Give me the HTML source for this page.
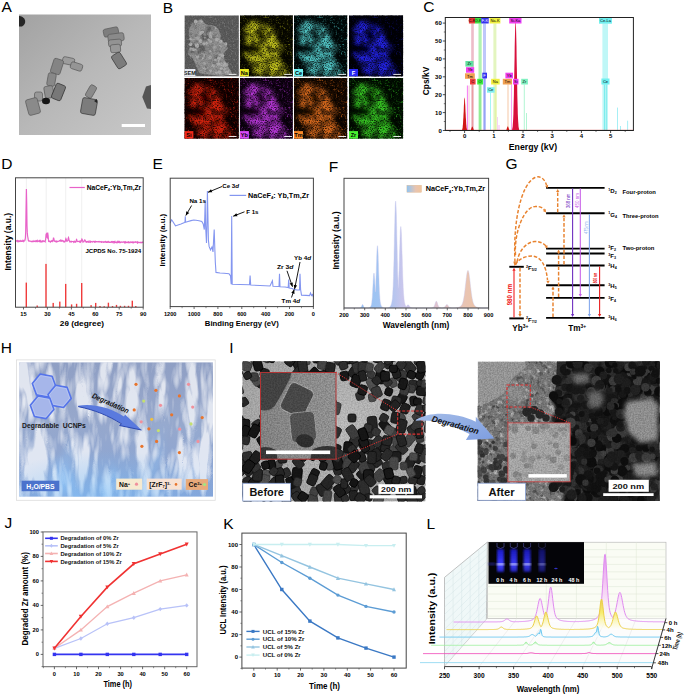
<!DOCTYPE html><html><head><meta charset="utf-8"><style>html,body{margin:0;padding:0;background:#fff;overflow:hidden}svg{display:block;font-family:"Liberation Sans",sans-serif}</style></head><body>
<svg width="685" height="695" viewBox="0 0 685 695">
<rect width="685" height="695" fill="#fff"/>
<text x="1.6" y="12.2" font-size="15.5" font-weight="normal" fill="#000" text-anchor="start" >A</text>
<text x="162.8" y="13.2" font-size="15.5" font-weight="normal" fill="#000" text-anchor="start" >B</text>
<text x="423.2" y="12.2" font-size="15.5" font-weight="normal" fill="#000" text-anchor="start" >C</text>
<text x="1.2" y="169.3" font-size="15.5" font-weight="normal" fill="#000" text-anchor="start" >D</text>
<text x="152.6" y="169.4" font-size="15.5" font-weight="normal" fill="#000" text-anchor="start" >E</text>
<text x="328.8" y="172.3" font-size="15.5" font-weight="normal" fill="#000" text-anchor="start" >F</text>
<text x="505.5" y="168.8" font-size="15.5" font-weight="normal" fill="#000" text-anchor="start" >G</text>
<text x="0.8" y="352.9" font-size="15.5" font-weight="normal" fill="#000" text-anchor="start" >H</text>
<text x="229.2" y="353.1" font-size="15.5" font-weight="normal" fill="#000" text-anchor="start" >I</text>
<text x="4.4" y="528.0" font-size="15.5" font-weight="normal" fill="#000" text-anchor="start" >J</text>
<text x="223.2" y="528.8" font-size="15.5" font-weight="normal" fill="#000" text-anchor="start" >K</text>
<text x="426.6" y="528.9" font-size="15.5" font-weight="normal" fill="#000" text-anchor="start" >L</text>
<defs><linearGradient id="gA" x1="0" y1="0" x2="1" y2="1"><stop offset="0" stop-color="#a2a2a2"/><stop offset="0.5" stop-color="#b8b8b8"/><stop offset="1" stop-color="#c8c8c8"/></linearGradient></defs>
<rect x="19.0" y="14.5" width="132.0" height="120.5" fill="url(#gA)" />
<defs><filter id="sA" x="-0.2" y="-0.2" width="1.4" height="1.4"><feGaussianBlur stdDeviation="0.55"/></filter></defs>
<g filter="url(#sA)">
<path d="M19,16 Q23,16 25,20 Q26,24 22,26.5 L19,26.5 Z" fill="#262626" stroke="none" stroke-width="1" />
<rect x="103.5" y="28.0" width="15" height="8" rx="2" fill="#7e7e7e" stroke="#5a5a5a" stroke-width="0.7" transform="rotate(-12 111 32)"/>
<rect x="108.0" y="33.5" width="16" height="8" rx="2" fill="#8a8a8a" stroke="#5a5a5a" stroke-width="0.7" transform="rotate(-8 116 37.5)"/>
<rect x="108.5" y="39.5" width="13" height="7" rx="2" fill="#939393" stroke="#5a5a5a" stroke-width="0.7" transform="rotate(-5 115 43)"/>
<rect x="110.5" y="44.5" width="10" height="8" rx="2" fill="#989898" stroke="#5a5a5a" stroke-width="0.7" transform="rotate(-5 115.5 48.5)"/>
<rect x="114.0" y="53.0" width="10" height="15" rx="2" fill="#7c7c7c" stroke="#3a3a3a" stroke-width="0.7" transform="rotate(-32 119 60.5)"/>
<rect x="62.5" y="57.5" width="12" height="7" rx="2" fill="#9c9c9c" stroke="#5a5a5a" stroke-width="0.7" transform="rotate(12 68.5 61)"/>
<rect x="70.5" y="63.0" width="12" height="7" rx="2" fill="#959595" stroke="#5a5a5a" stroke-width="0.7" transform="rotate(18 76.5 66.5)"/>
<rect x="52.0" y="59.0" width="10" height="15" rx="2" fill="#848484" stroke="#5a5a5a" stroke-width="0.7" transform="rotate(18 57 66.5)"/>
<rect x="47.5" y="73.0" width="8" height="13" rx="2" fill="#888888" stroke="#5a5a5a" stroke-width="0.7" transform="rotate(10 51.5 79.5)"/>
<rect x="44.5" y="86.0" width="9" height="12" rx="2" fill="#909090" stroke="#5a5a5a" stroke-width="0.7" transform="rotate(-10 49 92)"/>
<rect x="53.5" y="84.0" width="10" height="16" rx="2" fill="#787878" stroke="#303030" stroke-width="0.7" transform="rotate(22 58.5 92)"/>
<rect x="34.5" y="92.0" width="8" height="9" rx="2" fill="#989898" stroke="#5a5a5a" stroke-width="0.7" transform="rotate(0 38.5 96.5)"/>
<rect x="27.0" y="98.5" width="12" height="16" rx="2" fill="#8a8a8a" stroke="#5a5a5a" stroke-width="0.7" transform="rotate(-15 33 106.5)"/>
<ellipse cx="46" cy="101" rx="4" ry="3.2" fill="#161616"/>
<rect x="87.5" y="85.0" width="7" height="13" rx="2" fill="#8a8a8a" stroke="#5a5a5a" stroke-width="0.7" transform="rotate(30 91 91.5)"/>
<rect x="81.5" y="98.5" width="15" height="16" rx="2" fill="#7c7c7c" stroke="#3a3a3a" stroke-width="0.7" transform="rotate(10 89 106.5)"/>
<path d="M94,101 L97,99 L97,103 Z" fill="#222" stroke="none" stroke-width="1" />
<path d="M151,85 L146,86.5 L142.3,97 L147,108.5 L151,109 Z" fill="#555555" stroke="none" stroke-width="1" />
</g>
<rect x="121.7" y="124.0" width="23.3" height="3.0" fill="#fff" />
<defs><filter id="sH" x="-0.2" y="-0.2" width="1.4" height="1.4"><feGaussianBlur stdDeviation="1.3"/></filter><filter id="bsoft" x="-0.2" y="-0.2" width="1.4" height="1.4"><feGaussianBlur stdDeviation="2.2"/></filter><filter id="spkA" x="0" y="0" width="1" height="1"><feTurbulence type="fractalNoise" baseFrequency="0.85" numOctaves="1" seed="7"/><feColorMatrix values="0 0 0 0 0  0 0 0 0 0  0 0 0 0 0  -3.5 0 0 0 1.95"/></filter><filter id="spkL" x="0" y="0" width="1" height="1"><feTurbulence type="fractalNoise" baseFrequency="0.13" numOctaves="2" seed="4"/><feColorMatrix values="0 0 0 0 0  0 0 0 0 0  0 0 0 0 0  -4.0 0 0 0 2.3"/></filter><filter id="spkB" x="0" y="0" width="1" height="1"><feTurbulence type="fractalNoise" baseFrequency="0.55" numOctaves="2" seed="19"/><feColorMatrix values="0 0 0 0 1  0 0 0 0 1  0 0 0 0 1  4 0 0 0 -2.1"/></filter><mask id="mB" maskUnits="userSpaceOnUse" x="0" y="0" width="54.5" height="61.5"><rect x="0" y="0" width="54.5" height="61.5" fill="#fff" filter="url(#spkB)"/></mask><clipPath id="tileclip"><rect x="0" y="0" width="54.5" height="61.5"/></clipPath></defs>
<g transform="translate(184.4,15.3)" clip-path="url(#tc0)">
<clipPath id="tc0"><rect x="0" y="0" width="54.5" height="61.3"/></clipPath>
<rect x="0.0" y="0.0" width="54.5" height="61.3" fill="#5a5a5a" />
<g filter="url(#sA)"><path d="M10.7,6.2 L16.9,4.0 L22.3,9.8 L27.6,9.8 L33.9,13.4 L36.5,20.5 L35.7,25.0 L41.9,28.5 L42.8,33.9 L39.2,38.3 L40.1,44.6 L42.8,49.9 L46.3,55.3 L48.1,58.8 L37.4,60.6 L26.7,59.7 L15.2,57.9 L11.6,49.9 L8.0,42.8 L3.6,39.2 L2.7,30.3 L6.2,26.7 L4.5,19.6 L4.9,12.5 L8.0,8.9 Z" fill="#8e8e8e"/></g><g filter="url(#sH)"><path d="M16,16 L25,15.5 L25.5,25 L17,25.5 Z M2,28 L10,28.5 L19,29 L23,34 L19,38.5 L10,38 L2,37 Z M22.5,10.5 L28,11 L27.5,16 L22.5,15.5 Z M30,40 L36,41 L35,47 L30,46 Z" fill="#5a5a5a" opacity="0.9"/></g>
<circle cx="13.0" cy="50.2" r="1.4" fill="#7c7c7c"/>
<circle cx="12.8" cy="33.9" r="1.9" fill="#7c7c7c"/>
<circle cx="27.4" cy="51.0" r="1.5" fill="#848484"/>
<circle cx="6.3" cy="33.6" r="1.6" fill="#a2a2a2"/>
<circle cx="11.1" cy="11.7" r="1.9" fill="#7c7c7c"/>
<circle cx="37.7" cy="55.0" r="1.3" fill="#7c7c7c"/>
<circle cx="11.4" cy="20.1" r="1.3" fill="#7c7c7c"/>
<circle cx="42.2" cy="32.8" r="1.4" fill="#7c7c7c"/>
<circle cx="33.9" cy="56.1" r="1.5" fill="#7c7c7c"/>
<circle cx="28.6" cy="50.5" r="1.8" fill="#aaaaaa"/>
<circle cx="11.8" cy="28.8" r="1.8" fill="#848484"/>
<circle cx="20.8" cy="57.8" r="1.2" fill="#7c7c7c"/>
<circle cx="34.2" cy="45.5" r="1.3" fill="#aaaaaa"/>
<circle cx="25.5" cy="42.2" r="1.3" fill="#7c7c7c"/>
<circle cx="26.2" cy="21.5" r="1.7" fill="#aaaaaa"/>
<circle cx="6.1" cy="23.8" r="1.3" fill="#aaaaaa"/>
<circle cx="8.7" cy="9.1" r="2.0" fill="#7c7c7c"/>
<circle cx="12.6" cy="30.6" r="2.0" fill="#aaaaaa"/>
<circle cx="31.1" cy="44.7" r="1.6" fill="#aaaaaa"/>
<circle cx="14.5" cy="51.2" r="1.6" fill="#7c7c7c"/>
<circle cx="22.4" cy="33.0" r="1.6" fill="#a2a2a2"/>
<circle cx="10.2" cy="36.1" r="1.2" fill="#7c7c7c"/>
<circle cx="28.3" cy="19.2" r="1.8" fill="#848484"/>
<circle cx="40.5" cy="47.7" r="1.6" fill="#aaaaaa"/>
<circle cx="21.6" cy="53.0" r="2.0" fill="#aaaaaa"/>
<circle cx="35.6" cy="56.4" r="1.7" fill="#a2a2a2"/>
<circle cx="7.8" cy="21.9" r="1.4" fill="#7c7c7c"/>
<circle cx="32.7" cy="35.4" r="1.9" fill="#7c7c7c"/>
<circle cx="18.5" cy="41.4" r="1.3" fill="#aaaaaa"/>
<circle cx="24.5" cy="37.8" r="1.2" fill="#7c7c7c"/>
<circle cx="42.4" cy="49.3" r="1.7" fill="#a2a2a2"/>
<circle cx="21.0" cy="43.6" r="1.8" fill="#848484"/>
<circle cx="11.0" cy="34.6" r="1.5" fill="#a2a2a2"/>
<circle cx="12.4" cy="29.6" r="2.0" fill="#aaaaaa"/>
<circle cx="20.9" cy="40.2" r="1.5" fill="#848484"/>
<circle cx="35.4" cy="39.5" r="1.5" fill="#a2a2a2"/>
<circle cx="27.0" cy="47.9" r="1.4" fill="#848484"/>
<circle cx="43.0" cy="57.3" r="1.7" fill="#a2a2a2"/>
<circle cx="24.1" cy="18.4" r="1.8" fill="#848484"/>
<circle cx="5.1" cy="35.8" r="1.4" fill="#7c7c7c"/>
<circle cx="16.0" cy="25.6" r="1.8" fill="#aaaaaa"/>
<circle cx="37.1" cy="49.1" r="1.6" fill="#a2a2a2"/>
<circle cx="20.8" cy="52.9" r="1.7" fill="#aaaaaa"/>
<circle cx="16.5" cy="17.3" r="1.7" fill="#aaaaaa"/>
<circle cx="35.5" cy="36.5" r="1.5" fill="#7c7c7c"/>
<circle cx="7.9" cy="27.2" r="1.3" fill="#848484"/>
<circle cx="26.6" cy="17.9" r="2.0" fill="#a2a2a2"/>
<circle cx="17.8" cy="42.5" r="1.7" fill="#aaaaaa"/>
<circle cx="27.5" cy="26.3" r="1.8" fill="#848484"/>
<circle cx="31.7" cy="57.3" r="1.3" fill="#aaaaaa"/>
<circle cx="19.4" cy="28.5" r="1.6" fill="#aaaaaa"/>
<circle cx="28.0" cy="35.6" r="1.7" fill="#7c7c7c"/>
<circle cx="42.9" cy="58.1" r="1.3" fill="#848484"/>
<circle cx="30.2" cy="13.0" r="2.0" fill="#a2a2a2"/>
<circle cx="34.5" cy="43.0" r="2.0" fill="#aaaaaa"/>
<circle cx="6.2" cy="29.2" r="1.8" fill="#aaaaaa"/>
<circle cx="9.1" cy="39.0" r="1.4" fill="#848484"/>
<circle cx="42.8" cy="58.3" r="1.5" fill="#a2a2a2"/>
<circle cx="25.7" cy="45.1" r="1.9" fill="#848484"/>
<circle cx="36.5" cy="26.0" r="1.8" fill="#aaaaaa"/>
<circle cx="13.3" cy="20.2" r="1.7" fill="#7c7c7c"/>
<circle cx="26.4" cy="35.2" r="2.0" fill="#848484"/>
<circle cx="26.1" cy="25.0" r="1.2" fill="#848484"/>
<circle cx="26.5" cy="34.2" r="1.9" fill="#7c7c7c"/>
<circle cx="22.8" cy="55.0" r="1.7" fill="#7c7c7c"/>
<circle cx="8.8" cy="34.1" r="1.8" fill="#a2a2a2"/>
<circle cx="37.5" cy="58.7" r="1.2" fill="#a2a2a2"/>
<circle cx="15.7" cy="27.0" r="1.4" fill="#aaaaaa"/>
<circle cx="18.4" cy="39.6" r="1.9" fill="#aaaaaa"/>
<circle cx="16.7" cy="6.5" r="1.9" fill="#a2a2a2"/>
<circle cx="11.8" cy="36.2" r="1.6" fill="#848484"/>
<circle cx="16.6" cy="6.7" r="1.7" fill="#a2a2a2"/>
<circle cx="13.0" cy="50.5" r="1.8" fill="#848484"/>
<circle cx="32.6" cy="31.8" r="1.5" fill="#aaaaaa"/>
<circle cx="38.4" cy="59.8" r="1.4" fill="#848484"/>
<circle cx="33.6" cy="24.0" r="1.3" fill="#aaaaaa"/>
<circle cx="29.7" cy="32.0" r="1.7" fill="#a2a2a2"/>
<circle cx="27.2" cy="31.6" r="1.3" fill="#848484"/>
<circle cx="16.3" cy="42.6" r="1.6" fill="#7c7c7c"/>
<circle cx="43.3" cy="56.3" r="1.4" fill="#aaaaaa"/>
<circle cx="22.1" cy="27.9" r="1.4" fill="#aaaaaa"/>
<circle cx="16.2" cy="17.8" r="1.8" fill="#aaaaaa"/>
<circle cx="11.8" cy="26.3" r="1.9" fill="#7c7c7c"/>
<circle cx="15.3" cy="19.3" r="1.4" fill="#a2a2a2"/>
<circle cx="16.5" cy="39.9" r="1.3" fill="#a2a2a2"/>
<circle cx="25.7" cy="42.1" r="1.9" fill="#a2a2a2"/>
<circle cx="16.7" cy="40.9" r="1.7" fill="#848484"/>
<circle cx="26.2" cy="26.3" r="1.5" fill="#aaaaaa"/>
<circle cx="13.5" cy="22.6" r="2.0" fill="#a2a2a2"/>
<circle cx="21.6" cy="51.4" r="1.5" fill="#7c7c7c"/>
<circle cx="37.0" cy="52.9" r="1.5" fill="#aaaaaa"/>
<circle cx="18.3" cy="16.7" r="1.6" fill="#aaaaaa"/>
<circle cx="32.7" cy="54.8" r="1.5" fill="#848484"/>
<circle cx="22.8" cy="49.4" r="1.2" fill="#848484"/>
<circle cx="41.3" cy="56.5" r="1.3" fill="#aaaaaa"/>
<circle cx="35.4" cy="31.0" r="1.4" fill="#a2a2a2"/>
<circle cx="34.7" cy="56.9" r="1.9" fill="#aaaaaa"/>
<circle cx="27.9" cy="30.0" r="1.2" fill="#7c7c7c"/>
<circle cx="16.9" cy="29.1" r="1.2" fill="#7c7c7c"/>
<circle cx="39.9" cy="50.3" r="2.0" fill="#aaaaaa"/>
<circle cx="6.5" cy="18.7" r="1.8" fill="#7c7c7c"/>
<circle cx="25.9" cy="36.1" r="1.4" fill="#a2a2a2"/>
<circle cx="37.8" cy="40.1" r="2.0" fill="#aaaaaa"/>
<circle cx="22.2" cy="33.1" r="1.7" fill="#848484"/>
<circle cx="13.0" cy="41.2" r="1.5" fill="#aaaaaa"/>
<circle cx="28.5" cy="13.1" r="2.0" fill="#7c7c7c"/>
<circle cx="17.7" cy="36.8" r="1.5" fill="#7c7c7c"/>
<circle cx="20.7" cy="22.5" r="1.3" fill="#848484"/>
<circle cx="30.0" cy="47.4" r="1.9" fill="#7c7c7c"/>
<circle cx="20.2" cy="48.1" r="1.3" fill="#a2a2a2"/>
<circle cx="17.3" cy="40.3" r="1.7" fill="#7c7c7c"/>
<circle cx="29.6" cy="21.6" r="1.9" fill="#7c7c7c"/>
<circle cx="8.7" cy="23.3" r="2.0" fill="#a2a2a2"/>
<circle cx="25.2" cy="31.3" r="1.9" fill="#7c7c7c"/>
<circle cx="26.1" cy="55.5" r="1.3" fill="#aaaaaa"/>
<circle cx="25.5" cy="20.2" r="1.5" fill="#a2a2a2"/>
<circle cx="32.1" cy="24.3" r="1.7" fill="#aaaaaa"/>
<circle cx="20.3" cy="18.7" r="1.7" fill="#848484"/>
<circle cx="17.5" cy="17.0" r="1.3" fill="#aaaaaa"/>
<circle cx="31.0" cy="19.3" r="1.3" fill="#7c7c7c"/>
<circle cx="33.8" cy="31.9" r="1.7" fill="#848484"/>
<circle cx="8.9" cy="10.9" r="1.2" fill="#848484"/>
<circle cx="41.5" cy="28.5" r="1.5" fill="#aaaaaa"/>
<circle cx="8.9" cy="22.3" r="1.6" fill="#848484"/>
<circle cx="24.3" cy="24.4" r="1.2" fill="#a2a2a2"/>
<circle cx="33.9" cy="48.7" r="2.0" fill="#aaaaaa"/>
<circle cx="39.9" cy="54.4" r="1.6" fill="#a2a2a2"/>
<circle cx="12.7" cy="38.9" r="1.2" fill="#7c7c7c"/>
<circle cx="11.3" cy="6.1" r="1.9" fill="#aaaaaa"/>
<rect x="0" y="0" width="54.5" height="61.5" fill="#000" filter="url(#spkA)" opacity="0.12"/>
<rect x="0" y="0" width="54.5" height="61.5" fill="#fff" filter="url(#spkB)" opacity="0.15"/>
<rect x="0.0" y="53.7" width="11.0" height="7.6" fill="#e6e8f0" />
<text x="5.5" y="59.4" font-size="5.6" font-weight="bold" fill="#222" text-anchor="middle" >SEM</text>
<line x1="44.3" y1="59.1" x2="52.1" y2="59.1" stroke="#fff" stroke-width="0.9" />
</g>
<g transform="translate(239.9,15.3)" clip-path="url(#tc1)">
<clipPath id="tc1"><rect x="0" y="0" width="53.0" height="61.3"/></clipPath>
<rect x="0.0" y="0.0" width="53.0" height="61.3" fill="#0c0c00" />
<rect x="0" y="0" width="54.5" height="61.5" fill="#c0c020" mask="url(#mB)" opacity="0.45"/>
<g filter="url(#bsoft)"><path d="M10.7,6.2 L16.9,4.0 L22.3,9.8 L27.6,9.8 L33.9,13.4 L36.5,20.5 L35.7,25.0 L41.9,28.5 L42.8,33.9 L39.2,38.3 L40.1,44.6 L42.8,49.9 L46.3,55.3 L48.1,58.8 L37.4,60.6 L26.7,59.7 L15.2,57.9 L11.6,49.9 L8.0,42.8 L3.6,39.2 L2.7,30.3 L6.2,26.7 L4.5,19.6 L4.9,12.5 L8.0,8.9 Z" fill="#bcbc1c"/><path d="M16,16 L25,15.5 L25.5,25 L17,25.5 Z M2,28 L10,28.5 L19,29 L23,34 L19,38.5 L10,38 L2,37 Z M22.5,10.5 L28,11 L27.5,16 L22.5,15.5 Z M30,40 L36,41 L35,47 L30,46 Z" fill="#0c0c00"/></g>
<rect x="0" y="0" width="54.5" height="61.5" fill="#000" filter="url(#spkL)" opacity="0.5"/>
<rect x="0" y="0" width="54.5" height="61.5" fill="#000" filter="url(#spkA)" opacity="0.75"/>
<rect x="0.0" y="53.7" width="9.0" height="7.6" fill="#e8e820" />
<text x="4.5" y="59.4" font-size="5.6" font-weight="bold" fill="#000" text-anchor="middle" >Na</text>
<line x1="44.3" y1="59.1" x2="52.1" y2="59.1" stroke="#fff" stroke-width="0.9" />
</g>
<g transform="translate(294.0,15.3)" clip-path="url(#tc2)">
<clipPath id="tc2"><rect x="0" y="0" width="53.4" height="61.3"/></clipPath>
<rect x="0.0" y="0.0" width="53.4" height="61.3" fill="#000c0c" />
<rect x="0" y="0" width="54.5" height="61.5" fill="#50c0c0" mask="url(#mB)" opacity="0.6"/>
<g filter="url(#bsoft)"><path d="M10.7,6.2 L16.9,4.0 L22.3,9.8 L27.6,9.8 L33.9,13.4 L36.5,20.5 L35.7,25.0 L41.9,28.5 L42.8,33.9 L39.2,38.3 L40.1,44.6 L42.8,49.9 L46.3,55.3 L48.1,58.8 L37.4,60.6 L26.7,59.7 L15.2,57.9 L11.6,49.9 L8.0,42.8 L3.6,39.2 L2.7,30.3 L6.2,26.7 L4.5,19.6 L4.9,12.5 L8.0,8.9 Z" fill="#50c0c0"/><path d="M16,16 L25,15.5 L25.5,25 L17,25.5 Z M2,28 L10,28.5 L19,29 L23,34 L19,38.5 L10,38 L2,37 Z M22.5,10.5 L28,11 L27.5,16 L22.5,15.5 Z M30,40 L36,41 L35,47 L30,46 Z" fill="#000c0c"/></g>
<rect x="0" y="0" width="54.5" height="61.5" fill="#000" filter="url(#spkL)" opacity="0.5"/>
<rect x="0" y="0" width="54.5" height="61.5" fill="#000" filter="url(#spkA)" opacity="0.75"/>
<rect x="0.0" y="53.7" width="9.0" height="7.6" fill="#6ef0f0" />
<text x="4.5" y="59.4" font-size="5.6" font-weight="bold" fill="#000" text-anchor="middle" >Ce</text>
<line x1="44.3" y1="59.1" x2="52.1" y2="59.1" stroke="#fff" stroke-width="0.9" />
</g>
<g transform="translate(349.0,15.3)" clip-path="url(#tc3)">
<clipPath id="tc3"><rect x="0" y="0" width="54.2" height="61.3"/></clipPath>
<rect x="0.0" y="0.0" width="54.2" height="61.3" fill="#000008" />
<rect x="0" y="0" width="54.5" height="61.5" fill="#2020d0" mask="url(#mB)" opacity="0.35"/>
<g filter="url(#bsoft)"><path d="M10.7,6.2 L16.9,4.0 L22.3,9.8 L27.6,9.8 L33.9,13.4 L36.5,20.5 L35.7,25.0 L41.9,28.5 L42.8,33.9 L39.2,38.3 L40.1,44.6 L42.8,49.9 L46.3,55.3 L48.1,58.8 L37.4,60.6 L26.7,59.7 L15.2,57.9 L11.6,49.9 L8.0,42.8 L3.6,39.2 L2.7,30.3 L6.2,26.7 L4.5,19.6 L4.9,12.5 L8.0,8.9 Z" fill="#2222e0"/><path d="M16,16 L25,15.5 L25.5,25 L17,25.5 Z M2,28 L10,28.5 L19,29 L23,34 L19,38.5 L10,38 L2,37 Z M22.5,10.5 L28,11 L27.5,16 L22.5,15.5 Z M30,40 L36,41 L35,47 L30,46 Z" fill="#000008"/></g>
<rect x="0" y="0" width="54.5" height="61.5" fill="#000" filter="url(#spkL)" opacity="0.5"/>
<rect x="0" y="0" width="54.5" height="61.5" fill="#000" filter="url(#spkA)" opacity="0.75"/>
<rect x="0.0" y="53.7" width="9.0" height="7.6" fill="#2828f0" />
<text x="4.5" y="59.4" font-size="5.6" font-weight="bold" fill="#fff" text-anchor="middle" >F</text>
<line x1="44.3" y1="59.1" x2="52.1" y2="59.1" stroke="#fff" stroke-width="0.9" />
</g>
<g transform="translate(184.4,78.0)" clip-path="url(#tc4)">
<clipPath id="tc4"><rect x="0" y="0" width="54.5" height="60.7"/></clipPath>
<rect x="0.0" y="0.0" width="54.5" height="60.7" fill="#1c0200" />
<rect x="0" y="0" width="54.5" height="61.5" fill="#c02010" mask="url(#mB)" opacity="0.75"/>
<g filter="url(#bsoft)"><path d="M10.7,6.2 L16.9,4.0 L22.3,9.8 L27.6,9.8 L33.9,13.4 L36.5,20.5 L35.7,25.0 L41.9,28.5 L42.8,33.9 L39.2,38.3 L40.1,44.6 L42.8,49.9 L46.3,55.3 L48.1,58.8 L37.4,60.6 L26.7,59.7 L15.2,57.9 L11.6,49.9 L8.0,42.8 L3.6,39.2 L2.7,30.3 L6.2,26.7 L4.5,19.6 L4.9,12.5 L8.0,8.9 Z" fill="#d02410"/><path d="M16,16 L25,15.5 L25.5,25 L17,25.5 Z M2,28 L10,28.5 L19,29 L23,34 L19,38.5 L10,38 L2,37 Z M22.5,10.5 L28,11 L27.5,16 L22.5,15.5 Z M30,40 L36,41 L35,47 L30,46 Z" fill="#1c0200"/></g>
<rect x="0" y="0" width="54.5" height="61.5" fill="#000" filter="url(#spkL)" opacity="0.5"/>
<rect x="0" y="0" width="54.5" height="61.5" fill="#000" filter="url(#spkA)" opacity="0.75"/>
<rect x="0.0" y="53.1" width="9.0" height="7.6" fill="#f02818" />
<text x="4.5" y="58.8" font-size="5.6" font-weight="bold" fill="#000" text-anchor="middle" >Si</text>
<line x1="44.3" y1="58.5" x2="52.1" y2="58.5" stroke="#fff" stroke-width="0.9" />
</g>
<g transform="translate(239.9,78.0)" clip-path="url(#tc5)">
<clipPath id="tc5"><rect x="0" y="0" width="53.0" height="60.7"/></clipPath>
<rect x="0.0" y="0.0" width="53.0" height="60.7" fill="#140218" />
<rect x="0" y="0" width="54.5" height="61.5" fill="#a030c0" mask="url(#mB)" opacity="0.7"/>
<g filter="url(#bsoft)"><path d="M10.7,6.2 L16.9,4.0 L22.3,9.8 L27.6,9.8 L33.9,13.4 L36.5,20.5 L35.7,25.0 L41.9,28.5 L42.8,33.9 L39.2,38.3 L40.1,44.6 L42.8,49.9 L46.3,55.3 L48.1,58.8 L37.4,60.6 L26.7,59.7 L15.2,57.9 L11.6,49.9 L8.0,42.8 L3.6,39.2 L2.7,30.3 L6.2,26.7 L4.5,19.6 L4.9,12.5 L8.0,8.9 Z" fill="#b034d0"/><path d="M16,16 L25,15.5 L25.5,25 L17,25.5 Z M2,28 L10,28.5 L19,29 L23,34 L19,38.5 L10,38 L2,37 Z M22.5,10.5 L28,11 L27.5,16 L22.5,15.5 Z M30,40 L36,41 L35,47 L30,46 Z" fill="#140218"/></g>
<rect x="0" y="0" width="54.5" height="61.5" fill="#000" filter="url(#spkL)" opacity="0.5"/>
<rect x="0" y="0" width="54.5" height="61.5" fill="#000" filter="url(#spkA)" opacity="0.75"/>
<rect x="0.0" y="53.1" width="9.0" height="7.6" fill="#d848f8" />
<text x="4.5" y="58.8" font-size="5.6" font-weight="bold" fill="#000" text-anchor="middle" >Yb</text>
<line x1="44.3" y1="58.5" x2="52.1" y2="58.5" stroke="#fff" stroke-width="0.9" />
</g>
<g transform="translate(294.0,78.0)" clip-path="url(#tc6)">
<clipPath id="tc6"><rect x="0" y="0" width="53.4" height="60.7"/></clipPath>
<rect x="0.0" y="0.0" width="53.4" height="60.7" fill="#1c0c02" />
<rect x="0" y="0" width="54.5" height="61.5" fill="#c06018" mask="url(#mB)" opacity="0.75"/>
<g filter="url(#bsoft)"><path d="M10.7,6.2 L16.9,4.0 L22.3,9.8 L27.6,9.8 L33.9,13.4 L36.5,20.5 L35.7,25.0 L41.9,28.5 L42.8,33.9 L39.2,38.3 L40.1,44.6 L42.8,49.9 L46.3,55.3 L48.1,58.8 L37.4,60.6 L26.7,59.7 L15.2,57.9 L11.6,49.9 L8.0,42.8 L3.6,39.2 L2.7,30.3 L6.2,26.7 L4.5,19.6 L4.9,12.5 L8.0,8.9 Z" fill="#d0661c"/><path d="M16,16 L25,15.5 L25.5,25 L17,25.5 Z M2,28 L10,28.5 L19,29 L23,34 L19,38.5 L10,38 L2,37 Z M22.5,10.5 L28,11 L27.5,16 L22.5,15.5 Z M30,40 L36,41 L35,47 L30,46 Z" fill="#1c0c02"/></g>
<rect x="0" y="0" width="54.5" height="61.5" fill="#000" filter="url(#spkL)" opacity="0.5"/>
<rect x="0" y="0" width="54.5" height="61.5" fill="#000" filter="url(#spkA)" opacity="0.75"/>
<rect x="0.0" y="53.1" width="9.0" height="7.6" fill="#f88828" />
<text x="4.5" y="58.8" font-size="5.6" font-weight="bold" fill="#000" text-anchor="middle" >Tm</text>
<line x1="44.3" y1="58.5" x2="52.1" y2="58.5" stroke="#fff" stroke-width="0.9" />
</g>
<g transform="translate(349.0,78.0)" clip-path="url(#tc7)">
<clipPath id="tc7"><rect x="0" y="0" width="54.2" height="60.7"/></clipPath>
<rect x="0.0" y="0.0" width="54.2" height="60.7" fill="#021202" />
<rect x="0" y="0" width="54.5" height="61.5" fill="#30b020" mask="url(#mB)" opacity="0.7"/>
<g filter="url(#bsoft)"><path d="M10.7,6.2 L16.9,4.0 L22.3,9.8 L27.6,9.8 L33.9,13.4 L36.5,20.5 L35.7,25.0 L41.9,28.5 L42.8,33.9 L39.2,38.3 L40.1,44.6 L42.8,49.9 L46.3,55.3 L48.1,58.8 L37.4,60.6 L26.7,59.7 L15.2,57.9 L11.6,49.9 L8.0,42.8 L3.6,39.2 L2.7,30.3 L6.2,26.7 L4.5,19.6 L4.9,12.5 L8.0,8.9 Z" fill="#36c024"/><path d="M16,16 L25,15.5 L25.5,25 L17,25.5 Z M2,28 L10,28.5 L19,29 L23,34 L19,38.5 L10,38 L2,37 Z M22.5,10.5 L28,11 L27.5,16 L22.5,15.5 Z M30,40 L36,41 L35,47 L30,46 Z" fill="#021202"/></g>
<rect x="0" y="0" width="54.5" height="61.5" fill="#000" filter="url(#spkL)" opacity="0.5"/>
<rect x="0" y="0" width="54.5" height="61.5" fill="#000" filter="url(#spkA)" opacity="0.75"/>
<rect x="0.0" y="53.1" width="9.0" height="7.6" fill="#48f030" />
<text x="4.5" y="58.8" font-size="5.6" font-weight="bold" fill="#000" text-anchor="middle" >Zr</text>
<line x1="44.3" y1="58.5" x2="52.1" y2="58.5" stroke="#fff" stroke-width="0.9" />
</g>
<rect x="471.2" y="23.5" width="2.6" height="107.0" fill="#e6a0b0" opacity="0.7"/>
<rect x="478.5" y="23.5" width="3.2" height="107.0" fill="#90ee90" opacity="0.7"/>
<rect x="483.0" y="23.5" width="3.0" height="107.0" fill="#a8b4f8" opacity="0.75"/>
<rect x="493.4" y="23.5" width="3.0" height="107.0" fill="#e0f4b8" opacity="0.9"/>
<rect x="602.4" y="23.5" width="5.6" height="107.0" fill="#b8f6f6" opacity="0.9"/>
<line x1="467.4" y1="130.5" x2="467.4" y2="85.5" stroke="#f040f0" stroke-width="0.7" />
<line x1="469.0" y1="130.5" x2="469.0" y2="85.5" stroke="#f4b0c0" stroke-width="0.7" />
<line x1="472.5" y1="130.5" x2="472.5" y2="84.5" stroke="#e89090" stroke-width="0.7" />
<line x1="480.0" y1="130.5" x2="480.0" y2="84.5" stroke="#60e060" stroke-width="0.7" />
<line x1="484.6" y1="130.5" x2="484.6" y2="78.4" stroke="#8090f0" stroke-width="0.7" />
<line x1="490.5" y1="130.5" x2="490.5" y2="92.7" stroke="#80f0f0" stroke-width="0.7" />
<line x1="496.0" y1="130.5" x2="496.0" y2="84.5" stroke="#e0f080" stroke-width="0.7" />
<line x1="508.0" y1="130.5" x2="508.0" y2="84.5" stroke="#f0b080" stroke-width="0.7" />
<line x1="511.5" y1="130.5" x2="511.5" y2="84.5" stroke="#f080f0" stroke-width="0.7" />
<line x1="524.3" y1="130.5" x2="524.3" y2="84.5" stroke="#90f0c0" stroke-width="0.7" />
<line x1="526.5" y1="130.5" x2="526.5" y2="113.0" stroke="#90f0c0" stroke-width="0.7" />
<line x1="604.5" y1="130.5" x2="604.5" y2="84.5" stroke="#60e8e8" stroke-width="0.7" />
<line x1="606.3" y1="130.5" x2="606.3" y2="84.5" stroke="#60e8e8" stroke-width="0.7" />
<line x1="617.5" y1="130.5" x2="617.5" y2="107.6" stroke="#80e8f0" stroke-width="0.7" />
<line x1="620.5" y1="130.5" x2="620.5" y2="126.0" stroke="#80e8f0" stroke-width="0.7" />
<line x1="627.6" y1="130.5" x2="627.6" y2="120.7" stroke="#80e8f0" stroke-width="0.7" />
<line x1="497.5" y1="130.5" x2="497.5" y2="117.0" stroke="#f0c0f0" stroke-width="0.7" />
<line x1="499.0" y1="130.5" x2="499.0" y2="125.0" stroke="#f0a0f0" stroke-width="0.7" />
<polygon points="461.9,130.1 462.0,129.9 462.2,129.6 462.3,129.2 462.4,128.6 462.6,127.9 462.7,126.9 462.8,125.6 463.0,123.9 463.1,122.0 463.2,119.8 463.4,117.2 463.5,114.4 463.7,111.4 463.8,108.4 463.9,105.5 464.1,102.9 464.2,100.6 464.3,98.9 464.5,97.8 464.6,97.4 464.7,97.8 464.9,98.9 465.0,100.6 465.1,102.9 465.3,105.5 465.4,108.4 465.5,111.4 465.7,114.4 465.8,117.2 466.0,119.8 466.1,122.0 466.2,123.9 466.4,125.6 466.5,126.9 466.6,127.9 466.8,128.6 466.9,129.2 467.0,129.6 467.2,129.9 467.3,130.1 467.3,130.5 461.9,130.5" fill="#d01414" stroke="none" stroke-width="1" />
<polygon points="469.9,130.5 470.0,130.4 470.1,130.4 470.3,130.3 470.4,130.3 470.5,130.2 470.6,130.1 470.7,129.9 470.9,129.7 471.0,129.5 471.1,129.2 471.2,128.9 471.3,128.6 471.5,128.2 471.6,127.8 471.7,127.5 471.8,127.2 471.9,126.9 472.1,126.7 472.2,126.5 472.3,126.5 472.4,126.5 472.5,126.7 472.7,126.9 472.8,127.2 472.9,127.5 473.0,127.8 473.1,128.2 473.3,128.6 473.4,128.9 473.5,129.2 473.6,129.5 473.7,129.7 473.9,129.9 474.0,130.1 474.1,130.2 474.2,130.3 474.3,130.3 474.5,130.4 474.6,130.4 474.7,130.5 474.7,130.5 469.9,130.5" fill="#d01414" stroke="none" stroke-width="1" />
<polygon points="505.4,130.5 505.5,130.4 505.6,130.4 505.8,130.3 505.9,130.3 506.0,130.2 506.1,130.0 506.2,129.9 506.4,129.7 506.5,129.4 506.6,129.2 506.7,128.9 506.8,128.5 507.0,128.1 507.1,127.8 507.2,127.4 507.3,127.1 507.4,126.8 507.6,126.6 507.7,126.4 507.8,126.4 507.9,126.4 508.0,126.6 508.2,126.8 508.3,127.1 508.4,127.4 508.5,127.8 508.6,128.1 508.8,128.5 508.9,128.9 509.0,129.2 509.1,129.4 509.2,129.7 509.4,129.9 509.5,130.0 509.6,130.2 509.7,130.3 509.8,130.3 510.0,130.4 510.1,130.4 510.2,130.5 510.2,130.5 505.4,130.5" fill="#d01414" stroke="none" stroke-width="1" />
<polygon points="512.1,129.3 512.3,128.6 512.5,127.6 512.7,126.2 512.8,124.3 513.0,121.7 513.2,118.3 513.4,113.9 513.5,108.5 513.7,102.0 513.9,94.5 514.0,85.9 514.2,76.5 514.4,66.5 514.6,56.5 514.7,46.7 514.9,37.8 515.1,30.2 515.3,24.4 515.4,20.7 515.6,19.5 515.8,20.7 515.9,24.4 516.1,30.2 516.3,37.8 516.5,46.7 516.6,56.5 516.8,66.5 517.0,76.5 517.2,85.9 517.3,94.5 517.5,102.0 517.7,108.5 517.8,113.9 518.0,118.3 518.2,121.7 518.4,124.3 518.5,126.2 518.7,127.6 518.9,128.6 519.1,129.3 519.1,130.5 512.1,130.5" fill="#d8103c" stroke="none" stroke-width="1" />
<line x1="445.3" y1="130.3" x2="633.4" y2="130.3" stroke="#c83030" stroke-width="0.8" />
<rect x="468.9" y="17.9" width="6.1" height="5.6" fill="#e83838" />
<text x="471.9" y="22.2" font-size="4.0" font-weight="normal" fill="#000" text-anchor="middle" >C-K</text>
<rect x="475.0" y="17.9" width="6.2" height="5.6" fill="#40e040" />
<text x="478.1" y="22.2" font-size="4.0" font-weight="normal" fill="#000" text-anchor="middle" >O-K</text>
<rect x="481.2" y="17.9" width="7.5" height="5.6" fill="#3434f0" />
<text x="484.9" y="22.2" font-size="4.0" font-weight="normal" fill="#fff" text-anchor="middle" >F-K</text>
<rect x="489.6" y="17.9" width="10.8" height="5.6" fill="#f0f040" />
<text x="495.0" y="22.2" font-size="4.0" font-weight="normal" fill="#000" text-anchor="middle" >Na-K</text>
<rect x="509.2" y="17.9" width="12.3" height="5.6" fill="#f040f0" />
<text x="515.4" y="22.2" font-size="4.0" font-weight="normal" fill="#000" text-anchor="middle" >Si-Ka</text>
<rect x="599.0" y="18.0" width="12.9" height="5.7" fill="#70f0f0" />
<text x="605.5" y="22.4" font-size="4.0" font-weight="normal" fill="#000" text-anchor="middle" >Ce-La</text>
<rect x="465.4" y="61.0" width="8.1" height="5.6" fill="#60e0a0" />
<text x="469.4" y="65.3" font-size="4.0" font-weight="normal" fill="#000" text-anchor="middle" >Zr</text>
<rect x="466.0" y="67.2" width="8.2" height="5.5" fill="#f040f0" />
<text x="470.1" y="71.4" font-size="4.0" font-weight="normal" fill="#000" text-anchor="middle" >Yb</text>
<rect x="465.0" y="73.3" width="9.8" height="5.5" fill="#f0a050" />
<text x="469.9" y="77.5" font-size="4.0" font-weight="normal" fill="#000" text-anchor="middle" >Tm</text>
<rect x="470.0" y="78.8" width="5.6" height="5.7" fill="#f04040" />
<text x="472.8" y="83.2" font-size="4.0" font-weight="normal" fill="#000" text-anchor="middle" >C</text>
<rect x="477.2" y="78.8" width="5.8" height="5.7" fill="#40f040" />
<text x="480.1" y="83.2" font-size="4.0" font-weight="normal" fill="#000" text-anchor="middle" >O</text>
<rect x="482.3" y="72.7" width="4.7" height="5.7" fill="#3434f0" />
<text x="484.6" y="77.1" font-size="4.0" font-weight="normal" fill="#fff" text-anchor="middle" >F</text>
<rect x="491.1" y="78.8" width="8.6" height="5.7" fill="#f0f040" />
<text x="495.4" y="83.2" font-size="4.0" font-weight="normal" fill="#000" text-anchor="middle" >Na</text>
<rect x="487.0" y="87.2" width="7.6" height="5.5" fill="#80f0f0" />
<text x="490.8" y="91.4" font-size="4.0" font-weight="normal" fill="#000" text-anchor="middle" >Ce</text>
<rect x="502.8" y="78.8" width="9.2" height="5.7" fill="#f0a050" />
<text x="507.4" y="83.2" font-size="4.0" font-weight="normal" fill="#000" text-anchor="middle" >Tm</text>
<rect x="505.4" y="72.7" width="7.6" height="5.7" fill="#f040f0" />
<text x="509.2" y="77.1" font-size="4.0" font-weight="normal" fill="#000" text-anchor="middle" >Yb</text>
<rect x="513.0" y="78.8" width="5.5" height="5.7" fill="#f040f0" />
<text x="515.8" y="83.2" font-size="4.0" font-weight="normal" fill="#000" text-anchor="middle" >Si</text>
<rect x="521.2" y="78.8" width="6.7" height="5.7" fill="#80f0c0" />
<text x="524.5" y="83.2" font-size="4.0" font-weight="normal" fill="#000" text-anchor="middle" >Zr</text>
<rect x="601.4" y="78.5" width="8.1" height="6.0" fill="#70f0f0" />
<text x="605.5" y="83.2" font-size="4.0" font-weight="normal" fill="#000" text-anchor="middle" >Ce</text>
<rect x="445.3" y="17.5" width="188.1" height="113" fill="none" stroke="#222" stroke-width="1"/>
<line x1="442.8" y1="130.5" x2="445.3" y2="130.5" stroke="#222" stroke-width="0.8" />
<text x="441.8" y="132.6" font-size="6.0" font-weight="bold" fill="#000" text-anchor="end" >0</text>
<line x1="442.8" y1="112.6" x2="445.3" y2="112.6" stroke="#222" stroke-width="0.8" />
<text x="441.8" y="114.7" font-size="6.0" font-weight="bold" fill="#000" text-anchor="end" >10</text>
<line x1="442.8" y1="94.7" x2="445.3" y2="94.7" stroke="#222" stroke-width="0.8" />
<text x="441.8" y="96.8" font-size="6.0" font-weight="bold" fill="#000" text-anchor="end" >20</text>
<line x1="442.8" y1="76.8" x2="445.3" y2="76.8" stroke="#222" stroke-width="0.8" />
<text x="441.8" y="78.9" font-size="6.0" font-weight="bold" fill="#000" text-anchor="end" >30</text>
<line x1="442.8" y1="58.9" x2="445.3" y2="58.9" stroke="#222" stroke-width="0.8" />
<text x="441.8" y="61.0" font-size="6.0" font-weight="bold" fill="#000" text-anchor="end" >40</text>
<line x1="442.8" y1="41.0" x2="445.3" y2="41.0" stroke="#222" stroke-width="0.8" />
<text x="441.8" y="43.1" font-size="6.0" font-weight="bold" fill="#000" text-anchor="end" >50</text>
<line x1="442.8" y1="23.1" x2="445.3" y2="23.1" stroke="#222" stroke-width="0.8" />
<text x="441.8" y="25.2" font-size="6.0" font-weight="bold" fill="#000" text-anchor="end" >60</text>
<line x1="443.8" y1="121.5" x2="445.3" y2="121.5" stroke="#222" stroke-width="0.6" />
<line x1="443.8" y1="103.7" x2="445.3" y2="103.7" stroke="#222" stroke-width="0.6" />
<line x1="443.8" y1="85.8" x2="445.3" y2="85.8" stroke="#222" stroke-width="0.6" />
<line x1="443.8" y1="67.8" x2="445.3" y2="67.8" stroke="#222" stroke-width="0.6" />
<line x1="443.8" y1="50.0" x2="445.3" y2="50.0" stroke="#222" stroke-width="0.6" />
<line x1="443.8" y1="32.0" x2="445.3" y2="32.0" stroke="#222" stroke-width="0.6" />
<line x1="464.6" y1="130.5" x2="464.6" y2="133.0" stroke="#222" stroke-width="0.8" />
<text x="464.6" y="138.4" font-size="6.0" font-weight="bold" fill="#000" text-anchor="middle" >0</text>
<line x1="493.8" y1="130.5" x2="493.8" y2="133.0" stroke="#222" stroke-width="0.8" />
<text x="493.8" y="138.4" font-size="6.0" font-weight="bold" fill="#000" text-anchor="middle" >1</text>
<line x1="523.0" y1="130.5" x2="523.0" y2="133.0" stroke="#222" stroke-width="0.8" />
<text x="523.0" y="138.4" font-size="6.0" font-weight="bold" fill="#000" text-anchor="middle" >2</text>
<line x1="552.2" y1="130.5" x2="552.2" y2="133.0" stroke="#222" stroke-width="0.8" />
<text x="552.2" y="138.4" font-size="6.0" font-weight="bold" fill="#000" text-anchor="middle" >3</text>
<line x1="581.4" y1="130.5" x2="581.4" y2="133.0" stroke="#222" stroke-width="0.8" />
<text x="581.4" y="138.4" font-size="6.0" font-weight="bold" fill="#000" text-anchor="middle" >4</text>
<line x1="610.6" y1="130.5" x2="610.6" y2="133.0" stroke="#222" stroke-width="0.8" />
<text x="610.6" y="138.4" font-size="6.0" font-weight="bold" fill="#000" text-anchor="middle" >5</text>
<line x1="450.0" y1="130.5" x2="450.0" y2="132.0" stroke="#222" stroke-width="0.6" />
<line x1="479.2" y1="130.5" x2="479.2" y2="132.0" stroke="#222" stroke-width="0.6" />
<line x1="508.4" y1="130.5" x2="508.4" y2="132.0" stroke="#222" stroke-width="0.6" />
<line x1="537.6" y1="130.5" x2="537.6" y2="132.0" stroke="#222" stroke-width="0.6" />
<line x1="566.8" y1="130.5" x2="566.8" y2="132.0" stroke="#222" stroke-width="0.6" />
<line x1="596.0" y1="130.5" x2="596.0" y2="132.0" stroke="#222" stroke-width="0.6" />
<line x1="625.2" y1="130.5" x2="625.2" y2="132.0" stroke="#222" stroke-width="0.6" />
<text x="533.0" y="149.8" font-size="8.7" font-weight="bold" fill="#000" text-anchor="middle" textLength="48.4" lengthAdjust="spacingAndGlyphs" >Energy (kV)</text>
<text x="429.2" y="81.0" font-size="8.6" font-weight="bold" fill="#000" text-anchor="middle" textLength="28.5" lengthAdjust="spacingAndGlyphs" transform="rotate(-90 429.2 81.0)" >Cps/kV</text>
<line x1="26.4" y1="178.0" x2="26.4" y2="307.0" stroke="#e6e6e6" stroke-width="0.6" />
<line x1="46.2" y1="178.0" x2="46.2" y2="307.0" stroke="#e6e6e6" stroke-width="0.6" />
<line x1="65.7" y1="178.0" x2="65.7" y2="307.0" stroke="#e6e6e6" stroke-width="0.6" />
<line x1="81.7" y1="178.0" x2="81.7" y2="307.0" stroke="#e6e6e6" stroke-width="0.6" />
<polyline points="15.5,240.7 15.8,241.0 16.1,240.9 16.5,241.1 16.8,241.1 17.1,240.6 17.4,240.5 17.7,241.4 18.1,240.8 18.4,240.8 18.7,241.5 19.0,241.0 19.3,241.4 19.7,241.0 20.0,241.2 20.3,240.7 20.6,241.2 20.9,241.4 21.2,241.1 21.6,241.3 21.9,241.2 22.2,240.6 22.5,241.3 22.8,241.2 23.2,240.9 23.5,240.6 23.8,241.4 24.1,241.0 24.4,241.0 24.8,240.7 25.1,239.5 25.4,237.8 25.7,231.9 26.0,212.8 26.4,189.0 26.7,202.9 27.0,225.8 27.3,232.9 27.6,236.0 28.0,238.2 28.3,240.4 28.6,240.6 28.9,241.1 29.2,240.9 29.5,241.1 29.9,241.0 30.2,241.0 30.5,241.2 30.8,241.3 31.1,241.6 31.5,241.4 31.8,241.6 32.1,241.5 32.4,241.7 32.7,241.4 33.1,240.9 33.4,241.6 33.7,241.7 34.0,241.6 34.3,241.3 34.7,241.4 35.0,240.9 35.3,241.5 35.6,241.3 35.9,241.0 36.3,240.8 36.6,241.6 36.9,241.7 37.2,240.8 37.5,241.5 37.8,241.2 38.2,240.9 38.5,241.0 38.8,241.5 39.1,241.6 39.4,240.8 39.8,241.4 40.1,240.8 40.4,241.5 40.7,241.1 41.0,241.7 41.4,241.8 41.7,241.3 42.0,241.8 42.3,241.1 42.6,240.9 43.0,241.4 43.3,240.8 43.6,241.0 43.9,241.2 44.2,241.4 44.6,241.0 44.9,240.9 45.2,241.5 45.5,240.0 45.8,237.8 46.1,234.3 46.5,233.8 46.8,236.8 47.1,237.3 47.4,234.2 47.7,232.5 48.1,235.5 48.4,239.4 48.7,241.4 49.0,241.3 49.3,241.3 49.7,241.6 50.0,241.1 50.3,241.2 50.6,241.9 50.9,241.4 51.3,241.4 51.6,240.9 51.9,241.3 52.2,241.5 52.5,240.8 52.9,240.9 53.2,239.6 53.5,237.6 53.8,238.5 54.1,239.9 54.4,241.2 54.8,241.2 55.1,241.6 55.4,241.7 55.7,241.0 56.0,241.0 56.4,241.6 56.7,241.9 57.0,241.2 57.3,241.4 57.6,241.6 58.0,241.3 58.3,241.3 58.6,241.2 58.9,241.1 59.2,241.1 59.6,240.5 59.9,240.4 60.2,240.8 60.5,240.3 60.8,241.1 61.2,241.3 61.5,240.7 61.8,240.3 62.1,240.8 62.4,240.6 62.7,240.9 63.1,241.4 63.4,241.7 63.7,241.1 64.0,241.4 64.3,241.4 64.7,241.9 65.0,241.4 65.3,241.3 65.6,239.4 65.9,238.6 66.3,239.4 66.6,241.0 66.9,241.3 67.2,241.2 67.5,240.9 67.9,240.4 68.2,238.1 68.5,237.5 68.8,238.7 69.1,240.0 69.5,241.1 69.8,241.9 70.1,241.7 70.4,241.9 70.7,241.5 71.0,241.2 71.4,241.4 71.7,241.9 72.0,241.4 72.3,241.5 72.6,241.5 73.0,241.5 73.3,241.5 73.6,242.1 73.9,241.3 74.2,241.1 74.6,242.1 74.9,242.0 75.2,242.1 75.5,241.6 75.8,241.9 76.2,241.2 76.5,239.5 76.8,239.8 77.1,240.7 77.4,241.4 77.8,241.6 78.1,241.5 78.4,241.5 78.7,241.4 79.0,241.3 79.3,241.8 79.7,241.5 80.0,242.0 80.3,241.3 80.6,242.1 80.9,241.7 81.3,241.3 81.6,239.9 81.9,239.1 82.2,239.6 82.5,240.4 82.9,241.8 83.2,241.4 83.5,241.5 83.8,241.8 84.1,241.2 84.5,240.1 84.8,240.0 85.1,240.2 85.4,240.9 85.7,241.4 86.1,242.1 86.4,241.8 86.7,242.1 87.0,241.6 87.3,241.5 87.7,241.8 88.0,242.1 88.3,241.5 88.6,242.1 88.9,242.2 89.2,242.1 89.6,242.1 89.9,241.3 90.2,241.9 90.5,242.2 90.8,241.4 91.2,241.6 91.5,241.6 91.8,241.9 92.1,241.8 92.4,241.8 92.8,242.1 93.1,241.4 93.4,241.4 93.7,241.5 94.0,241.5 94.4,241.4 94.7,242.3 95.0,242.2 95.3,241.5 95.6,241.9 96.0,241.7 96.3,241.7 96.6,241.7 96.9,242.0 97.2,242.0 97.5,241.8 97.9,241.6 98.2,241.7 98.5,241.5 98.8,242.0 99.1,242.1 99.5,241.8 99.8,241.5 100.1,241.6 100.4,241.8 100.7,242.0 101.1,242.2 101.4,241.8 101.7,242.2 102.0,242.1 102.3,241.9 102.7,241.8 103.0,242.0 103.3,242.2 103.6,241.9 103.9,242.2 104.3,241.9 104.6,241.7 104.9,242.0 105.2,242.2 105.5,241.6 105.8,241.9 106.2,241.9 106.5,242.4 106.8,242.4 107.1,241.9 107.4,242.4 107.8,242.3 108.1,241.8 108.4,242.0 108.7,241.6 109.0,242.3 109.4,242.2 109.7,242.4 110.0,242.3 110.3,242.2 110.6,242.3 111.0,242.1 111.3,241.7 111.6,242.1 111.9,241.6 112.2,241.7 112.6,242.3 112.9,241.6 113.2,241.7 113.5,241.7 113.8,242.5 114.1,241.8 114.5,241.6 114.8,242.4 115.1,241.7 115.4,242.4 115.7,242.3 116.1,242.4 116.4,242.6 116.7,242.2 117.0,242.4 117.3,241.7 117.7,242.4 118.0,242.1 118.3,242.3 118.6,241.7 118.9,242.4 119.3,242.6 119.6,241.7 119.9,242.0 120.2,242.2 120.5,242.5 120.9,241.9 121.2,241.8 121.5,241.9 121.8,242.3 122.1,242.4 122.4,242.1 122.8,242.0 123.1,242.1 123.4,242.0 123.7,242.1 124.0,241.8 124.4,242.2 124.7,242.7 125.0,242.1 125.3,242.5 125.6,241.9 126.0,242.4 126.3,242.5 126.6,242.4 126.9,242.2 127.2,242.2 127.6,242.4 127.9,242.6 128.2,241.9 128.5,241.8 128.8,242.5 129.2,242.7 129.5,242.3 129.8,242.2 130.1,242.5 130.4,241.9 130.7,242.0 131.1,242.0 131.4,242.4 131.7,242.1 132.0,242.0 132.3,242.5 132.7,242.7 133.0,242.1 133.3,242.5 133.6,242.2 133.9,242.7 134.3,242.4 134.6,242.1 134.9,242.0 135.2,241.8 135.5,242.3 135.9,242.2 136.2,242.0 136.5,242.2 136.8,242.2 137.1,242.6 137.5,242.0 137.8,242.8 138.1,242.3 138.4,242.4 138.7,242.3 139.0,242.7 139.4,242.7 139.7,242.4 140.0,242.3 140.3,242.6 140.6,242.7 141.0,242.3 141.3,242.6 141.6,242.8 141.9,242.4 142.2,242.1 142.6,242.1 142.9,242.6 143.2,242.6" fill="none" stroke="#e862c8" stroke-width="1.2" />
<rect x="25.6" y="282.6" width="1.4" height="24.6" fill="#f03c3c" />
<rect x="36.5" y="305.5" width="1.4" height="1.7" fill="#f03c3c" />
<rect x="45.3" y="263.9" width="1.4" height="43.3" fill="#f03c3c" />
<rect x="52.5" y="302.9" width="1.4" height="4.3" fill="#f03c3c" />
<rect x="59.1" y="301.6" width="1.4" height="5.6" fill="#f03c3c" />
<rect x="65.0" y="283.9" width="1.4" height="23.3" fill="#f03c3c" />
<rect x="70.9" y="304.4" width="1.4" height="2.8" fill="#f03c3c" />
<rect x="75.9" y="303.8" width="1.4" height="3.4" fill="#f03c3c" />
<rect x="81.0" y="283.0" width="1.4" height="24.2" fill="#f03c3c" />
<rect x="90.4" y="305.1" width="1.4" height="2.1" fill="#f03c3c" />
<rect x="95.0" y="302.9" width="1.4" height="4.3" fill="#f03c3c" />
<rect x="99.3" y="306.0" width="1.4" height="1.2" fill="#f03c3c" />
<rect x="103.5" y="306.2" width="1.4" height="1.0" fill="#f03c3c" />
<rect x="107.7" y="302.7" width="1.4" height="4.5" fill="#f03c3c" />
<rect x="111.8" y="306.0" width="1.4" height="1.2" fill="#f03c3c" />
<rect x="115.8" y="304.9" width="1.4" height="2.3" fill="#f03c3c" />
<rect x="119.7" y="305.8" width="1.4" height="1.4" fill="#f03c3c" />
<rect x="123.9" y="305.8" width="1.4" height="1.4" fill="#f03c3c" />
<rect x="127.8" y="305.8" width="1.4" height="1.4" fill="#f03c3c" />
<rect x="131.6" y="300.7" width="1.4" height="6.5" fill="#f03c3c" />
<rect x="135.1" y="306.0" width="1.4" height="1.2" fill="#f03c3c" />
<text x="113.3" y="253.3" font-size="5.6" font-weight="bold" fill="#000" text-anchor="middle" textLength="55.8" lengthAdjust="spacingAndGlyphs" >JCPDS No. 75-1924</text>
<line x1="69.5" y1="187.5" x2="84.8" y2="187.5" stroke="#e862c8" stroke-width="1.2" />
<text x="86.7" y="190.0" font-size="6.8" font-weight="bold" fill="#000" text-anchor="start" textLength="54.5" lengthAdjust="spacingAndGlyphs" >NaCeF<tspan font-size="4" dy="1.3">4</tspan><tspan dy="-1.3">:Yb,Tm,Zr</tspan></text>
<rect x="15.5" y="177.8" width="127.7" height="129.4" fill="none" stroke="#444" stroke-width="1"/>
<line x1="23.5" y1="307.2" x2="23.5" y2="309.5" stroke="#444" stroke-width="0.8" />
<text x="23.5" y="316.3" font-size="5.7" font-weight="bold" fill="#000" text-anchor="middle" >15</text>
<line x1="47.4" y1="307.2" x2="47.4" y2="309.5" stroke="#444" stroke-width="0.8" />
<text x="47.4" y="316.3" font-size="5.7" font-weight="bold" fill="#000" text-anchor="middle" >30</text>
<line x1="71.4" y1="307.2" x2="71.4" y2="309.5" stroke="#444" stroke-width="0.8" />
<text x="71.4" y="316.3" font-size="5.7" font-weight="bold" fill="#000" text-anchor="middle" >45</text>
<line x1="95.3" y1="307.2" x2="95.3" y2="309.5" stroke="#444" stroke-width="0.8" />
<text x="95.3" y="316.3" font-size="5.7" font-weight="bold" fill="#000" text-anchor="middle" >60</text>
<line x1="119.2" y1="307.2" x2="119.2" y2="309.5" stroke="#444" stroke-width="0.8" />
<text x="119.2" y="316.3" font-size="5.7" font-weight="bold" fill="#000" text-anchor="middle" >75</text>
<line x1="143.2" y1="307.2" x2="143.2" y2="309.5" stroke="#444" stroke-width="0.8" />
<text x="143.2" y="316.3" font-size="5.7" font-weight="bold" fill="#000" text-anchor="middle" >90</text>
<line x1="35.5" y1="307.2" x2="35.5" y2="308.7" stroke="#444" stroke-width="0.6" />
<line x1="59.4" y1="307.2" x2="59.4" y2="308.7" stroke="#444" stroke-width="0.6" />
<line x1="83.3" y1="307.2" x2="83.3" y2="308.7" stroke="#444" stroke-width="0.6" />
<line x1="107.3" y1="307.2" x2="107.3" y2="308.7" stroke="#444" stroke-width="0.6" />
<line x1="131.2" y1="307.2" x2="131.2" y2="308.7" stroke="#444" stroke-width="0.6" />
<text x="81.9" y="325.5" font-size="7.8" font-weight="bold" fill="#000" text-anchor="middle" textLength="44.3" lengthAdjust="spacingAndGlyphs" >2θ (degree)</text>
<text x="10.6" y="241.7" font-size="8.5" font-weight="bold" fill="#000" text-anchor="middle" textLength="57.6" lengthAdjust="spacingAndGlyphs" transform="rotate(-90 10.6 241.7)" >Intensity (a.u.)</text>
<polyline points="170.2,223.0 171.6,219.8 172.5,221.0 175.5,225.9 178.0,225.0 181.0,224.0 184.5,222.5 185.0,222.0 185.3,216.4 185.6,222.2 188.0,221.5 191.0,220.6 193.8,220.0 196.0,220.3 199.0,220.8 201.8,221.5 203.2,224.0 204.3,229.6 204.8,216.0 205.2,200.4 205.6,226.0 206.5,243.0 207.0,220.0 207.4,190.9 207.9,215.0 208.4,240.0 209.1,246.4 210.5,250.0 212.0,247.0 213.0,252.0 213.6,240.0 214.2,229.6 214.7,245.0 215.3,262.0 216.0,272.4 220.0,273.0 224.0,273.3 229.0,273.7 230.5,276.0 231.2,284.3 231.7,215.9 232.2,284.3 240.0,284.5 249.5,284.8 250.1,275.6 250.7,285.0 260.0,285.5 270.0,286.0 272.4,280.8 273.0,286.3 279.0,286.5 279.5,273.7 280.0,286.7 285.0,287.0 288.2,287.5 288.7,279.5 289.2,288.0 292.1,288.5 294.0,289.4 297.0,290.0 299.5,290.0 300.0,273.7 300.6,289.5 301.5,295.2 306.0,295.4 309.5,295.6 310.5,293.0 311.5,295.5 312.5,294.5 313.4,297.0" fill="none" stroke="#8496f0" stroke-width="1.1" />
<rect x="170.2" y="178.2" width="143.2" height="128.4" fill="none" stroke="#444" stroke-width="1"/>
<line x1="313.4" y1="306.6" x2="313.4" y2="309.0" stroke="#444" stroke-width="0.8" />
<text x="313.4" y="316.3" font-size="5.6" font-weight="bold" fill="#000" text-anchor="middle" >0</text>
<line x1="289.5" y1="306.6" x2="289.5" y2="309.0" stroke="#444" stroke-width="0.8" />
<text x="289.5" y="316.3" font-size="5.6" font-weight="bold" fill="#000" text-anchor="middle" >200</text>
<line x1="265.7" y1="306.6" x2="265.7" y2="309.0" stroke="#444" stroke-width="0.8" />
<text x="265.7" y="316.3" font-size="5.6" font-weight="bold" fill="#000" text-anchor="middle" >400</text>
<line x1="241.8" y1="306.6" x2="241.8" y2="309.0" stroke="#444" stroke-width="0.8" />
<text x="241.8" y="316.3" font-size="5.6" font-weight="bold" fill="#000" text-anchor="middle" >600</text>
<line x1="217.9" y1="306.6" x2="217.9" y2="309.0" stroke="#444" stroke-width="0.8" />
<text x="217.9" y="316.3" font-size="5.6" font-weight="bold" fill="#000" text-anchor="middle" >800</text>
<line x1="194.1" y1="306.6" x2="194.1" y2="309.0" stroke="#444" stroke-width="0.8" />
<text x="194.1" y="316.3" font-size="5.6" font-weight="bold" fill="#000" text-anchor="middle" >1000</text>
<line x1="170.2" y1="306.6" x2="170.2" y2="309.0" stroke="#444" stroke-width="0.8" />
<text x="170.2" y="316.3" font-size="5.6" font-weight="bold" fill="#000" text-anchor="middle" >1200</text>
<line x1="301.5" y1="306.6" x2="301.5" y2="308.2" stroke="#444" stroke-width="0.6" />
<line x1="277.6" y1="306.6" x2="277.6" y2="308.2" stroke="#444" stroke-width="0.6" />
<line x1="253.7" y1="306.6" x2="253.7" y2="308.2" stroke="#444" stroke-width="0.6" />
<line x1="229.9" y1="306.6" x2="229.9" y2="308.2" stroke="#444" stroke-width="0.6" />
<line x1="206.0" y1="306.6" x2="206.0" y2="308.2" stroke="#444" stroke-width="0.6" />
<line x1="182.1" y1="306.6" x2="182.1" y2="308.2" stroke="#444" stroke-width="0.6" />
<text x="241.8" y="325.5" font-size="7.7" font-weight="bold" fill="#000" text-anchor="middle" textLength="73.9" lengthAdjust="spacingAndGlyphs" >Binding Energy (eV)</text>
<text x="165.0" y="240.1" font-size="7.8" font-weight="bold" fill="#000" text-anchor="middle" textLength="52.6" lengthAdjust="spacingAndGlyphs" transform="rotate(-90 165.0 240.1)" >Intensity (a.u.)</text>
<line x1="229.6" y1="195.4" x2="246.2" y2="195.4" stroke="#8496f0" stroke-width="1.2" />
<text x="248.0" y="198.0" font-size="6.9" font-weight="bold" fill="#000" text-anchor="start" textLength="61.0" lengthAdjust="spacingAndGlyphs" >NaCeF<tspan font-size="4" dy="1.3">4</tspan><tspan dy="-1.3">: Yb,Tm,Zr</tspan></text>
<text x="189.4" y="203.0" font-size="6.2" font-weight="bold" fill="#000" text-anchor="start" textLength="16.5" lengthAdjust="spacingAndGlyphs" >Na 1s</text>
<line x1="191.6" y1="205.5" x2="185.8" y2="215.5" stroke="#000" stroke-width="0.9" />
<polygon points="185.8,215.5 186.3,211.2 189.3,212.9" fill="#000" stroke="none" stroke-width="1" />
<text x="222.3" y="188.0" font-size="6.2" font-weight="bold" fill="#000" text-anchor="start" textLength="16.7" lengthAdjust="spacingAndGlyphs" >Ce 3<tspan font-style="italic">d</tspan></text>
<line x1="222.0" y1="186.5" x2="208.0" y2="192.3" stroke="#000" stroke-width="0.9" />
<polygon points="208.0,192.3 211.0,189.2 212.3,192.3" fill="#000" stroke="none" stroke-width="1" />
<text x="246.2" y="214.2" font-size="6.2" font-weight="bold" fill="#000" text-anchor="start" textLength="12.3" lengthAdjust="spacingAndGlyphs" >F 1s</text>
<line x1="244.5" y1="211.8" x2="233.2" y2="216.2" stroke="#000" stroke-width="0.9" />
<polygon points="233.2,216.2 236.3,213.2 237.5,216.3" fill="#000" stroke="none" stroke-width="1" />
<text x="276.9" y="268.8" font-size="6.2" font-weight="bold" fill="#000" text-anchor="start" textLength="16.5" lengthAdjust="spacingAndGlyphs" >Zr 3<tspan font-style="italic">d</tspan></text>
<line x1="287.0" y1="270.8" x2="292.5" y2="286.8" stroke="#000" stroke-width="0.9" />
<polygon points="292.5,286.8 289.6,283.6 292.8,282.5" fill="#000" stroke="none" stroke-width="1" />
<text x="294.0" y="259.8" font-size="6.2" font-weight="bold" fill="#000" text-anchor="start" textLength="17.0" lengthAdjust="spacingAndGlyphs" >Yb 4<tspan font-style="italic">d</tspan></text>
<line x1="300.0" y1="262.0" x2="294.6" y2="289.0" stroke="#000" stroke-width="0.9" />
<polygon points="294.6,289.0 293.7,284.7 297.1,285.4" fill="#000" stroke="none" stroke-width="1" />
<text x="281.6" y="303.3" font-size="6.2" font-weight="bold" fill="#000" text-anchor="start" textLength="18.4" lengthAdjust="spacingAndGlyphs" >Tm 4<tspan font-style="italic">d</tspan></text>
<line x1="291.5" y1="297.5" x2="294.2" y2="289.6" stroke="#000" stroke-width="0.9" />
<polygon points="294.2,289.6 294.5,293.9 291.3,292.8" fill="#000" stroke="none" stroke-width="1" />
<defs><linearGradient id="gF" x1="0" y1="0" x2="1" y2="0"><stop offset="0" stop-color="#86c2f8"/><stop offset="0.3" stop-color="#a8c4f0"/><stop offset="0.4" stop-color="#c8c6ec"/><stop offset="0.55" stop-color="#dcc4dc"/><stop offset="1" stop-color="#f0c49c"/></linearGradient><linearGradient id="gFl" x1="0" y1="0" x2="1" y2="0"><stop offset="0" stop-color="#8ec4f4"/><stop offset="0.6" stop-color="#e8c4b0"/><stop offset="1" stop-color="#f0c49c"/></linearGradient></defs>
<polygon points="344.5,308.0 344.7,308.0 344.8,308.0 345.0,308.0 345.1,308.0 345.3,308.0 345.5,308.0 345.6,308.0 345.8,308.0 345.9,308.0 346.1,308.0 346.3,308.0 346.4,308.0 346.6,308.0 346.7,308.0 346.9,308.0 347.1,308.0 347.2,308.0 347.4,308.0 347.5,308.0 347.7,308.0 347.9,308.0 348.0,308.0 348.2,308.0 348.3,308.0 348.5,308.0 348.6,308.0 348.8,308.0 349.0,308.0 349.1,308.0 349.3,308.0 349.4,308.0 349.6,308.0 349.8,308.0 349.9,308.0 350.1,308.0 350.2,308.0 350.4,308.0 350.6,308.0 350.7,308.0 350.9,308.0 351.0,308.0 351.2,308.0 351.4,308.0 351.5,308.0 351.7,308.0 351.8,308.0 352.0,308.0 352.2,308.0 352.3,308.0 352.5,308.0 352.6,308.0 352.8,308.0 353.0,308.0 353.1,308.0 353.3,308.0 353.4,308.0 353.6,308.0 353.8,308.0 353.9,308.0 354.1,308.0 354.2,308.0 354.4,308.0 354.6,308.0 354.7,308.0 354.9,308.0 355.0,308.0 355.2,308.0 355.3,308.0 355.5,308.0 355.7,308.0 355.8,308.0 356.0,308.0 356.1,308.0 356.3,308.0 356.5,308.0 356.6,308.0 356.8,308.0 356.9,308.0 357.1,308.0 357.3,308.0 357.4,308.0 357.6,308.0 357.7,308.0 357.9,308.0 358.1,308.0 358.2,308.0 358.4,308.0 358.5,308.0 358.7,308.0 358.9,308.0 359.0,308.0 359.2,307.9 359.3,307.9 359.5,307.9 359.7,307.9 359.8,307.9 360.0,307.8 360.1,307.8 360.3,307.8 360.5,307.7 360.6,307.6 360.8,307.5 360.9,307.3 361.1,307.1 361.3,306.9 361.4,306.6 361.6,306.3 361.7,305.9 361.9,305.5 362.1,305.1 362.2,304.8 362.4,304.6 362.5,304.5 362.7,304.5 362.8,304.7 363.0,304.9 363.2,305.2 363.3,305.6 363.5,306.0 363.6,306.3 363.8,306.7 364.0,307.0 364.1,307.2 364.3,307.4 364.4,307.5 364.6,307.6 364.8,307.7 364.9,307.8 365.1,307.8 365.2,307.9 365.4,307.9 365.6,307.9 365.7,307.9 365.9,307.9 366.0,307.9 366.2,308.0 366.4,308.0 366.5,308.0 366.7,308.0 366.8,308.0 367.0,308.0 367.2,308.0 367.3,308.0 367.5,308.0 367.6,308.0 367.8,308.0 368.0,307.9 368.1,307.9 368.3,307.9 368.4,307.9 368.6,307.9 368.8,307.8 368.9,307.8 369.1,307.7 369.2,307.7 369.4,307.6 369.6,307.5 369.7,307.4 369.9,307.3 370.0,307.2 370.2,307.1 370.3,306.9 370.5,306.7 370.7,306.5 370.8,306.2 371.0,305.9 371.1,305.5 371.3,304.9 371.5,304.3 371.6,303.4 371.8,302.3 371.9,300.9 372.1,299.2 372.3,297.3 372.4,294.9 372.6,292.3 372.7,289.4 372.9,286.4 373.1,283.3 373.2,280.4 373.4,277.8 373.5,275.6 373.7,274.0 373.9,273.2 374.0,273.1 374.2,273.7 374.3,275.2 374.5,277.2 374.7,279.8 374.8,282.6 375.0,285.7 375.1,288.7 375.3,291.6 375.5,291.9 375.6,288.7 375.8,284.9 375.9,280.7 376.1,276.1 376.3,271.2 376.4,266.3 376.6,261.4 376.7,256.8 376.9,252.8 377.0,249.5 377.2,247.1 377.4,245.8 377.5,245.7 377.7,246.7 377.8,248.8 378.0,251.8 378.2,255.7 378.3,260.2 378.5,265.0 378.6,269.9 378.8,274.8 379.0,279.5 379.1,283.8 379.3,287.7 379.4,291.1 379.6,294.1 379.8,296.5 379.9,298.5 380.1,300.2 380.2,301.5 380.4,302.6 380.6,303.5 380.7,304.2 380.9,304.7 381.0,305.2 381.2,305.6 381.4,305.9 381.5,306.2 381.7,306.5 381.8,306.7 382.0,306.9 382.2,307.0 382.3,307.2 382.5,307.3 382.6,307.4 382.8,307.5 383.0,307.6 383.1,307.7 383.3,307.7 383.4,307.8 383.6,307.8 383.8,307.8 383.9,307.9 384.1,307.9 384.2,307.9 384.4,307.9 384.5,307.9 384.7,308.0 384.9,308.0 385.0,308.0 385.2,308.0 385.3,308.0 385.5,308.0 385.7,308.0 385.8,308.0 386.0,308.0 386.1,308.0 386.3,308.0 386.5,308.0 386.6,308.0 386.8,308.0 386.9,308.0 387.1,308.0 387.3,307.9 387.4,307.9 387.6,307.9 387.7,307.9 387.9,307.9 388.1,307.8 388.2,307.8 388.4,307.8 388.5,307.7 388.7,307.7 388.9,307.6 389.0,307.5 389.2,307.4 389.3,307.3 389.5,307.2 389.7,307.1 389.8,306.9 390.0,306.8 390.1,306.6 390.3,306.4 390.5,306.1 390.6,305.9 390.8,305.6 390.9,305.2 391.1,304.8 391.2,304.4 391.4,303.9 391.6,303.3 391.7,302.6 391.9,301.8 392.0,300.9 392.2,299.7 392.4,298.3 392.5,296.6 392.7,294.6 392.8,292.1 393.0,289.1 393.2,285.6 393.3,281.5 393.5,276.7 393.6,271.3 393.8,265.3 394.0,258.7 394.1,251.6 394.3,244.2 394.4,236.8 394.6,229.4 394.8,222.3 394.9,215.9 395.1,210.4 395.2,206.0 395.4,202.9 395.6,201.3 395.7,201.1 395.9,202.6 396.0,205.4 396.2,209.7 396.4,215.0 396.5,221.3 396.7,228.2 396.8,235.6 397.0,243.1 397.2,250.5 397.3,257.6 397.5,264.3 397.6,270.4 397.8,275.9 398.0,280.8 398.1,285.0 398.3,288.6 398.4,287.1 398.6,283.5 398.7,279.5 398.9,275.0 399.1,270.2 399.2,265.0 399.4,259.6 399.5,254.1 399.7,248.7 399.9,243.5 400.0,238.7 400.2,234.5 400.3,231.1 400.5,228.5 400.7,227.0 400.8,226.5 401.0,227.1 401.1,228.8 401.3,231.4 401.5,234.9 401.6,239.2 401.8,244.0 401.9,249.2 402.1,254.7 402.3,260.1 402.4,265.5 402.6,270.7 402.7,275.5 402.9,279.9 403.1,283.9 403.2,287.4 403.4,290.5 403.5,293.2 403.7,295.4 403.9,297.3 404.0,298.9 404.2,300.2 404.3,301.3 404.5,302.2 404.7,303.0 404.8,303.6 405.0,304.2 405.1,304.6 405.3,305.0 405.5,305.4 405.6,305.7 405.8,306.0 405.9,306.2 406.1,306.4 406.2,306.6 406.4,306.5 406.6,306.3 406.7,306.1 406.9,305.9 407.0,305.6 407.2,305.4 407.4,305.2 407.5,305.1 407.7,304.9 407.8,304.8 408.0,304.8 408.2,304.8 408.3,304.9 408.5,305.0 408.6,305.1 408.8,305.3 409.0,305.5 409.1,305.7 409.3,306.0 409.4,306.2 409.6,306.4 409.8,306.6 409.9,306.8 410.1,307.0 410.2,307.2 410.4,307.3 410.6,307.4 410.7,307.5 410.9,307.6 411.0,307.7 411.2,307.7 411.4,307.8 411.5,307.8 411.7,307.8 411.8,307.8 412.0,307.9 412.2,307.9 412.3,307.9 412.5,307.9 412.6,307.9 412.8,307.9 412.9,307.9 413.1,307.9 413.3,308.0 413.4,308.0 413.6,308.0 413.7,308.0 413.9,308.0 414.1,308.0 414.2,308.0 414.4,308.0 414.5,308.0 414.7,308.0 414.9,308.0 415.0,308.0 415.2,308.0 415.3,308.0 415.5,308.0 415.7,308.0 415.8,308.0 416.0,308.0 416.1,308.0 416.3,308.0 416.5,308.0 416.6,308.0 416.8,308.0 416.9,308.0 417.1,308.0 417.3,308.0 417.4,308.0 417.6,308.0 417.7,308.0 417.9,308.0 418.1,308.0 418.2,308.0 418.4,308.0 418.5,308.0 418.7,308.0 418.9,308.0 419.0,308.0 419.2,308.0 419.3,308.0 419.5,308.0 419.7,308.0 419.8,308.0 420.0,308.0 420.1,308.0 420.3,308.0 420.4,308.0 420.6,308.0 420.8,308.0 420.9,308.0 421.1,308.0 421.2,308.0 421.4,308.0 421.6,308.0 421.7,308.0 421.9,308.0 422.0,308.0 422.2,308.0 422.4,308.0 422.5,308.0 422.7,308.0 422.8,308.0 423.0,308.0 423.2,308.0 423.3,308.0 423.5,308.0 423.6,308.0 423.8,308.0 424.0,308.0 424.1,308.0 424.3,308.0 424.4,308.0 424.6,308.0 424.8,308.0 424.9,308.0 425.1,308.0 425.2,308.0 425.4,308.0 425.6,308.0 425.7,308.0 425.9,308.0 426.0,308.0 426.2,308.0 426.4,308.0 426.5,308.0 426.7,308.0 426.8,308.0 427.0,308.0 427.1,308.0 427.3,308.0 427.5,308.0 427.6,308.0 427.8,308.0 427.9,308.0 428.1,308.0 428.3,308.0 428.4,308.0 428.6,308.0 428.7,308.0 428.9,308.0 429.1,308.0 429.2,308.0 429.4,308.0 429.5,308.0 429.7,308.0 429.9,308.0 430.0,308.0 430.2,308.0 430.3,308.0 430.5,307.9 430.7,307.9 430.8,307.9 431.0,307.9 431.1,307.9 431.3,307.9 431.5,307.9 431.6,307.9 431.8,307.8 431.9,307.8 432.1,307.8 432.3,307.7 432.4,307.7 432.6,307.7 432.7,307.6 432.9,307.5 433.1,307.5 433.2,307.4 433.4,307.3 433.5,307.1 433.7,307.0 433.9,306.7 434.0,306.5 434.2,306.2 434.3,305.9 434.5,305.5 434.6,305.1 434.8,304.6 435.0,304.2 435.1,303.7 435.3,303.2 435.4,302.7 435.6,302.3 435.8,301.9 435.9,301.6 436.1,301.3 436.2,301.2 436.4,301.2 436.6,301.3 436.7,301.5 436.9,301.8 437.0,302.1 437.2,302.5 437.4,303.0 437.5,303.5 437.7,304.0 437.8,304.5 438.0,304.9 438.2,305.4 438.3,305.8 438.5,306.1 438.6,306.4 438.8,306.7 439.0,306.9 439.1,307.1 439.3,307.2 439.4,307.3 439.6,307.4 439.8,307.5 439.9,307.6 440.1,307.6 440.2,307.7 440.4,307.7 440.6,307.8 440.7,307.8 440.9,307.8 441.0,307.8 441.2,307.9 441.4,307.9 441.5,307.9 441.7,307.9 441.8,307.9 442.0,307.9 442.1,307.9 442.3,307.9 442.5,307.9 442.6,307.9 442.8,307.8 442.9,307.8 443.1,307.8 443.3,307.7 443.4,307.7 443.6,307.7 443.7,307.6 443.9,307.5 444.1,307.4 444.2,307.3 444.4,307.2 444.5,307.1 444.7,306.9 444.9,306.8 445.0,306.6 445.2,306.4 445.3,306.2 445.5,305.9 445.7,305.7 445.8,305.5 446.0,305.3 446.1,305.1 446.3,304.9 446.5,304.8 446.6,304.7 446.8,304.6 446.9,304.6 447.1,304.6 447.3,304.7 447.4,304.8 447.6,305.0 447.7,305.2 447.9,305.4 448.1,305.6 448.2,305.8 448.4,306.1 448.5,306.3 448.7,306.5 448.8,306.7 449.0,306.9 449.2,307.0 449.3,307.2 449.5,307.3 449.6,307.4 449.8,307.5 450.0,307.6 450.1,307.6 450.3,307.7 450.4,307.7 450.6,307.8 450.8,307.8 450.9,307.8 451.1,307.8 451.2,307.9 451.4,307.9 451.6,307.9 451.7,307.9 451.9,307.9 452.0,307.9 452.2,307.9 452.4,307.9 452.5,308.0 452.7,308.0 452.8,308.0 453.0,308.0 453.2,308.0 453.3,308.0 453.5,308.0 453.6,308.0 453.8,308.0 454.0,307.9 454.1,307.9 454.3,307.9 454.4,307.9 454.6,307.9 454.8,307.9 454.9,307.9 455.1,307.9 455.2,307.9 455.4,307.9 455.6,307.9 455.7,307.8 455.9,307.8 456.0,307.8 456.2,307.8 456.3,307.8 456.5,307.7 456.7,307.7 456.8,307.7 457.0,307.7 457.1,307.6 457.3,307.6 457.5,307.6 457.6,307.5 457.8,307.5 457.9,307.5 458.1,307.4 458.3,307.4 458.4,307.3 458.6,307.3 458.7,307.2 458.9,307.2 459.1,307.1 459.2,307.1 459.4,307.0 459.5,306.9 459.7,306.8 459.9,306.7 460.0,306.7 460.2,306.6 460.3,306.4 460.5,306.3 460.7,306.2 460.8,306.1 461.0,305.9 461.1,305.7 461.3,305.6 461.5,305.3 461.6,305.1 461.8,304.9 461.9,304.6 462.1,304.3 462.3,303.9 462.4,303.5 462.6,303.1 462.7,302.6 462.9,302.1 463.0,301.6 463.2,300.9 463.4,300.2 463.5,299.5 463.7,298.7 463.8,297.8 464.0,296.8 464.2,295.8 464.3,294.7 464.5,293.6 464.6,292.4 464.8,291.1 465.0,289.8 465.1,288.4 465.3,287.1 465.4,285.6 465.6,284.2 465.8,282.8 465.9,281.4 466.1,280.0 466.2,278.6 466.4,277.4 466.6,276.1 466.7,275.0 466.9,274.0 467.0,273.1 467.2,272.3 467.4,271.6 467.5,271.1 467.7,270.8 467.8,270.5 468.0,270.5 468.2,270.6 468.3,270.9 468.5,271.3 468.6,271.9 468.8,272.6 469.0,273.5 469.1,274.4 469.3,275.5 469.4,276.7 469.6,277.9 469.8,279.2 469.9,280.6 470.1,282.0 470.2,283.4 470.4,284.9 470.5,286.3 470.7,287.7 470.9,289.1 471.0,290.4 471.2,291.7 471.3,292.9 471.5,294.1 471.7,295.2 471.8,296.3 472.0,297.3 472.1,298.2 472.3,299.0 472.5,299.8 472.6,300.6 472.8,301.2 472.9,301.8 473.1,302.4 473.3,302.9 473.4,303.3 473.6,303.7 473.7,304.1 473.9,304.4 474.1,304.7 474.2,305.0 474.4,305.2 474.5,305.4 474.7,305.6 474.9,305.8 475.0,306.0 475.2,306.1 475.3,306.3 475.5,306.4 475.7,306.5 475.8,306.6 476.0,306.7 476.1,306.8 476.3,306.9 476.5,306.9 476.6,307.0 476.8,307.1 476.9,307.1 477.1,307.2 477.3,307.3 477.4,307.3 477.6,307.4 477.7,307.4 477.9,307.4 478.0,307.5 478.2,307.5 478.4,307.6 478.5,307.6 478.7,307.6 478.8,307.7 479.0,307.7 479.2,307.7 479.3,307.7 479.5,307.8 479.6,307.8 479.8,307.8 480.0,307.8 480.1,307.8 480.3,307.8 480.4,307.9 480.6,307.9 480.8,307.9 480.9,307.9 481.1,307.9 481.2,307.9 481.4,307.9 481.6,307.9 481.7,307.9 481.9,307.9 482.0,307.9 482.2,308.0 482.4,308.0 482.5,308.0 482.7,308.0 482.8,308.0 483.0,308.0 483.2,308.0 483.3,308.0 483.5,308.0 483.6,308.0 483.8,308.0 484.0,308.0 484.1,308.0 484.3,308.0 484.4,308.0 484.6,308.0 484.7,308.0 484.9,308.0 485.1,308.0 485.2,308.0 485.4,308.0 485.5,308.0 485.7,308.0 485.9,308.0 486.0,308.0 486.2,308.0 486.3,308.0 486.5,308.0 486.7,308.0 486.8,308.0 487.0,308.0 487.1,308.0 487.3,308.0 487.5,308.0 487.6,308.0 487.8,308.0 487.9,308.0 488.1,308.0 488.1,308.0 344.5,308.0" fill="url(#gF)" stroke="#c8c8ee" stroke-width="0.4" />
<rect x="406.9" y="185.2" width="14.6" height="7.1" fill="url(#gFl)" stroke="#e0b890" stroke-width="0.4"/>
<text x="425.7" y="191.3" font-size="6.9" font-weight="bold" fill="#000" text-anchor="start" textLength="59.5" lengthAdjust="spacingAndGlyphs" >NaCeF<tspan font-size="4" dy="1.3">4</tspan><tspan dy="-1.3">:Yb,Tm,Zr</tspan></text>
<rect x="344" y="178.3" width="144.6" height="129.7" fill="none" stroke="#444" stroke-width="1"/>
<line x1="344.0" y1="308.0" x2="344.0" y2="310.3" stroke="#444" stroke-width="0.8" />
<text x="344.0" y="317.0" font-size="5.7" font-weight="bold" fill="#000" text-anchor="middle" >200</text>
<line x1="364.7" y1="308.0" x2="364.7" y2="310.3" stroke="#444" stroke-width="0.8" />
<text x="364.7" y="317.0" font-size="5.7" font-weight="bold" fill="#000" text-anchor="middle" >300</text>
<line x1="385.3" y1="308.0" x2="385.3" y2="310.3" stroke="#444" stroke-width="0.8" />
<text x="385.3" y="317.0" font-size="5.7" font-weight="bold" fill="#000" text-anchor="middle" >400</text>
<line x1="406.0" y1="308.0" x2="406.0" y2="310.3" stroke="#444" stroke-width="0.8" />
<text x="406.0" y="317.0" font-size="5.7" font-weight="bold" fill="#000" text-anchor="middle" >500</text>
<line x1="426.6" y1="308.0" x2="426.6" y2="310.3" stroke="#444" stroke-width="0.8" />
<text x="426.6" y="317.0" font-size="5.7" font-weight="bold" fill="#000" text-anchor="middle" >600</text>
<line x1="447.3" y1="308.0" x2="447.3" y2="310.3" stroke="#444" stroke-width="0.8" />
<text x="447.3" y="317.0" font-size="5.7" font-weight="bold" fill="#000" text-anchor="middle" >700</text>
<line x1="468.0" y1="308.0" x2="468.0" y2="310.3" stroke="#444" stroke-width="0.8" />
<text x="468.0" y="317.0" font-size="5.7" font-weight="bold" fill="#000" text-anchor="middle" >800</text>
<line x1="488.6" y1="308.0" x2="488.6" y2="310.3" stroke="#444" stroke-width="0.8" />
<text x="488.6" y="317.0" font-size="5.7" font-weight="bold" fill="#000" text-anchor="middle" >900</text>
<line x1="354.3" y1="308.0" x2="354.3" y2="309.5" stroke="#444" stroke-width="0.6" />
<line x1="375.0" y1="308.0" x2="375.0" y2="309.5" stroke="#444" stroke-width="0.6" />
<line x1="395.6" y1="308.0" x2="395.6" y2="309.5" stroke="#444" stroke-width="0.6" />
<line x1="416.3" y1="308.0" x2="416.3" y2="309.5" stroke="#444" stroke-width="0.6" />
<line x1="437.0" y1="308.0" x2="437.0" y2="309.5" stroke="#444" stroke-width="0.6" />
<line x1="457.6" y1="308.0" x2="457.6" y2="309.5" stroke="#444" stroke-width="0.6" />
<line x1="478.3" y1="308.0" x2="478.3" y2="309.5" stroke="#444" stroke-width="0.6" />
<text x="416.0" y="328.2" font-size="8.3" font-weight="bold" fill="#000" text-anchor="middle" textLength="66.6" lengthAdjust="spacingAndGlyphs" >Wavelength (nm)</text>
<text x="338.6" y="240.5" font-size="8.6" font-weight="bold" fill="#000" text-anchor="middle" textLength="58.2" lengthAdjust="spacingAndGlyphs" transform="rotate(-90 338.6 240.5)" >Intensity (a.u.)</text>
<line x1="546.1" y1="187.9" x2="604.6" y2="187.9" stroke="#000" stroke-width="1.9" />
<line x1="546.1" y1="213.3" x2="604.6" y2="213.3" stroke="#000" stroke-width="1.9" />
<line x1="546.1" y1="248.6" x2="604.6" y2="248.6" stroke="#000" stroke-width="1.9" />
<line x1="546.1" y1="253.5" x2="604.6" y2="253.5" stroke="#000" stroke-width="1.9" />
<line x1="546.1" y1="265.5" x2="604.6" y2="265.5" stroke="#000" stroke-width="1.9" />
<line x1="546.1" y1="285.2" x2="604.6" y2="285.2" stroke="#000" stroke-width="1.9" />
<line x1="546.1" y1="297.9" x2="604.6" y2="297.9" stroke="#000" stroke-width="1.9" />
<line x1="546.1" y1="317.9" x2="604.6" y2="317.9" stroke="#000" stroke-width="1.9" />
<line x1="509.3" y1="266.8" x2="523.8" y2="266.8" stroke="#000" stroke-width="1.9" />
<line x1="509.3" y1="318.4" x2="523.8" y2="318.4" stroke="#000" stroke-width="1.9" />
<text x="608.3" y="192.9" font-size="6.0" font-weight="bold" fill="#000" text-anchor="start" ><tspan font-size="3.6" dy="-2.2">1</tspan><tspan dy="2.2">D</tspan><tspan font-size="3.6" dy="1">2</tspan></text>
<text x="608.3" y="216.5" font-size="6.0" font-weight="bold" fill="#000" text-anchor="start" ><tspan font-size="3.6" dy="-2.2">1</tspan><tspan dy="2.2">G</tspan><tspan font-size="3.6" dy="1">4</tspan></text>
<text x="608.3" y="249.8" font-size="6.0" font-weight="bold" fill="#000" text-anchor="start" ><tspan font-size="3.6" dy="-2.2">3</tspan><tspan dy="2.2">F</tspan><tspan font-size="3.6" dy="1">2</tspan></text>
<text x="608.3" y="258.1" font-size="6.0" font-weight="bold" fill="#000" text-anchor="start" ><tspan font-size="3.6" dy="-2.2">3</tspan><tspan dy="2.2">F</tspan><tspan font-size="3.6" dy="1">3</tspan></text>
<text x="608.3" y="267.9" font-size="6.0" font-weight="bold" fill="#000" text-anchor="start" ><tspan font-size="3.6" dy="-2.2">3</tspan><tspan dy="2.2">H</tspan><tspan font-size="3.6" dy="1">4</tspan></text>
<text x="608.3" y="287.9" font-size="6.0" font-weight="bold" fill="#000" text-anchor="start" ><tspan font-size="3.6" dy="-2.2">3</tspan><tspan dy="2.2">H</tspan><tspan font-size="3.6" dy="1">5</tspan></text>
<text x="608.3" y="300.9" font-size="6.0" font-weight="bold" fill="#000" text-anchor="start" ><tspan font-size="3.6" dy="-2.2">3</tspan><tspan dy="2.2">F</tspan><tspan font-size="3.6" dy="1">4</tspan></text>
<text x="608.3" y="320.0" font-size="6.0" font-weight="bold" fill="#000" text-anchor="start" ><tspan font-size="3.6" dy="-2.2">3</tspan><tspan dy="2.2">H</tspan><tspan font-size="3.6" dy="1">6</tspan></text>
<text x="622.5" y="194.0" font-size="6.0" font-weight="bold" fill="#000" text-anchor="start" textLength="33.3" lengthAdjust="spacingAndGlyphs" >Four-proton</text>
<text x="622.5" y="217.5" font-size="6.0" font-weight="bold" fill="#000" text-anchor="start" textLength="36.0" lengthAdjust="spacingAndGlyphs" >Three-proton</text>
<text x="622.5" y="249.8" font-size="6.0" font-weight="bold" fill="#000" text-anchor="start" textLength="31.9" lengthAdjust="spacingAndGlyphs" >Two-proton</text>
<text x="526.0" y="270.3" font-size="6.0" font-weight="bold" fill="#000" text-anchor="start" ><tspan font-size="3.6" dy="-2.2">2</tspan><tspan dy="2.2">F</tspan><tspan font-size="3.6" dy="1">5/2</tspan></text>
<text x="526.0" y="321.5" font-size="6.0" font-weight="bold" fill="#000" text-anchor="start" ><tspan font-size="3.6" dy="-2.2">2</tspan><tspan dy="2.2">F</tspan><tspan font-size="3.6" dy="1">7/2</tspan></text>
<text x="512.2" y="331.0" font-size="8.2" font-weight="bold" fill="#000" text-anchor="start" >Yb<tspan font-size="5" dy="-3">3+</tspan></text>
<text x="568.3" y="331.0" font-size="8.2" font-weight="bold" fill="#000" text-anchor="start" >Tm<tspan font-size="5" dy="-3">3+</tspan></text>
<line x1="572.6" y1="188.5" x2="572.6" y2="314.6" stroke="#7030c0" stroke-width="1.1" />
<polygon points="572.6,317.0 571.0,314.0 574.2,314.0" fill="#7030c0" stroke="none" stroke-width="1" />
<line x1="580.3" y1="188.5" x2="580.3" y2="294.6" stroke="#c860e8" stroke-width="1.1" />
<polygon points="580.3,297.0 578.7,294.0 581.9,294.0" fill="#c860e8" stroke="none" stroke-width="1" />
<line x1="589.4" y1="214.3" x2="589.4" y2="314.6" stroke="#84a8ec" stroke-width="1.1" />
<polygon points="589.4,317.0 587.8,314.0 591.0,314.0" fill="#84a8ec" stroke="none" stroke-width="1" />
<line x1="599.6" y1="266.5" x2="599.6" y2="314.6" stroke="#e82020" stroke-width="1.1" />
<polygon points="599.6,317.0 598.0,314.0 601.2,314.0" fill="#e82020" stroke="none" stroke-width="1" />
<line x1="514.0" y1="317.4" x2="514.0" y2="270.2" stroke="#f02020" stroke-width="1.1" />
<polygon points="514.0,267.8 512.4,270.8 515.6,270.8" fill="#f02020" stroke="none" stroke-width="1" />
<line x1="520.0" y1="267.8" x2="520.0" y2="314.6" stroke="#e8822e" stroke-width="1.45" stroke-dasharray="3.6,1.8"/>
<polygon points="520.0,317.0 518.4,314.0 521.6,314.0" fill="#e8822e" stroke="none" stroke-width="1" />
<line x1="553.0" y1="317.0" x2="553.0" y2="288.7" stroke="#e8822e" stroke-width="1.45" stroke-dasharray="3.6,1.8"/>
<polygon points="553.0,286.3 551.4,289.3 554.6,289.3" fill="#e8822e" stroke="none" stroke-width="1" />
<line x1="558.6" y1="297.0" x2="558.6" y2="251.9" stroke="#e8822e" stroke-width="1.45" stroke-dasharray="3.6,1.8"/>
<polygon points="558.6,249.5 557.0,252.5 560.2,252.5" fill="#e8822e" stroke="none" stroke-width="1" />
<line x1="564.0" y1="264.5" x2="564.0" y2="216.7" stroke="#e8822e" stroke-width="1.45" stroke-dasharray="3.6,1.8"/>
<polygon points="564.0,214.3 562.4,217.3 565.6,217.3" fill="#e8822e" stroke="none" stroke-width="1" />
<line x1="557.7" y1="212.3" x2="557.7" y2="191.3" stroke="#e8822e" stroke-width="1.45" stroke-dasharray="3.6,1.8"/>
<polygon points="557.7,188.9 556.1,191.9 559.3,191.9" fill="#e8822e" stroke="none" stroke-width="1" />
<text x="511.6" y="294.6" font-size="6.4" font-weight="bold" fill="#f02020" text-anchor="middle" textLength="21.5" lengthAdjust="spacingAndGlyphs" transform="rotate(-90 511.6 294.6)" >980 nm</text>
<text x="570.2" y="200.9" font-size="4.8" font-weight="normal" fill="#7030c0" text-anchor="middle" textLength="14.6" lengthAdjust="spacingAndGlyphs" transform="rotate(-90 570.2 200.9)" >368 nm</text>
<text x="578.8" y="200.5" font-size="4.8" font-weight="normal" fill="#c860e8" text-anchor="middle" textLength="15.0" lengthAdjust="spacingAndGlyphs" transform="rotate(-90 578.8 200.5)" >450 nm</text>
<text x="587.6" y="227.5" font-size="4.8" font-weight="normal" fill="#84a8ec" text-anchor="middle" textLength="12.4" lengthAdjust="spacingAndGlyphs" transform="rotate(-90 587.6 227.5)" >475 nm</text>
<text x="596.6" y="278.0" font-size="5.0" font-weight="bold" fill="#e82020" text-anchor="middle" textLength="10.5" lengthAdjust="spacingAndGlyphs" transform="rotate(-90 596.6 278.0)" >800 nm</text>
<path d="M515,262 C513,225 520,185 535,177.5 C541,175 545,180 546.5,185" fill="none" stroke="#e8822e" stroke-width="1.45" stroke-dasharray="3.6,1.8"/>
<polygon points="547.6,188.2 545.0,186.0 548.2,184.8" fill="#e8822e" stroke="none" stroke-width="1" />
<path d="M515.5,255 C514,232 524,207 535,206.5 C540,206 543,208 544.5,210" fill="none" stroke="#e8822e" stroke-width="1.45" stroke-dasharray="3.6,1.8"/>
<polygon points="546.0,212.5 542.9,211.0 545.7,209.1" fill="#e8822e" stroke="none" stroke-width="1" />
<path d="M517,262 C519,250 527,241.5 535,241.5 C541,241.5 544.5,244 546,246" fill="none" stroke="#e8822e" stroke-width="1.45" stroke-dasharray="3.6,1.8"/>
<polygon points="547.6,248.5 544.5,247.0 547.3,245.1" fill="#e8822e" stroke="none" stroke-width="1" />
<path d="M515.5,265 C518,259 525,256 532,256 C540,256.5 546,264 547.5,280" fill="none" stroke="#e8822e" stroke-width="1.45" stroke-dasharray="3.6,1.8"/>
<polygon points="548.0,283.8 546.3,280.8 549.7,280.8" fill="#e8822e" stroke="none" stroke-width="1" />
<polygon points="514.5,266.0 513.3,261.5 517.3,262.8" fill="#e8822e" stroke="none" stroke-width="1" />
<defs><linearGradient id="gH" x1="0" y1="0" x2="0" y2="1"><stop offset="0" stop-color="#8f9fc4"/><stop offset="0.45" stop-color="#97a8cc"/><stop offset="0.75" stop-color="#8ea6d2"/><stop offset="1" stop-color="#84a4d8"/></linearGradient><filter id="streak" x="0" y="0" width="1" height="1"><feTurbulence type="turbulence" baseFrequency="0.06 0.014" numOctaves="3" seed="11"/><feColorMatrix values="0 0 0 0 1  0 0 0 0 1  0 0 0 0 1  3.2 0 0 0 -0.55"/></filter><filter id="streak2" x="0" y="0" width="1" height="1"><feTurbulence type="fractalNoise" baseFrequency="0.035 0.02" numOctaves="2" seed="5"/><feColorMatrix values="0 0 0 0 0.3  0 0 0 0 0.6  0 0 0 0 1  0 0 3.2 0 -1.75"/></filter><linearGradient id="gHb" x1="0" y1="0" x2="0" y2="1"><stop offset="0" stop-color="#fff" stop-opacity="0"/><stop offset="0.55" stop-color="#fff" stop-opacity="0.1"/><stop offset="1" stop-color="#fff" stop-opacity="1"/></linearGradient><mask id="mHb" maskUnits="userSpaceOnUse" x="19" y="362" width="195" height="135"><rect x="19.1" y="362.2" width="194" height="134.6" fill="url(#gHb)"/></mask><clipPath id="hclip"><rect x="19.1" y="362.2" width="194" height="134.6"/></clipPath></defs>
<rect x="16.4" y="359.9" width="198.8" height="140.4" fill="#fff" stroke="#dcdcdc" stroke-width="0.8"/>
<g clip-path="url(#hclip)">
<rect x="19.1" y="362.2" width="194.0" height="134.6" fill="url(#gH)" />
<rect x="19.1" y="362.2" width="194.0" height="134.6" fill="#000" filter="url(#streak2)" mask="url(#mHb)"/>
<rect x="19.1" y="362.2" width="194.0" height="134.6" fill="#fff" filter="url(#streak)" opacity="0.72"/>
<defs><radialGradient id="gHc" cx="0.45" cy="1" r="0.6"><stop offset="0" stop-color="#7ec0f8" stop-opacity="0.55"/><stop offset="1" stop-color="#7ec0f8" stop-opacity="0"/></radialGradient></defs>
<rect x="19.1" y="420.0" width="194.0" height="76.8" fill="url(#gHc)" />
</g>
<polygon points="56.3,387.7 48.5,397.1 36.5,394.9 32.3,383.5 40.1,374.1 52.1,376.3" fill="#a6b6ea" stroke="#5574ea" stroke-width="1.6" stroke-linejoin="round"/>
<polygon points="54.7,387.4 47.9,395.6 37.5,393.7 33.9,383.8 40.7,375.6 51.1,377.5" fill="none" stroke="#c4d0f6" stroke-width="0.5" />
<polygon points="71.2,398.4 63.6,407.5 52.0,405.4 48.0,394.4 55.6,385.3 67.2,387.4" fill="#a6b6ea" stroke="#5574ea" stroke-width="1.6" stroke-linejoin="round"/>
<polygon points="69.6,398.2 63.1,406.0 53.0,404.2 49.6,394.6 56.1,386.8 66.2,388.6" fill="none" stroke="#c4d0f6" stroke-width="0.5" />
<polygon points="53.9,409.4 46.2,418.6 34.4,416.5 30.3,405.2 38.0,396.0 49.8,398.1" fill="#a6b6ea" stroke="#5574ea" stroke-width="1.6" stroke-linejoin="round"/>
<polygon points="52.3,409.1 45.7,417.1 35.4,415.3 31.9,405.5 38.5,397.5 48.8,399.3" fill="none" stroke="#c4d0f6" stroke-width="0.5" />
<text x="22.1" y="428.4" font-size="7.2" font-weight="bold" fill="#1a1a1a" text-anchor="start" textLength="63.8" lengthAdjust="spacingAndGlyphs" >Degradable&#160; UCNPs</text>
<path d="M78.2,405.8 C95,403 112,409 124,416.5 L125,414.5 L141.5,430 L119.6,425.5 L121.5,423.5 C108,415.5 95,410 78.2,406.8 Z" fill="#5a7ade" stroke="none" stroke-width="1" />
<path d="M78.2,406.6 C95,410 108,415.5 121.5,423.8 L119.6,425.5 L141.5,430" fill="none" stroke="#2c48b0" stroke-width="1.0" />
<text x="91.4" y="397.6" font-size="7.6" font-weight="bold" fill="#111" text-anchor="start" textLength="39.5" lengthAdjust="spacingAndGlyphs" transform="rotate(24 91.4 397.6)" style="font-style:italic" >Degradation</text>
<circle cx="136" cy="384.3" r="1.6" fill="#e8742c"/>
<circle cx="155.9" cy="390.3" r="1.6" fill="#e8742c"/>
<circle cx="179.4" cy="395.9" r="1.6" fill="#e8742c"/>
<circle cx="143.7" cy="401.1" r="1.6" fill="#c4e070"/>
<circle cx="160.5" cy="405.3" r="1.6" fill="#f0909c"/>
<circle cx="134.2" cy="409.9" r="1.6" fill="#e8742c"/>
<circle cx="171.7" cy="414.8" r="1.6" fill="#e8742c"/>
<circle cx="192.7" cy="407.1" r="1.6" fill="#f0909c"/>
<circle cx="188.5" cy="384.3" r="1.6" fill="#f0909c"/>
<circle cx="202.2" cy="417.6" r="1.6" fill="#e8742c"/>
<circle cx="151.7" cy="419.3" r="1.6" fill="#f0c040"/>
<circle cx="141.2" cy="421.8" r="1.6" fill="#f0909c"/>
<circle cx="148.9" cy="428.8" r="1.6" fill="#e8742c"/>
<circle cx="158.4" cy="430.6" r="1.6" fill="#c4e070"/>
<circle cx="179.7" cy="429.2" r="1.6" fill="#f0909c"/>
<circle cx="191" cy="423.9" r="1.6" fill="#c4e070"/>
<circle cx="198" cy="441.4" r="1.6" fill="#f0909c"/>
<circle cx="141.9" cy="446.3" r="1.6" fill="#e8742c"/>
<circle cx="156.6" cy="441.4" r="1.6" fill="#e8742c"/>
<circle cx="179.4" cy="452.6" r="1.6" fill="#e8742c"/>
<rect x="21.6" y="480.7" width="37.7" height="10.5" fill="#4a72cc" />
<text x="40.4" y="488.6" font-size="6.8" font-weight="bold" fill="#fff" text-anchor="middle" >H<tspan font-size="4" dy="1.3">2</tspan><tspan dy="-1.3">O/PBS</tspan></text>
<rect x="116.2" y="478.6" width="26.0" height="11.1" fill="#f6ead0" />
<text x="119.0" y="486.6" font-size="6.8" font-weight="bold" fill="#111" text-anchor="start" >Na<tspan font-size="4" dy="-2">+</tspan></text>
<circle cx="136.5" cy="484.2" r="1.6" fill="#f0909c"/>
<rect x="146.7" y="478.6" width="35.0" height="11.1" fill="#f7e2d4" />
<text x="149.3" y="486.6" font-size="6.8" font-weight="bold" fill="#111" text-anchor="start" >[ZrF<tspan font-size="4" dy="1.3">7</tspan><tspan dy="-1.3">]</tspan><tspan font-size="4" dy="-2">3-</tspan></text>
<circle cx="176" cy="484.4" r="1.3" fill="#e8742c"/>
<rect x="185.8" y="479.1" width="22.2" height="10.8" fill="#e8aa7a" />
<text x="188.5" y="486.9" font-size="6.8" font-weight="bold" fill="#111" text-anchor="start" >Ce<tspan font-size="4" dy="-2">3+</tspan></text>
<circle cx="204.5" cy="484.5" r="1.6" fill="#a0e880"/>
<defs><filter id="grain" x="0" y="0" width="1" height="1"><feTurbulence type="fractalNoise" baseFrequency="0.7" numOctaves="2" seed="2"/><feColorMatrix values="0 0 0 0 0  0 0 0 0 0  0 0 0 0 0  0 0 0 -1.5 1.05"/></filter><filter id="blur1"><feGaussianBlur stdDeviation="0.5"/></filter><clipPath id="ibclip"><rect x="242.3" y="361.2" width="183.2" height="140.4"/></clipPath><clipPath id="iaclip"><rect x="477.7" y="361.4" width="181.8" height="139.5"/></clipPath><radialGradient id="gIb" cx="0.55" cy="0.45" r="0.7"><stop offset="0" stop-color="#c4c4c4"/><stop offset="1" stop-color="#a8a8a8"/></radialGradient></defs>
<g clip-path="url(#ibclip)">
<rect x="242.3" y="361.2" width="183.2" height="140.4" fill="url(#gIb)" />
<rect x="349.2" y="366.7" width="8.7" height="10.9" rx="2.2" fill="#242424" stroke="#0b0b0b" stroke-width="0.8" transform="rotate(33 353.6 372.1)"/>
<rect x="233.2" y="395.4" width="9.0" height="8.6" rx="2.2" fill="#4b4b4b" stroke="#323232" stroke-width="0.8" transform="rotate(9 237.7 399.7)"/>
<rect x="358.3" y="470.1" width="7.5" height="10.7" rx="2.2" fill="#1f1f1f" stroke="#060606" stroke-width="0.8" transform="rotate(-42 362.1 475.5)"/>
<rect x="318.3" y="415.8" width="9.1" height="11.8" rx="2.2" fill="#222222" stroke="#090909" stroke-width="0.8" transform="rotate(29 322.9 421.7)"/>
<rect x="252.9" y="420.3" width="9.4" height="10.0" rx="2.2" fill="#323232" stroke="#191919" stroke-width="0.8" transform="rotate(-32 257.6 425.3)"/>
<rect x="307.8" y="493.9" width="9.7" height="10.5" rx="2.2" fill="#434343" stroke="#2a2a2a" stroke-width="0.8" transform="rotate(-8 312.6 499.1)"/>
<rect x="393.9" y="482.7" width="7.1" height="10.2" rx="2.2" fill="#545454" stroke="#3b3b3b" stroke-width="0.8" transform="rotate(-2 397.5 487.8)"/>
<rect x="290.6" y="402.5" width="7.7" height="11.1" rx="2.2" fill="#2a2a2a" stroke="#111111" stroke-width="0.8" transform="rotate(40 294.4 408.1)"/>
<rect x="235.3" y="416.6" width="8.5" height="12.8" rx="2.2" fill="#404040" stroke="#272727" stroke-width="0.8" transform="rotate(27 239.6 423.0)"/>
<rect x="310.3" y="487.4" width="8.1" height="8.1" rx="2.2" fill="#454545" stroke="#2c2c2c" stroke-width="0.8" transform="rotate(23 314.4 491.5)"/>
<rect x="258.4" y="484.2" width="8.7" height="12.5" rx="2.2" fill="#343434" stroke="#1b1b1b" stroke-width="0.8" transform="rotate(-17 262.8 490.4)"/>
<rect x="380.9" y="419.7" width="8.5" height="12.4" rx="2.2" fill="#181818" stroke="#000000" stroke-width="0.8" transform="rotate(-41 385.2 425.9)"/>
<rect x="408.4" y="424.9" width="8.7" height="11.7" rx="2.2" fill="#2e2e2e" stroke="#151515" stroke-width="0.8" transform="rotate(-29 412.7 430.8)"/>
<rect x="267.4" y="350.6" width="8.4" height="11.7" rx="2.2" fill="#181818" stroke="#000000" stroke-width="0.8" transform="rotate(16 271.6 356.5)"/>
<rect x="327.3" y="436.6" width="7.5" height="7.0" rx="2.2" fill="#4a4a4a" stroke="#313131" stroke-width="0.8" transform="rotate(4 331.0 440.1)"/>
<rect x="274.4" y="461.2" width="7.3" height="7.2" rx="2.2" fill="#4b4b4b" stroke="#323232" stroke-width="0.8" transform="rotate(42 278.1 464.8)"/>
<rect x="368.6" y="393.5" width="7.2" height="8.1" rx="2.2" fill="#505050" stroke="#373737" stroke-width="0.8" transform="rotate(-9 372.2 397.6)"/>
<rect x="315.5" y="356.2" width="8.3" height="8.3" rx="2.2" fill="#4e4e4e" stroke="#353535" stroke-width="0.8" transform="rotate(41 319.6 360.3)"/>
<rect x="326.9" y="452.3" width="8.3" height="12.1" rx="2.2" fill="#505050" stroke="#373737" stroke-width="0.8" transform="rotate(-43 331.1 458.3)"/>
<rect x="325.7" y="458.1" width="8.0" height="11.8" rx="2.2" fill="#4f4f4f" stroke="#363636" stroke-width="0.8" transform="rotate(-13 329.7 464.0)"/>
<rect x="424.8" y="419.1" width="9.8" height="14.0" rx="2.2" fill="#303030" stroke="#171717" stroke-width="0.8" transform="rotate(9 429.7 426.1)"/>
<rect x="351.2" y="374.9" width="9.3" height="12.2" rx="2.2" fill="#181818" stroke="#000000" stroke-width="0.8" transform="rotate(20 355.8 381.0)"/>
<rect x="276.0" y="485.3" width="8.4" height="11.6" rx="2.2" fill="#363636" stroke="#1d1d1d" stroke-width="0.8" transform="rotate(-20 280.2 491.1)"/>
<rect x="290.4" y="426.5" width="8.1" height="7.8" rx="2.2" fill="#323232" stroke="#191919" stroke-width="0.8" transform="rotate(-29 294.5 430.5)"/>
<rect x="417.1" y="475.5" width="8.0" height="9.0" rx="2.2" fill="#252525" stroke="#0c0c0c" stroke-width="0.8" transform="rotate(12 421.1 480.0)"/>
<rect x="234.1" y="443.2" width="7.3" height="9.0" rx="2.2" fill="#1b1b1b" stroke="#020202" stroke-width="0.8" transform="rotate(-43 237.7 447.7)"/>
<rect x="397.0" y="413.0" width="7.8" height="8.9" rx="2.2" fill="#494949" stroke="#303030" stroke-width="0.8" transform="rotate(-31 400.9 417.4)"/>
<rect x="318.6" y="396.8" width="8.1" height="9.0" rx="2.2" fill="#323232" stroke="#191919" stroke-width="0.8" transform="rotate(-12 322.7 401.3)"/>
<rect x="416.0" y="435.2" width="7.7" height="7.2" rx="2.2" fill="#404040" stroke="#272727" stroke-width="0.8" transform="rotate(-9 419.8 438.8)"/>
<rect x="267.6" y="420.9" width="8.1" height="9.0" rx="2.2" fill="#525252" stroke="#393939" stroke-width="0.8" transform="rotate(15 271.7 425.4)"/>
<rect x="426.4" y="479.3" width="7.1" height="8.0" rx="2.2" fill="#2e2e2e" stroke="#151515" stroke-width="0.8" transform="rotate(15 429.9 483.3)"/>
<rect x="286.1" y="379.8" width="7.5" height="8.3" rx="2.2" fill="#252525" stroke="#0c0c0c" stroke-width="0.8" transform="rotate(37 289.9 383.9)"/>
<rect x="389.5" y="445.7" width="7.8" height="8.9" rx="2.2" fill="#494949" stroke="#303030" stroke-width="0.8" transform="rotate(-34 393.4 450.1)"/>
<rect x="234.1" y="453.0" width="9.7" height="12.0" rx="2.2" fill="#1e1e1e" stroke="#050505" stroke-width="0.8" transform="rotate(-28 239.0 459.0)"/>
<rect x="366.5" y="461.0" width="8.8" height="10.9" rx="2.2" fill="#2c2c2c" stroke="#131313" stroke-width="0.8" transform="rotate(16 371.0 466.4)"/>
<rect x="300.5" y="394.2" width="8.4" height="9.0" rx="2.2" fill="#2f2f2f" stroke="#161616" stroke-width="0.8" transform="rotate(-23 304.7 398.8)"/>
<rect x="261.8" y="470.1" width="8.4" height="8.4" rx="2.2" fill="#555555" stroke="#3c3c3c" stroke-width="0.8" transform="rotate(16 266.0 474.3)"/>
<rect x="251.3" y="355.9" width="8.2" height="9.6" rx="2.2" fill="#4c4c4c" stroke="#333333" stroke-width="0.8" transform="rotate(-35 255.4 360.7)"/>
<rect x="408.8" y="474.7" width="8.4" height="9.6" rx="2.2" fill="#2e2e2e" stroke="#151515" stroke-width="0.8" transform="rotate(16 413.0 479.5)"/>
<rect x="306.9" y="443.0" width="8.4" height="8.6" rx="2.2" fill="#303030" stroke="#171717" stroke-width="0.8" transform="rotate(44 311.1 447.3)"/>
<rect x="258.1" y="377.6" width="8.6" height="11.1" rx="2.2" fill="#222222" stroke="#090909" stroke-width="0.8" transform="rotate(28 262.4 383.2)"/>
<rect x="310.1" y="469.0" width="8.1" height="11.2" rx="2.2" fill="#1b1b1b" stroke="#020202" stroke-width="0.8" transform="rotate(26 314.1 474.6)"/>
<rect x="392.2" y="433.1" width="9.1" height="13.7" rx="2.2" fill="#4c4c4c" stroke="#333333" stroke-width="0.8" transform="rotate(-11 396.7 439.9)"/>
<rect x="232.6" y="367.9" width="9.0" height="9.2" rx="2.2" fill="#1e1e1e" stroke="#050505" stroke-width="0.8" transform="rotate(-42 237.2 372.4)"/>
<rect x="232.6" y="375.0" width="8.9" height="12.5" rx="2.2" fill="#1d1d1d" stroke="#040404" stroke-width="0.8" transform="rotate(3 237.0 381.2)"/>
<rect x="323.5" y="377.9" width="9.2" height="11.2" rx="2.2" fill="#3e3e3e" stroke="#252525" stroke-width="0.8" transform="rotate(8 328.2 383.6)"/>
<rect x="397.5" y="370.4" width="9.3" height="11.7" rx="2.2" fill="#3b3b3b" stroke="#222222" stroke-width="0.8" transform="rotate(18 402.1 376.2)"/>
<rect x="408.7" y="380.4" width="8.9" height="9.7" rx="2.2" fill="#2c2c2c" stroke="#131313" stroke-width="0.8" transform="rotate(3 413.2 385.2)"/>
<rect x="423.1" y="382.9" width="9.7" height="13.7" rx="2.2" fill="#191919" stroke="#000000" stroke-width="0.8" transform="rotate(24 428.0 389.8)"/>
<rect x="281.9" y="468.4" width="8.4" height="8.6" rx="2.2" fill="#2f2f2f" stroke="#161616" stroke-width="0.8" transform="rotate(-27 286.1 472.8)"/>
<rect x="300.1" y="370.3" width="10.0" height="12.3" rx="2.2" fill="#2e2e2e" stroke="#151515" stroke-width="0.8" transform="rotate(-23 305.1 376.5)"/>
<rect x="317.8" y="451.6" width="9.8" height="9.8" rx="2.2" fill="#222222" stroke="#090909" stroke-width="0.8" transform="rotate(-37 322.7 456.6)"/>
<rect x="286.5" y="486.6" width="7.4" height="9.9" rx="2.2" fill="#2b2b2b" stroke="#121212" stroke-width="0.8" transform="rotate(43 290.2 491.5)"/>
<rect x="315.2" y="444.6" width="7.7" height="10.8" rx="2.2" fill="#2f2f2f" stroke="#161616" stroke-width="0.8" transform="rotate(-28 319.0 450.0)"/>
<rect x="407.1" y="384.4" width="8.1" height="8.3" rx="2.2" fill="#3d3d3d" stroke="#242424" stroke-width="0.8" transform="rotate(12 411.2 388.6)"/>
<rect x="372.8" y="458.4" width="8.9" height="8.1" rx="2.2" fill="#292929" stroke="#101010" stroke-width="0.8" transform="rotate(-38 377.3 462.4)"/>
<rect x="319.8" y="461.9" width="7.1" height="8.2" rx="2.2" fill="#1b1b1b" stroke="#020202" stroke-width="0.8" transform="rotate(14 323.4 466.0)"/>
<rect x="323.1" y="483.2" width="7.8" height="9.5" rx="2.2" fill="#323232" stroke="#191919" stroke-width="0.8" transform="rotate(38 327.1 488.0)"/>
<rect x="233.4" y="354.8" width="8.4" height="8.7" rx="2.2" fill="#2f2f2f" stroke="#161616" stroke-width="0.8" transform="rotate(0 237.6 359.1)"/>
<rect x="388.3" y="428.1" width="9.1" height="8.8" rx="2.2" fill="#424242" stroke="#292929" stroke-width="0.8" transform="rotate(12 392.9 432.5)"/>
<rect x="234.6" y="459.2" width="9.7" height="12.8" rx="2.2" fill="#393939" stroke="#202020" stroke-width="0.8" transform="rotate(-12 239.4 465.6)"/>
<rect x="310.1" y="427.6" width="8.7" height="8.3" rx="2.2" fill="#2d2d2d" stroke="#141414" stroke-width="0.8" transform="rotate(39 314.4 431.8)"/>
<rect x="352.7" y="362.2" width="7.3" height="10.8" rx="2.2" fill="#3a3a3a" stroke="#212121" stroke-width="0.8" transform="rotate(-15 356.3 367.6)"/>
<rect x="358.4" y="460.4" width="9.9" height="12.4" rx="2.2" fill="#444444" stroke="#2b2b2b" stroke-width="0.8" transform="rotate(-26 363.4 466.6)"/>
<rect x="350.0" y="433.8" width="10.0" height="13.3" rx="2.2" fill="#303030" stroke="#171717" stroke-width="0.8" transform="rotate(23 355.0 440.4)"/>
<rect x="286.8" y="477.0" width="8.0" height="11.9" rx="2.2" fill="#161616" stroke="#000000" stroke-width="0.8" transform="rotate(-19 290.8 483.0)"/>
<rect x="423.8" y="391.7" width="9.1" height="13.2" rx="2.2" fill="#3e3e3e" stroke="#252525" stroke-width="0.8" transform="rotate(17 428.3 398.3)"/>
<rect x="385.1" y="387.8" width="7.3" height="7.9" rx="2.2" fill="#181818" stroke="#000000" stroke-width="0.8" transform="rotate(18 388.7 391.7)"/>
<rect x="343.7" y="441.8" width="8.4" height="11.5" rx="2.2" fill="#181818" stroke="#000000" stroke-width="0.8" transform="rotate(6 347.9 447.6)"/>
<rect x="291.9" y="487.3" width="9.2" height="9.0" rx="2.2" fill="#2f2f2f" stroke="#161616" stroke-width="0.8" transform="rotate(-25 296.5 491.8)"/>
<rect x="406.9" y="486.3" width="9.7" height="9.8" rx="2.2" fill="#212121" stroke="#080808" stroke-width="0.8" transform="rotate(-18 411.8 491.2)"/>
<rect x="367.2" y="424.9" width="8.9" height="12.6" rx="2.2" fill="#2c2c2c" stroke="#131313" stroke-width="0.8" transform="rotate(40 371.6 431.2)"/>
<rect x="290.3" y="385.0" width="9.4" height="12.6" rx="2.2" fill="#161616" stroke="#000000" stroke-width="0.8" transform="rotate(20 295.0 391.2)"/>
<rect x="404.7" y="433.7" width="8.9" height="12.6" rx="2.2" fill="#4a4a4a" stroke="#313131" stroke-width="0.8" transform="rotate(39 409.1 440.0)"/>
<rect x="242.0" y="432.0" width="8.0" height="8.0" rx="2.2" fill="#3e3e3e" stroke="#252525" stroke-width="0.8" transform="rotate(11 246.0 436.0)"/>
<rect x="274.9" y="491.7" width="7.9" height="7.7" rx="2.2" fill="#505050" stroke="#373737" stroke-width="0.8" transform="rotate(9 278.9 495.5)"/>
<rect x="325.5" y="446.0" width="7.8" height="8.8" rx="2.2" fill="#191919" stroke="#000000" stroke-width="0.8" transform="rotate(-12 329.4 450.4)"/>
<rect x="235.6" y="486.1" width="7.8" height="8.8" rx="2.2" fill="#1a1a1a" stroke="#010101" stroke-width="0.8" transform="rotate(1 239.6 490.5)"/>
<rect x="364.9" y="439.9" width="9.7" height="14.5" rx="2.2" fill="#2d2d2d" stroke="#141414" stroke-width="0.8" transform="rotate(10 369.7 447.1)"/>
<rect x="307.9" y="474.3" width="8.8" height="11.0" rx="2.2" fill="#242424" stroke="#0b0b0b" stroke-width="0.8" transform="rotate(24 312.3 479.8)"/>
<rect x="334.5" y="492.5" width="8.7" height="11.2" rx="2.2" fill="#323232" stroke="#191919" stroke-width="0.8" transform="rotate(-5 338.8 498.1)"/>
<rect x="381.6" y="399.5" width="8.4" height="11.0" rx="2.2" fill="#202020" stroke="#070707" stroke-width="0.8" transform="rotate(20 385.8 405.0)"/>
<rect x="252.7" y="377.2" width="8.6" height="8.2" rx="2.2" fill="#535353" stroke="#3a3a3a" stroke-width="0.8" transform="rotate(-36 257.0 381.3)"/>
<rect x="396.9" y="490.5" width="8.1" height="11.5" rx="2.2" fill="#2a2a2a" stroke="#111111" stroke-width="0.8" transform="rotate(-17 401.0 496.3)"/>
<rect x="384.0" y="474.1" width="10.0" height="10.4" rx="2.2" fill="#1f1f1f" stroke="#060606" stroke-width="0.8" transform="rotate(-31 389.0 479.3)"/>
<rect x="410.0" y="396.3" width="7.1" height="9.6" rx="2.2" fill="#1d1d1d" stroke="#040404" stroke-width="0.8" transform="rotate(-7 413.6 401.1)"/>
<rect x="426.1" y="435.1" width="7.4" height="7.6" rx="2.2" fill="#484848" stroke="#2f2f2f" stroke-width="0.8" transform="rotate(-7 429.8 438.9)"/>
<rect x="269.4" y="477.3" width="8.4" height="11.7" rx="2.2" fill="#282828" stroke="#0f0f0f" stroke-width="0.8" transform="rotate(42 273.6 483.1)"/>
<rect x="364.5" y="493.3" width="8.1" height="7.5" rx="2.2" fill="#242424" stroke="#0b0b0b" stroke-width="0.8" transform="rotate(24 368.5 497.0)"/>
<rect x="348.7" y="445.0" width="8.3" height="10.3" rx="2.2" fill="#2f2f2f" stroke="#161616" stroke-width="0.8" transform="rotate(-35 352.9 450.2)"/>
<rect x="367.6" y="416.5" width="9.4" height="12.9" rx="2.2" fill="#272727" stroke="#0e0e0e" stroke-width="0.8" transform="rotate(-6 372.3 422.9)"/>
<rect x="233.4" y="383.4" width="9.2" height="11.6" rx="2.2" fill="#383838" stroke="#1f1f1f" stroke-width="0.8" transform="rotate(-17 238.0 389.1)"/>
<rect x="375.4" y="369.9" width="9.5" height="13.7" rx="2.2" fill="#181818" stroke="#000000" stroke-width="0.8" transform="rotate(12 380.2 376.7)"/>
<rect x="250.0" y="485.4" width="9.4" height="12.1" rx="2.2" fill="#1f1f1f" stroke="#060606" stroke-width="0.8" transform="rotate(-39 254.7 491.4)"/>
<rect x="276.0" y="411.3" width="9.3" height="10.1" rx="2.2" fill="#292929" stroke="#101010" stroke-width="0.8" transform="rotate(-18 280.6 416.3)"/>
<rect x="397.0" y="419.4" width="9.2" height="13.4" rx="2.2" fill="#262626" stroke="#0d0d0d" stroke-width="0.8" transform="rotate(14 401.7 426.1)"/>
<rect x="356.0" y="392.0" width="8.0" height="8.0" rx="2.2" fill="#333333" stroke="#1a1a1a" stroke-width="0.8" transform="rotate(-16 360.0 396.0)"/>
<rect x="400.0" y="476.5" width="7.2" height="6.9" rx="2.2" fill="#2c2c2c" stroke="#131313" stroke-width="0.8" transform="rotate(-8 403.6 479.9)"/>
<rect x="323.7" y="427.0" width="8.7" height="8.8" rx="2.2" fill="#2f2f2f" stroke="#161616" stroke-width="0.8" transform="rotate(-43 328.0 431.4)"/>
<rect x="243.0" y="492.6" width="8.0" height="10.3" rx="2.2" fill="#393939" stroke="#202020" stroke-width="0.8" transform="rotate(-15 247.0 497.7)"/>
<rect x="317.5" y="483.6" width="9.1" height="12.1" rx="2.2" fill="#282828" stroke="#0f0f0f" stroke-width="0.8" transform="rotate(-26 322.1 489.7)"/>
<rect x="413.1" y="465.9" width="8.5" height="12.1" rx="2.2" fill="#1c1c1c" stroke="#030303" stroke-width="0.8" transform="rotate(16 417.4 472.0)"/>
<rect x="261.4" y="352.9" width="9.5" height="9.2" rx="2.2" fill="#373737" stroke="#1e1e1e" stroke-width="0.8" transform="rotate(21 266.2 357.5)"/>
<rect x="267.6" y="459.8" width="7.8" height="9.3" rx="2.2" fill="#171717" stroke="#000000" stroke-width="0.8" transform="rotate(-10 271.5 464.5)"/>
<rect x="267.8" y="484.8" width="7.3" height="6.8" rx="2.2" fill="#424242" stroke="#292929" stroke-width="0.8" transform="rotate(-11 271.4 488.2)"/>
<rect x="341.3" y="494.7" width="7.1" height="7.1" rx="2.2" fill="#303030" stroke="#171717" stroke-width="0.8" transform="rotate(-14 344.9 498.2)"/>
<rect x="340.5" y="482.3" width="9.0" height="11.6" rx="2.2" fill="#282828" stroke="#0f0f0f" stroke-width="0.8" transform="rotate(-30 345.0 488.1)"/>
<rect x="413.8" y="354.1" width="8.8" height="10.6" rx="2.2" fill="#2d2d2d" stroke="#141414" stroke-width="0.8" transform="rotate(-10 418.2 359.4)"/>
<rect x="384.4" y="359.5" width="7.1" height="9.0" rx="2.2" fill="#2c2c2c" stroke="#131313" stroke-width="0.8" transform="rotate(40 387.9 364.0)"/>
<rect x="342.7" y="355.1" width="9.5" height="8.9" rx="2.2" fill="#1e1e1e" stroke="#050505" stroke-width="0.8" transform="rotate(-7 347.4 359.6)"/>
<rect x="405.3" y="457.0" width="9.1" height="11.2" rx="2.2" fill="#242424" stroke="#0b0b0b" stroke-width="0.8" transform="rotate(25 409.8 462.6)"/>
<rect x="326.8" y="394.3" width="8.3" height="12.3" rx="2.2" fill="#313131" stroke="#181818" stroke-width="0.8" transform="rotate(-34 330.9 400.5)"/>
<rect x="268.7" y="443.0" width="7.8" height="8.1" rx="2.2" fill="#1a1a1a" stroke="#010101" stroke-width="0.8" transform="rotate(-35 272.6 447.0)"/>
<rect x="241.8" y="351.6" width="8.8" height="8.2" rx="2.2" fill="#2f2f2f" stroke="#161616" stroke-width="0.8" transform="rotate(17 246.2 355.7)"/>
<rect x="415.2" y="443.9" width="8.9" height="9.5" rx="2.2" fill="#222222" stroke="#090909" stroke-width="0.8" transform="rotate(23 419.6 448.6)"/>
<rect x="292.2" y="351.4" width="8.2" height="12.2" rx="2.2" fill="#222222" stroke="#090909" stroke-width="0.8" transform="rotate(-31 296.2 357.5)"/>
<rect x="330.5" y="426.7" width="9.9" height="10.6" rx="2.2" fill="#323232" stroke="#191919" stroke-width="0.8" transform="rotate(24 335.5 432.0)"/>
<rect x="351.3" y="483.7" width="7.1" height="8.2" rx="2.2" fill="#333333" stroke="#1a1a1a" stroke-width="0.8" transform="rotate(33 354.8 487.8)"/>
<rect x="278.2" y="452.7" width="8.5" height="10.4" rx="2.2" fill="#272727" stroke="#0e0e0e" stroke-width="0.8" transform="rotate(-3 282.5 457.9)"/>
<rect x="324.5" y="369.3" width="9.3" height="11.9" rx="2.2" fill="#1b1b1b" stroke="#020202" stroke-width="0.8" transform="rotate(-25 329.1 375.3)"/>
<rect x="364.0" y="424.0" width="8.0" height="8.0" rx="2.2" fill="#333333" stroke="#1a1a1a" stroke-width="0.8" transform="rotate(14 368.0 428.0)"/>
<rect x="374.6" y="469.7" width="9.8" height="11.2" rx="2.2" fill="#474747" stroke="#2e2e2e" stroke-width="0.8" transform="rotate(43 379.5 475.3)"/>
<rect x="311.1" y="350.0" width="8.9" height="12.4" rx="2.2" fill="#212121" stroke="#080808" stroke-width="0.8" transform="rotate(-23 315.5 356.3)"/>
<rect x="384.7" y="426.0" width="9.1" height="8.8" rx="2.2" fill="#555555" stroke="#3c3c3c" stroke-width="0.8" transform="rotate(28 389.2 430.4)"/>
<rect x="276.3" y="387.2" width="7.6" height="9.6" rx="2.2" fill="#323232" stroke="#191919" stroke-width="0.8" transform="rotate(-37 280.1 392.0)"/>
<rect x="293.1" y="359.0" width="8.3" height="10.1" rx="2.2" fill="#222222" stroke="#090909" stroke-width="0.8" transform="rotate(-25 297.3 364.0)"/>
<rect x="274.3" y="468.3" width="9.7" height="9.0" rx="2.2" fill="#282828" stroke="#0f0f0f" stroke-width="0.8" transform="rotate(-21 279.1 472.8)"/>
<rect x="268.7" y="380.7" width="8.7" height="8.1" rx="2.2" fill="#2e2e2e" stroke="#151515" stroke-width="0.8" transform="rotate(-29 273.0 384.7)"/>
<rect x="338.6" y="453.0" width="10.0" height="11.8" rx="2.2" fill="#464646" stroke="#2d2d2d" stroke-width="0.8" transform="rotate(23 343.6 458.9)"/>
<rect x="373.9" y="491.9" width="9.7" height="13.9" rx="2.2" fill="#535353" stroke="#3a3a3a" stroke-width="0.8" transform="rotate(12 378.8 498.9)"/>
<rect x="413.6" y="398.0" width="7.8" height="7.1" rx="2.2" fill="#1a1a1a" stroke="#010101" stroke-width="0.8" transform="rotate(5 417.5 401.6)"/>
<rect x="243.5" y="476.8" width="8.4" height="8.8" rx="2.2" fill="#2c2c2c" stroke="#131313" stroke-width="0.8" transform="rotate(-31 247.7 481.2)"/>
<rect x="325.4" y="362.6" width="9.5" height="10.0" rx="2.2" fill="#252525" stroke="#0c0c0c" stroke-width="0.8" transform="rotate(10 330.1 367.6)"/>
<rect x="333.7" y="466.3" width="8.5" height="8.7" rx="2.2" fill="#2a2a2a" stroke="#111111" stroke-width="0.8" transform="rotate(-22 338.0 470.7)"/>
<rect x="373.1" y="354.2" width="9.3" height="8.4" rx="2.2" fill="#1a1a1a" stroke="#010101" stroke-width="0.8" transform="rotate(8 377.7 358.4)"/>
<rect x="404.2" y="360.3" width="9.7" height="13.1" rx="2.2" fill="#2e2e2e" stroke="#151515" stroke-width="0.8" transform="rotate(-40 409.1 366.8)"/>
<rect x="241.2" y="481.1" width="8.9" height="12.2" rx="2.2" fill="#323232" stroke="#191919" stroke-width="0.8" transform="rotate(2 245.7 487.2)"/>
<rect x="249.5" y="477.3" width="9.8" height="10.0" rx="2.2" fill="#1c1c1c" stroke="#030303" stroke-width="0.8" transform="rotate(40 254.4 482.3)"/>
<rect x="259.9" y="492.2" width="8.6" height="8.5" rx="2.2" fill="#2d2d2d" stroke="#141414" stroke-width="0.8" transform="rotate(-35 264.2 496.4)"/>
<rect x="299.1" y="379.3" width="7.7" height="8.7" rx="2.2" fill="#484848" stroke="#2f2f2f" stroke-width="0.8" transform="rotate(17 303.0 383.6)"/>
<rect x="260.1" y="413.2" width="8.2" height="7.6" rx="2.2" fill="#484848" stroke="#2f2f2f" stroke-width="0.8" transform="rotate(-27 264.2 417.0)"/>
<rect x="377.4" y="444.5" width="7.3" height="7.2" rx="2.2" fill="#252525" stroke="#0c0c0c" stroke-width="0.8" transform="rotate(17 381.1 448.1)"/>
<rect x="250.2" y="372.8" width="8.0" height="8.2" rx="2.2" fill="#434343" stroke="#2a2a2a" stroke-width="0.8" transform="rotate(3 254.2 376.9)"/>
<rect x="260.3" y="368.7" width="8.5" height="8.5" rx="2.2" fill="#242424" stroke="#0b0b0b" stroke-width="0.8" transform="rotate(16 264.5 373.0)"/>
<rect x="360.2" y="441.7" width="8.2" height="10.6" rx="2.2" fill="#1d1d1d" stroke="#040404" stroke-width="0.8" transform="rotate(-31 364.3 447.0)"/>
<rect x="318.2" y="401.5" width="9.6" height="10.2" rx="2.2" fill="#555555" stroke="#3c3c3c" stroke-width="0.8" transform="rotate(7 323.0 406.6)"/>
<rect x="302.4" y="356.1" width="7.2" height="9.1" rx="2.2" fill="#515151" stroke="#383838" stroke-width="0.8" transform="rotate(-16 306.0 360.6)"/>
<rect x="373.4" y="436.0" width="9.1" height="11.4" rx="2.2" fill="#323232" stroke="#191919" stroke-width="0.8" transform="rotate(42 377.9 441.6)"/>
<rect x="276.7" y="417.3" width="7.1" height="9.1" rx="2.2" fill="#262626" stroke="#0d0d0d" stroke-width="0.8" transform="rotate(14 280.3 421.9)"/>
<rect x="400.3" y="462.1" width="7.1" height="7.7" rx="2.2" fill="#454545" stroke="#2c2c2c" stroke-width="0.8" transform="rotate(-3 403.8 465.9)"/>
<rect x="389.5" y="378.0" width="7.1" height="9.2" rx="2.2" fill="#4d4d4d" stroke="#343434" stroke-width="0.8" transform="rotate(-18 393.1 382.6)"/>
<rect x="396.7" y="360.4" width="8.7" height="9.0" rx="2.2" fill="#303030" stroke="#171717" stroke-width="0.8" transform="rotate(35 401.0 364.8)"/>
<rect x="359.0" y="480.0" width="9.7" height="14.5" rx="2.2" fill="#303030" stroke="#171717" stroke-width="0.8" transform="rotate(-13 363.8 487.2)"/>
<rect x="243.6" y="465.1" width="7.6" height="11.0" rx="2.2" fill="#2a2a2a" stroke="#111111" stroke-width="0.8" transform="rotate(-39 247.4 470.6)"/>
<rect x="375.9" y="361.8" width="7.3" height="10.8" rx="2.2" fill="#434343" stroke="#2a2a2a" stroke-width="0.8" transform="rotate(39 379.5 367.2)"/>
<rect x="397.3" y="393.7" width="9.1" height="9.3" rx="2.2" fill="#191919" stroke="#000000" stroke-width="0.8" transform="rotate(29 401.8 398.4)"/>
<rect x="232.8" y="412.6" width="9.2" height="8.6" rx="2.2" fill="#1c1c1c" stroke="#030303" stroke-width="0.8" transform="rotate(43 237.4 416.9)"/>
<rect x="367.5" y="377.6" width="8.7" height="12.7" rx="2.2" fill="#545454" stroke="#3b3b3b" stroke-width="0.8" transform="rotate(-24 371.9 383.9)"/>
<rect x="293.1" y="491.9" width="8.5" height="11.5" rx="2.2" fill="#2d2d2d" stroke="#141414" stroke-width="0.8" transform="rotate(-36 297.4 497.6)"/>
<rect x="382.4" y="462.1" width="9.6" height="8.8" rx="2.2" fill="#323232" stroke="#191919" stroke-width="0.8" transform="rotate(-16 387.1 466.5)"/>
<rect x="348.0" y="414.0" width="8.0" height="8.0" rx="2.2" fill="#292929" stroke="#101010" stroke-width="0.8" transform="rotate(0 352.0 418.0)"/>
<rect x="358.4" y="385.2" width="8.5" height="9.7" rx="2.2" fill="#1d1d1d" stroke="#040404" stroke-width="0.8" transform="rotate(15 362.7 390.1)"/>
<rect x="240.0" y="398.0" width="8.0" height="8.0" rx="2.2" fill="#2b2b2b" stroke="#121212" stroke-width="0.8" transform="rotate(-33 244.0 402.0)"/>
<rect x="422.8" y="413.2" width="7.2" height="6.5" rx="2.2" fill="#202020" stroke="#070707" stroke-width="0.8" transform="rotate(23 426.4 416.5)"/>
<rect x="358.3" y="451.7" width="7.1" height="10.2" rx="2.2" fill="#212121" stroke="#080808" stroke-width="0.8" transform="rotate(-21 361.8 456.8)"/>
<rect x="422.7" y="465.4" width="7.8" height="10.4" rx="2.2" fill="#363636" stroke="#1d1d1d" stroke-width="0.8" transform="rotate(-13 426.6 470.6)"/>
<rect x="417.0" y="491.0" width="8.3" height="10.5" rx="2.2" fill="#2b2b2b" stroke="#121212" stroke-width="0.8" transform="rotate(43 421.2 496.2)"/>
<rect x="260.6" y="474.7" width="8.5" height="10.0" rx="2.2" fill="#535353" stroke="#3a3a3a" stroke-width="0.8" transform="rotate(19 264.9 479.7)"/>
<rect x="235.6" y="465.2" width="9.0" height="12.6" rx="2.2" fill="#242424" stroke="#0b0b0b" stroke-width="0.8" transform="rotate(41 240.1 471.5)"/>
<rect x="416.7" y="379.9" width="7.5" height="7.1" rx="2.2" fill="#2f2f2f" stroke="#161616" stroke-width="0.8" transform="rotate(42 420.5 383.5)"/>
<rect x="333.1" y="456.3" width="9.6" height="13.4" rx="2.2" fill="#181818" stroke="#000000" stroke-width="0.8" transform="rotate(-15 337.8 463.0)"/>
<rect x="380.0" y="414.0" width="8.0" height="8.0" rx="2.2" fill="#2e2e2e" stroke="#151515" stroke-width="0.8" transform="rotate(28 384.0 418.0)"/>
<rect x="372.0" y="386.8" width="9.3" height="10.7" rx="2.2" fill="#3c3c3c" stroke="#232323" stroke-width="0.8" transform="rotate(-22 376.7 392.1)"/>
<rect x="275.6" y="475.1" width="8.4" height="11.5" rx="2.2" fill="#1d1d1d" stroke="#040404" stroke-width="0.8" transform="rotate(-7 279.8 480.9)"/>
<rect x="276.1" y="396.3" width="9.9" height="9.2" rx="2.2" fill="#424242" stroke="#292929" stroke-width="0.8" transform="rotate(-9 281.0 400.8)"/>
<rect x="292.2" y="467.7" width="9.9" height="12.3" rx="2.2" fill="#161616" stroke="#000000" stroke-width="0.8" transform="rotate(5 297.2 473.8)"/>
<rect x="267.5" y="403.3" width="8.6" height="9.7" rx="2.2" fill="#252525" stroke="#0c0c0c" stroke-width="0.8" transform="rotate(-1 271.8 408.1)"/>
<rect x="309.7" y="378.5" width="8.1" height="8.2" rx="2.2" fill="#404040" stroke="#272727" stroke-width="0.8" transform="rotate(-15 313.7 382.7)"/>
<rect x="294.2" y="457.2" width="8.3" height="11.4" rx="2.2" fill="#2d2d2d" stroke="#141414" stroke-width="0.8" transform="rotate(-39 298.3 462.9)"/>
<rect x="324.6" y="385.8" width="7.3" height="9.0" rx="2.2" fill="#171717" stroke="#000000" stroke-width="0.8" transform="rotate(-4 328.3 390.3)"/>
<rect x="290.4" y="409.5" width="7.9" height="9.4" rx="2.2" fill="#242424" stroke="#0b0b0b" stroke-width="0.8" transform="rotate(13 294.4 414.2)"/>
<rect x="266.4" y="394.9" width="8.3" height="9.5" rx="2.2" fill="#343434" stroke="#1b1b1b" stroke-width="0.8" transform="rotate(15 270.5 399.6)"/>
<rect x="318.0" y="359.0" width="8.1" height="10.3" rx="2.2" fill="#494949" stroke="#303030" stroke-width="0.8" transform="rotate(12 322.1 364.1)"/>
<rect x="383.7" y="355.5" width="7.8" height="8.9" rx="2.2" fill="#2f2f2f" stroke="#161616" stroke-width="0.8" transform="rotate(-32 387.6 360.0)"/>
<rect x="284.8" y="393.5" width="9.7" height="9.1" rx="2.2" fill="#262626" stroke="#0d0d0d" stroke-width="0.8" transform="rotate(-32 289.7 398.1)"/>
<rect x="318.2" y="371.0" width="8.6" height="9.6" rx="2.2" fill="#262626" stroke="#0d0d0d" stroke-width="0.8" transform="rotate(-23 322.5 375.8)"/>
<rect x="413.0" y="412.6" width="9.2" height="8.9" rx="2.2" fill="#404040" stroke="#272727" stroke-width="0.8" transform="rotate(-34 417.6 417.1)"/>
<rect x="416.6" y="386.4" width="9.7" height="9.1" rx="2.2" fill="#1e1e1e" stroke="#050505" stroke-width="0.8" transform="rotate(3 421.5 391.0)"/>
<rect x="363.5" y="469.7" width="9.9" height="10.4" rx="2.2" fill="#1b1b1b" stroke="#020202" stroke-width="0.8" transform="rotate(1 368.4 474.8)"/>
<rect x="311.4" y="387.2" width="8.2" height="12.3" rx="2.2" fill="#222222" stroke="#090909" stroke-width="0.8" transform="rotate(22 315.5 393.3)"/>
<rect x="359.4" y="437.4" width="8.8" height="9.6" rx="2.2" fill="#1b1b1b" stroke="#020202" stroke-width="0.8" transform="rotate(-23 363.8 442.2)"/>
<rect x="349.2" y="490.8" width="8.6" height="9.6" rx="2.2" fill="#252525" stroke="#0c0c0c" stroke-width="0.8" transform="rotate(-8 353.5 495.6)"/>
<rect x="372.7" y="376.3" width="8.1" height="8.2" rx="2.2" fill="#2a2a2a" stroke="#111111" stroke-width="0.8" transform="rotate(42 376.8 380.4)"/>
<rect x="286.1" y="355.3" width="8.7" height="10.7" rx="2.2" fill="#222222" stroke="#090909" stroke-width="0.8" transform="rotate(35 290.5 360.6)"/>
<rect x="381.2" y="440.4" width="8.4" height="11.4" rx="2.2" fill="#282828" stroke="#0f0f0f" stroke-width="0.8" transform="rotate(13 385.4 446.1)"/>
<rect x="397.5" y="442.4" width="8.5" height="11.7" rx="2.2" fill="#323232" stroke="#191919" stroke-width="0.8" transform="rotate(-42 401.7 448.2)"/>
<rect x="298.5" y="492.5" width="9.1" height="8.7" rx="2.2" fill="#1a1a1a" stroke="#010101" stroke-width="0.8" transform="rotate(34 303.1 496.9)"/>
<rect x="323.4" y="475.1" width="10.0" height="13.5" rx="2.2" fill="#272727" stroke="#0e0e0e" stroke-width="0.8" transform="rotate(42 328.3 481.9)"/>
<rect x="240.2" y="419.3" width="9.6" height="11.2" rx="2.2" fill="#1a1a1a" stroke="#010101" stroke-width="0.8" transform="rotate(1 245.0 424.9)"/>
<rect x="258.2" y="435.8" width="8.8" height="11.2" rx="2.2" fill="#161616" stroke="#000000" stroke-width="0.8" transform="rotate(-30 262.6 441.4)"/>
<rect x="252.8" y="469.1" width="9.5" height="12.0" rx="2.2" fill="#292929" stroke="#101010" stroke-width="0.8" transform="rotate(4 257.6 475.2)"/>
<rect x="267.2" y="492.6" width="7.1" height="8.5" rx="2.2" fill="#282828" stroke="#0f0f0f" stroke-width="0.8" transform="rotate(-37 270.7 496.8)"/>
<rect x="258.8" y="420.4" width="8.2" height="9.8" rx="2.2" fill="#161616" stroke="#000000" stroke-width="0.8" transform="rotate(32 262.9 425.3)"/>
<rect x="249.2" y="459.0" width="9.4" height="12.9" rx="2.2" fill="#353535" stroke="#1c1c1c" stroke-width="0.8" transform="rotate(-38 253.9 465.4)"/>
<rect x="234.5" y="401.2" width="7.1" height="10.5" rx="2.2" fill="#323232" stroke="#191919" stroke-width="0.8" transform="rotate(30 238.1 406.5)"/>
<rect x="232.8" y="489.7" width="8.6" height="12.3" rx="2.2" fill="#262626" stroke="#0d0d0d" stroke-width="0.8" transform="rotate(27 237.1 495.9)"/>
<rect x="331.7" y="402.3" width="8.6" height="12.0" rx="2.2" fill="#484848" stroke="#2f2f2f" stroke-width="0.8" transform="rotate(13 336.0 408.3)"/>
<rect x="391.5" y="396.5" width="9.4" height="9.7" rx="2.2" fill="#303030" stroke="#171717" stroke-width="0.8" transform="rotate(13 396.2 401.4)"/>
<rect x="335.0" y="484.7" width="8.7" height="12.0" rx="2.2" fill="#1c1c1c" stroke="#030303" stroke-width="0.8" transform="rotate(-35 339.4 490.7)"/>
<rect x="241.6" y="361.7" width="9.8" height="9.4" rx="2.2" fill="#4d4d4d" stroke="#343434" stroke-width="0.8" transform="rotate(21 246.5 366.4)"/>
<rect x="307.9" y="449.1" width="9.1" height="10.8" rx="2.2" fill="#1c1c1c" stroke="#030303" stroke-width="0.8" transform="rotate(29 312.4 454.5)"/>
<rect x="325.3" y="404.8" width="7.5" height="6.8" rx="2.2" fill="#292929" stroke="#101010" stroke-width="0.8" transform="rotate(27 329.0 408.1)"/>
<rect x="242.6" y="451.9" width="9.7" height="9.2" rx="2.2" fill="#323232" stroke="#191919" stroke-width="0.8" transform="rotate(-10 247.5 456.5)"/>
<rect x="293.7" y="366.6" width="8.8" height="11.2" rx="2.2" fill="#2e2e2e" stroke="#151515" stroke-width="0.8" transform="rotate(39 298.2 372.2)"/>
<rect x="390.2" y="400.3" width="8.3" height="10.9" rx="2.2" fill="#252525" stroke="#0c0c0c" stroke-width="0.8" transform="rotate(43 394.3 405.8)"/>
<rect x="334.1" y="355.9" width="8.1" height="8.5" rx="2.2" fill="#373737" stroke="#1e1e1e" stroke-width="0.8" transform="rotate(-39 338.2 360.1)"/>
<rect x="413.2" y="454.4" width="8.5" height="8.5" rx="2.2" fill="#202020" stroke="#070707" stroke-width="0.8" transform="rotate(27 417.5 458.7)"/>
<rect x="298.1" y="359.7" width="9.1" height="12.7" rx="2.2" fill="#2d2d2d" stroke="#141414" stroke-width="0.8" transform="rotate(-9 302.6 366.1)"/>
<rect x="233.7" y="426.7" width="9.6" height="13.8" rx="2.2" fill="#393939" stroke="#202020" stroke-width="0.8" transform="rotate(-15 238.5 433.6)"/>
<rect x="281.7" y="495.1" width="8.8" height="9.1" rx="2.2" fill="#343434" stroke="#1b1b1b" stroke-width="0.8" transform="rotate(-12 286.2 499.7)"/>
<rect x="261.7" y="461.3" width="7.4" height="7.8" rx="2.2" fill="#1a1a1a" stroke="#010101" stroke-width="0.8" transform="rotate(-18 265.4 465.1)"/>
<rect x="372.0" y="428.0" width="8.0" height="8.0" rx="2.2" fill="#383838" stroke="#1f1f1f" stroke-width="0.8" transform="rotate(29 376.0 432.0)"/>
<rect x="315.9" y="386.4" width="7.7" height="7.2" rx="2.2" fill="#474747" stroke="#2e2e2e" stroke-width="0.8" transform="rotate(-17 319.7 390.0)"/>
<rect x="358.1" y="361.9" width="9.9" height="10.8" rx="2.2" fill="#363636" stroke="#1d1d1d" stroke-width="0.8" transform="rotate(1 363.0 367.3)"/>
<rect x="293.7" y="437.0" width="9.3" height="10.6" rx="2.2" fill="#2e2e2e" stroke="#151515" stroke-width="0.8" transform="rotate(6 298.3 442.3)"/>
<rect x="241.5" y="425.7" width="7.9" height="10.9" rx="2.2" fill="#181818" stroke="#000000" stroke-width="0.8" transform="rotate(24 245.4 431.2)"/>
<rect x="365.9" y="475.4" width="8.6" height="11.0" rx="2.2" fill="#2a2a2a" stroke="#111111" stroke-width="0.8" transform="rotate(-42 370.1 480.9)"/>
<rect x="407.0" y="493.3" width="9.4" height="13.1" rx="2.2" fill="#2c2c2c" stroke="#131313" stroke-width="0.8" transform="rotate(-32 411.7 499.9)"/>
<rect x="407.3" y="371.0" width="8.3" height="7.6" rx="2.2" fill="#1a1a1a" stroke="#010101" stroke-width="0.8" transform="rotate(23 411.4 374.8)"/>
<rect x="347.6" y="348.8" width="9.7" height="14.4" rx="2.2" fill="#2d2d2d" stroke="#141414" stroke-width="0.8" transform="rotate(-22 352.5 356.0)"/>
<rect x="350.2" y="478.8" width="7.4" height="8.0" rx="2.2" fill="#161616" stroke="#000000" stroke-width="0.8" transform="rotate(27 353.9 482.7)"/>
<rect x="325.4" y="408.5" width="7.6" height="10.2" rx="2.2" fill="#555555" stroke="#3c3c3c" stroke-width="0.8" transform="rotate(27 329.2 413.6)"/>
<rect x="332.9" y="444.4" width="7.3" height="10.4" rx="2.2" fill="#232323" stroke="#0a0a0a" stroke-width="0.8" transform="rotate(21 336.6 449.6)"/>
<rect x="251.2" y="451.6" width="9.4" height="11.6" rx="2.2" fill="#1f1f1f" stroke="#060606" stroke-width="0.8" transform="rotate(36 255.9 457.4)"/>
<rect x="284.9" y="445.0" width="9.0" height="9.2" rx="2.2" fill="#4a4a4a" stroke="#313131" stroke-width="0.8" transform="rotate(36 289.5 449.6)"/>
<rect x="416.5" y="369.1" width="7.7" height="10.5" rx="2.2" fill="#161616" stroke="#000000" stroke-width="0.8" transform="rotate(25 420.4 374.4)"/>
<rect x="407.3" y="467.7" width="7.1" height="9.3" rx="2.2" fill="#525252" stroke="#393939" stroke-width="0.8" transform="rotate(-25 410.9 472.3)"/>
<rect x="392.2" y="368.0" width="8.0" height="10.3" rx="2.2" fill="#212121" stroke="#080808" stroke-width="0.8" transform="rotate(-19 396.2 373.2)"/>
<rect x="340.3" y="371.5" width="8.3" height="9.0" rx="2.2" fill="#1a1a1a" stroke="#010101" stroke-width="0.8" transform="rotate(-11 344.4 376.0)"/>
<rect x="417.1" y="361.1" width="8.4" height="11.6" rx="2.2" fill="#202020" stroke="#070707" stroke-width="0.8" transform="rotate(-13 421.3 366.9)"/>
<rect x="371.8" y="448.8" width="9.8" height="12.0" rx="2.2" fill="#252525" stroke="#0c0c0c" stroke-width="0.8" transform="rotate(-32 376.7 454.8)"/>
<rect x="383.7" y="378.6" width="7.9" height="7.7" rx="2.2" fill="#353535" stroke="#1c1c1c" stroke-width="0.8" transform="rotate(-45 387.7 382.5)"/>
<rect x="250.0" y="424.5" width="8.9" height="12.9" rx="2.2" fill="#161616" stroke="#000000" stroke-width="0.8" transform="rotate(29 254.4 431.0)"/>
<rect x="392.1" y="476.3" width="7.8" height="8.1" rx="2.2" fill="#252525" stroke="#0c0c0c" stroke-width="0.8" transform="rotate(15 396.0 480.3)"/>
<rect x="266.1" y="428.2" width="8.8" height="12.3" rx="2.2" fill="#303030" stroke="#171717" stroke-width="0.8" transform="rotate(-4 270.5 434.4)"/>
<rect x="424.9" y="352.7" width="9.6" height="9.9" rx="2.2" fill="#414141" stroke="#282828" stroke-width="0.8" transform="rotate(-41 429.7 357.7)"/>
<rect x="283.7" y="410.7" width="8.8" height="11.9" rx="2.2" fill="#242424" stroke="#0b0b0b" stroke-width="0.8" transform="rotate(40 288.1 416.7)"/>
<rect x="343.2" y="458.3" width="9.4" height="11.1" rx="2.2" fill="#454545" stroke="#2c2c2c" stroke-width="0.8" transform="rotate(17 347.9 463.8)"/>
<rect x="310.8" y="396.0" width="8.7" height="9.1" rx="2.2" fill="#515151" stroke="#383838" stroke-width="0.8" transform="rotate(-7 315.1 400.6)"/>
<rect x="391.7" y="451.6" width="9.4" height="10.1" rx="2.2" fill="#1f1f1f" stroke="#060606" stroke-width="0.8" transform="rotate(1 396.4 456.6)"/>
<rect x="421.4" y="380.3" width="8.5" height="7.9" rx="2.2" fill="#414141" stroke="#282828" stroke-width="0.8" transform="rotate(16 425.6 384.2)"/>
<rect x="333.5" y="475.6" width="7.6" height="7.8" rx="2.2" fill="#535353" stroke="#3a3a3a" stroke-width="0.8" transform="rotate(40 337.3 479.5)"/>
<rect x="380.6" y="371.4" width="9.0" height="9.7" rx="2.2" fill="#1c1c1c" stroke="#030303" stroke-width="0.8" transform="rotate(-0 385.1 376.3)"/>
<rect x="261.8" y="388.0" width="7.7" height="8.4" rx="2.2" fill="#1f1f1f" stroke="#060606" stroke-width="0.8" transform="rotate(45 265.7 392.2)"/>
<rect x="415.5" y="404.7" width="8.1" height="10.1" rx="2.2" fill="#303030" stroke="#171717" stroke-width="0.8" transform="rotate(26 419.6 409.8)"/>
<rect x="359.0" y="370.8" width="7.1" height="10.3" rx="2.2" fill="#252525" stroke="#0c0c0c" stroke-width="0.8" transform="rotate(-13 362.6 375.9)"/>
<rect x="241.9" y="436.3" width="7.6" height="8.2" rx="2.2" fill="#2f2f2f" stroke="#161616" stroke-width="0.8" transform="rotate(14 245.6 440.4)"/>
<rect x="293.6" y="477.7" width="7.7" height="8.8" rx="2.2" fill="#3a3a3a" stroke="#212121" stroke-width="0.8" transform="rotate(17 297.4 482.1)"/>
<rect x="361.1" y="354.7" width="7.1" height="7.3" rx="2.2" fill="#212121" stroke="#080808" stroke-width="0.8" transform="rotate(9 364.6 358.3)"/>
<rect x="234.4" y="436.7" width="8.4" height="11.5" rx="2.2" fill="#484848" stroke="#2f2f2f" stroke-width="0.8" transform="rotate(-4 238.6 442.5)"/>
<rect x="243.6" y="460.3" width="9.4" height="12.4" rx="2.2" fill="#191919" stroke="#000000" stroke-width="0.8" transform="rotate(34 248.3 466.6)"/>
<rect x="391.2" y="412.2" width="7.9" height="11.0" rx="2.2" fill="#232323" stroke="#0a0a0a" stroke-width="0.8" transform="rotate(10 395.1 417.8)"/>
<rect x="332.0" y="448.9" width="9.9" height="12.6" rx="2.2" fill="#323232" stroke="#191919" stroke-width="0.8" transform="rotate(27 337.0 455.2)"/>
<rect x="323.2" y="490.4" width="8.1" height="12.0" rx="2.2" fill="#484848" stroke="#2f2f2f" stroke-width="0.8" transform="rotate(8 327.3 496.4)"/>
<rect x="270.2" y="467.3" width="7.1" height="8.0" rx="2.2" fill="#313131" stroke="#181818" stroke-width="0.8" transform="rotate(38 273.7 471.3)"/>
<rect x="389.2" y="457.0" width="8.9" height="12.8" rx="2.2" fill="#4c4c4c" stroke="#333333" stroke-width="0.8" transform="rotate(2 393.7 463.5)"/>
<rect x="422.9" y="444.7" width="8.8" height="10.1" rx="2.2" fill="#303030" stroke="#171717" stroke-width="0.8" transform="rotate(2 427.3 449.8)"/>
<rect x="382.4" y="449.0" width="8.8" height="11.8" rx="2.2" fill="#2d2d2d" stroke="#141414" stroke-width="0.8" transform="rotate(37 386.8 454.9)"/>
<rect x="306.3" y="401.3" width="9.9" height="10.6" rx="2.2" fill="#3a3a3a" stroke="#212121" stroke-width="0.8" transform="rotate(-28 311.3 406.6)"/>
<rect x="243.7" y="371.9" width="7.5" height="7.2" rx="2.2" fill="#272727" stroke="#0e0e0e" stroke-width="0.8" transform="rotate(-27 247.5 375.5)"/>
<rect x="382.2" y="436.0" width="9.6" height="9.5" rx="2.2" fill="#282828" stroke="#0f0f0f" stroke-width="0.8" transform="rotate(11 387.0 440.7)"/>
<rect x="276.9" y="423.9" width="9.6" height="13.7" rx="2.2" fill="#1d1d1d" stroke="#040404" stroke-width="0.8" transform="rotate(25 281.7 430.8)"/>
<rect x="367.7" y="451.4" width="8.5" height="12.3" rx="2.2" fill="#282828" stroke="#0f0f0f" stroke-width="0.8" transform="rotate(2 371.9 457.6)"/>
<rect x="276.5" y="404.5" width="9.0" height="9.3" rx="2.2" fill="#4b4b4b" stroke="#323232" stroke-width="0.8" transform="rotate(13 281.0 409.2)"/>
<rect x="286.9" y="417.9" width="8.0" height="9.8" rx="2.2" fill="#3c3c3c" stroke="#232323" stroke-width="0.8" transform="rotate(-20 290.9 422.7)"/>
<rect x="253.7" y="360.1" width="8.6" height="10.6" rx="2.2" fill="#181818" stroke="#000000" stroke-width="0.8" transform="rotate(-13 258.0 365.5)"/>
<rect x="325.4" y="420.7" width="9.8" height="9.5" rx="2.2" fill="#1c1c1c" stroke="#030303" stroke-width="0.8" transform="rotate(11 330.3 425.4)"/>
<rect x="409.3" y="453.0" width="8.1" height="7.7" rx="2.2" fill="#4f4f4f" stroke="#363636" stroke-width="0.8" transform="rotate(5 413.3 456.8)"/>
<rect x="290.4" y="440.4" width="8.6" height="11.1" rx="2.2" fill="#434343" stroke="#2a2a2a" stroke-width="0.8" transform="rotate(24 294.7 445.9)"/>
<rect x="412.4" y="419.2" width="9.7" height="12.3" rx="2.2" fill="#3a3a3a" stroke="#212121" stroke-width="0.8" transform="rotate(32 417.2 425.3)"/>
<rect x="300.9" y="432.7" width="8.4" height="12.5" rx="2.2" fill="#343434" stroke="#1b1b1b" stroke-width="0.8" transform="rotate(21 305.2 439.0)"/>
<rect x="340.7" y="478.8" width="7.1" height="9.6" rx="2.2" fill="#292929" stroke="#101010" stroke-width="0.8" transform="rotate(6 344.2 483.6)"/>
<rect x="347.9" y="425.5" width="9.3" height="13.4" rx="2.2" fill="#414141" stroke="#282828" stroke-width="0.8" transform="rotate(-34 352.5 432.1)"/>
<rect x="277.6" y="436.0" width="7.8" height="9.9" rx="2.2" fill="#363636" stroke="#1d1d1d" stroke-width="0.8" transform="rotate(-5 281.5 441.0)"/>
<rect x="307.7" y="420.7" width="9.1" height="10.4" rx="2.2" fill="#181818" stroke="#000000" stroke-width="0.8" transform="rotate(-44 312.2 425.9)"/>
<rect x="349.5" y="460.7" width="8.0" height="11.6" rx="2.2" fill="#2b2b2b" stroke="#121212" stroke-width="0.8" transform="rotate(36 353.5 466.5)"/>
<rect x="359.1" y="428.1" width="8.2" height="12.3" rx="2.2" fill="#171717" stroke="#000000" stroke-width="0.8" transform="rotate(-20 363.2 434.3)"/>
<rect x="397.3" y="434.5" width="8.4" height="11.8" rx="2.2" fill="#272727" stroke="#0e0e0e" stroke-width="0.8" transform="rotate(-18 401.5 440.4)"/>
<rect x="420.9" y="448.9" width="9.4" height="13.5" rx="2.2" fill="#393939" stroke="#202020" stroke-width="0.8" transform="rotate(27 425.6 455.7)"/>
<rect x="343.0" y="468.0" width="9.0" height="12.8" rx="2.2" fill="#272727" stroke="#0e0e0e" stroke-width="0.8" transform="rotate(-29 347.5 474.4)"/>
<rect x="294.0" y="420.1" width="7.1" height="9.6" rx="2.2" fill="#2c2c2c" stroke="#131313" stroke-width="0.8" transform="rotate(-12 297.5 424.9)"/>
<rect x="415.5" y="428.5" width="7.5" height="9.8" rx="2.2" fill="#222222" stroke="#090909" stroke-width="0.8" transform="rotate(-11 419.3 433.4)"/>
<rect x="367.2" y="370.5" width="7.2" height="7.6" rx="2.2" fill="#3d3d3d" stroke="#242424" stroke-width="0.8" transform="rotate(25 370.8 374.3)"/>
<rect x="316.3" y="412.3" width="8.7" height="10.0" rx="2.2" fill="#323232" stroke="#191919" stroke-width="0.8" transform="rotate(-14 320.6 417.3)"/>
<rect x="422.9" y="404.3" width="8.8" height="8.0" rx="2.2" fill="#2e2e2e" stroke="#151515" stroke-width="0.8" transform="rotate(-18 427.3 408.3)"/>
<rect x="372.7" y="486.8" width="7.9" height="7.2" rx="2.2" fill="#393939" stroke="#202020" stroke-width="0.8" transform="rotate(-43 376.6 490.4)"/>
<rect x="426.2" y="372.5" width="7.5" height="6.8" rx="2.2" fill="#202020" stroke="#070707" stroke-width="0.8" transform="rotate(-26 429.9 375.8)"/>
<rect x="417.8" y="486.9" width="7.4" height="7.0" rx="2.2" fill="#313131" stroke="#181818" stroke-width="0.8" transform="rotate(-32 421.5 490.4)"/>
<rect x="284.9" y="404.5" width="8.6" height="10.2" rx="2.2" fill="#1e1e1e" stroke="#050505" stroke-width="0.8" transform="rotate(-22 289.2 409.6)"/>
<rect x="268.0" y="434.3" width="9.6" height="11.0" rx="2.2" fill="#3b3b3b" stroke="#222222" stroke-width="0.8" transform="rotate(11 272.8 439.8)"/>
<rect x="400.6" y="384.3" width="8.3" height="10.8" rx="2.2" fill="#3d3d3d" stroke="#242424" stroke-width="0.8" transform="rotate(17 404.7 389.7)"/>
<rect x="339.3" y="361.4" width="8.2" height="8.1" rx="2.2" fill="#323232" stroke="#191919" stroke-width="0.8" transform="rotate(-18 343.4 365.5)"/>
<rect x="302.1" y="410.7" width="8.6" height="8.2" rx="2.2" fill="#313131" stroke="#181818" stroke-width="0.8" transform="rotate(-2 306.4 414.8)"/>
<rect x="400.5" y="403.5" width="8.8" height="9.9" rx="2.2" fill="#212121" stroke="#080808" stroke-width="0.8" transform="rotate(24 404.9 408.5)"/>
<rect x="315.9" y="381.4" width="7.6" height="7.0" rx="2.2" fill="#1c1c1c" stroke="#030303" stroke-width="0.8" transform="rotate(15 319.7 384.9)"/>
<rect x="382.1" y="484.6" width="9.4" height="12.6" rx="2.2" fill="#2d2d2d" stroke="#141414" stroke-width="0.8" transform="rotate(36 386.8 490.9)"/>
<rect x="384.4" y="468.3" width="8.7" height="10.4" rx="2.2" fill="#191919" stroke="#000000" stroke-width="0.8" transform="rotate(-14 388.8 473.5)"/>
<rect x="302.3" y="429.9" width="7.2" height="8.2" rx="2.2" fill="#171717" stroke="#000000" stroke-width="0.8" transform="rotate(13 305.9 434.0)"/>
<rect x="389.9" y="352.2" width="9.4" height="8.8" rx="2.2" fill="#191919" stroke="#000000" stroke-width="0.8" transform="rotate(-18 394.6 356.6)"/>
<rect x="299.6" y="450.8" width="7.9" height="10.1" rx="2.2" fill="#242424" stroke="#0b0b0b" stroke-width="0.8" transform="rotate(24 303.6 455.8)"/>
<rect x="398.9" y="378.4" width="8.2" height="10.9" rx="2.2" fill="#191919" stroke="#000000" stroke-width="0.8" transform="rotate(18 403.0 383.9)"/>
<rect x="349.4" y="451.1" width="9.8" height="10.5" rx="2.2" fill="#161616" stroke="#000000" stroke-width="0.8" transform="rotate(44 354.3 456.4)"/>
<rect x="318.2" y="437.9" width="7.0" height="9.1" rx="2.2" fill="#2e2e2e" stroke="#151515" stroke-width="0.8" transform="rotate(40 321.7 442.4)"/>
<rect x="365.5" y="363.1" width="7.5" height="8.5" rx="2.2" fill="#4a4a4a" stroke="#313131" stroke-width="0.8" transform="rotate(15 369.2 367.3)"/>
<rect x="355.5" y="493.8" width="9.8" height="9.0" rx="2.2" fill="#282828" stroke="#0f0f0f" stroke-width="0.8" transform="rotate(33 360.4 498.3)"/>
<rect x="291.4" y="375.0" width="8.5" height="11.8" rx="2.2" fill="#2e2e2e" stroke="#151515" stroke-width="0.8" transform="rotate(-17 295.7 380.9)"/>
<rect x="389.3" y="365.1" width="8.1" height="7.3" rx="2.2" fill="#1a1a1a" stroke="#010101" stroke-width="0.8" transform="rotate(3 393.3 368.8)"/>
<rect x="308.8" y="367.9" width="9.6" height="11.9" rx="2.2" fill="#161616" stroke="#000000" stroke-width="0.8" transform="rotate(44 313.6 373.9)"/>
<rect x="242.3" y="361.2" width="183.2" height="140.4" fill="#000" filter="url(#grain)" opacity="0.2"/>
</g>
<clipPath id="ibin"><rect x="260.5" y="372.5" width="75.5" height="86.7"/></clipPath>
<g clip-path="url(#ibin)">
<defs><linearGradient id="gIn" x1="0" y1="0" x2="1" y2="0"><stop offset="0" stop-color="#8e8e8e"/><stop offset="1" stop-color="#9e9e9e"/></linearGradient></defs>
<rect x="260.5" y="372.5" width="75.5" height="86.7" fill="url(#gIn)" />
<g filter="url(#sA)">
<path d="M259,371 L292,371 L290.5,378 Q284,392 275,406 Q271,411 265,411 L259,410 Z" fill="#4a4a4a" stroke="#8a8a8a" stroke-width="0.8" />
<rect x="284.1" y="385" width="25.8" height="30" rx="5" fill="#505050" stroke="#b4b4b4" stroke-width="0.9" transform="rotate(26 297 400)"/>
<rect x="290.5" y="412" width="25" height="30" rx="5" fill="#5a5a5a" stroke="#ababab" stroke-width="0.8" transform="rotate(-6 303 427)"/>
<ellipse cx="305" cy="440.9" rx="9" ry="6.5" fill="#303030" transform="rotate(10 305 440.9)"/>
<path d="M259,448 Q268,445 276,450 L278,461 L259,461 Z" fill="#3e3e3e" stroke="none" stroke-width="1" />
<path d="M312,450 Q322,444 336,447 L337,461 L310,461 Z" fill="#383838" stroke="none" stroke-width="1" />
</g>
<rect x="260.5" y="372.5" width="75.5" height="86.7" fill="#000" filter="url(#grain)" opacity="0.3"/>
</g>
<rect x="260.5" y="372.5" width="75.5" height="86.7" fill="none" stroke="#b03434" stroke-width="1"/>
<rect x="266.0" y="450.5" width="64.2" height="3.6" fill="#fff" />
<line x1="336.0" y1="372.5" x2="397.7" y2="411.0" stroke="#e03030" stroke-width="1" stroke-dasharray="1.2,1.2"/>
<line x1="336.0" y1="459.2" x2="397.7" y2="434.1" stroke="#e03030" stroke-width="1" stroke-dasharray="1.2,1.2"/>
<rect x="397.7" y="411.0" width="24.3" height="23.1" fill="none" stroke="#e03030" stroke-width="1.1" stroke-dasharray="3,1.5"/>
<rect x="242.8" y="483.3" width="47.6" height="17.7" fill="#fff" stroke="#8aa2d4" stroke-width="0.8"/>
<text x="266.7" y="495.9" font-size="10.4" font-weight="bold" fill="#111" text-anchor="middle" textLength="34.4" lengthAdjust="spacingAndGlyphs" >Before</text>
<rect x="378.4" y="484.2" width="35.3" height="9.7" fill="#fff" />
<text x="396.2" y="492.2" font-size="7.8" font-weight="bold" fill="#111" text-anchor="middle" textLength="30.2" lengthAdjust="spacingAndGlyphs" >200 nm</text>
<rect x="369.7" y="495.2" width="52.3" height="3.2" fill="#fff" />
<defs><filter id="soft2" x="-0.3" y="-0.3" width="1.6" height="1.6"><feGaussianBlur stdDeviation="2"/></filter></defs>
<g clip-path="url(#iaclip)">
<rect x="477.7" y="361.4" width="181.8" height="139.5" fill="#a2a2a2" />
<path d="M476,406.6 L488.7,402.4 L503.5,394 L512,379 L526.7,366.5 L524.6,361 L662,361 L662,502 L476,502 Z" fill="#7e7e7e" stroke="none" stroke-width="1" />
<defs><clipPath id="degc"><path d="M476,406.6 L488.7,402.4 L503.5,394 L512,379 L526.7,366.5 L524.6,361 L575,361 L575,502 L476,502 Z"/></clipPath><filter id="tx1" x="0" y="0" width="1" height="1"><feTurbulence type="fractalNoise" baseFrequency="0.2" numOctaves="3" seed="13"/><feColorMatrix values="0 0 0 0 1  0 0 0 0 1  0 0 0 0 1  3.5 0 0 0 -1.85"/></filter><filter id="tx2" x="0" y="0" width="1" height="1"><feTurbulence type="fractalNoise" baseFrequency="0.2" numOctaves="3" seed="29"/><feColorMatrix values="0 0 0 0 0  0 0 0 0 0  0 0 0 0 0  -3.5 0 0 0 1.6"/></filter></defs>
<g clip-path="url(#degc)">
<rect x="476.0" y="361.0" width="100.0" height="141.0" fill="#fff" filter="url(#tx1)" opacity="0.55"/>
<rect x="476.0" y="361.0" width="100.0" height="141.0" fill="#000" filter="url(#tx2)" opacity="0.45"/>
</g>
<circle cx="538.0" cy="465.1" r="2.2" fill="#a8a8a8"/>
<circle cx="567.4" cy="366.0" r="1.7" fill="#747474"/>
<circle cx="540.6" cy="487.2" r="1.2" fill="#919191"/>
<circle cx="562.1" cy="414.9" r="1.2" fill="#747474"/>
<circle cx="504.4" cy="489.4" r="2.1" fill="#696969"/>
<circle cx="551.7" cy="372.0" r="1.9" fill="#8d8d8d"/>
<circle cx="562.4" cy="391.1" r="1.3" fill="#6a6a6a"/>
<circle cx="562.5" cy="402.2" r="2.4" fill="#9a9a9a"/>
<circle cx="562.9" cy="449.0" r="1.3" fill="#6e6e6e"/>
<circle cx="571.7" cy="486.2" r="1.4" fill="#838383"/>
<circle cx="517.7" cy="492.1" r="1.4" fill="#7f7f7f"/>
<circle cx="506.5" cy="445.8" r="1.0" fill="#808080"/>
<circle cx="483.5" cy="411.4" r="1.5" fill="#7d7d7d"/>
<circle cx="495.1" cy="427.7" r="1.3" fill="#757575"/>
<circle cx="572.6" cy="365.2" r="2.1" fill="#888888"/>
<circle cx="478.8" cy="471.5" r="1.5" fill="#9f9f9f"/>
<circle cx="559.4" cy="424.9" r="2.1" fill="#a4a4a4"/>
<circle cx="570.6" cy="389.3" r="2.1" fill="#909090"/>
<circle cx="510.7" cy="411.3" r="1.8" fill="#909090"/>
<circle cx="487.6" cy="466.0" r="2.2" fill="#7a7a7a"/>
<circle cx="480.6" cy="493.5" r="1.1" fill="#808080"/>
<circle cx="527.3" cy="412.4" r="1.2" fill="#787878"/>
<circle cx="567.6" cy="437.8" r="1.5" fill="#7d7d7d"/>
<circle cx="507.0" cy="473.0" r="1.9" fill="#7c7c7c"/>
<circle cx="574.7" cy="384.5" r="1.1" fill="#a1a1a1"/>
<circle cx="529.3" cy="418.4" r="1.4" fill="#a1a1a1"/>
<circle cx="510.7" cy="396.8" r="2.0" fill="#676767"/>
<circle cx="482.5" cy="489.3" r="1.0" fill="#949494"/>
<circle cx="509.8" cy="390.8" r="2.5" fill="#9d9d9d"/>
<circle cx="570.1" cy="449.6" r="2.2" fill="#626262"/>
<circle cx="493.5" cy="413.8" r="1.1" fill="#8a8a8a"/>
<circle cx="505.9" cy="425.0" r="2.5" fill="#6a6a6a"/>
<circle cx="572.6" cy="425.0" r="1.7" fill="#7d7d7d"/>
<circle cx="523.9" cy="402.5" r="1.6" fill="#676767"/>
<circle cx="488.0" cy="476.3" r="1.8" fill="#6b6b6b"/>
<circle cx="538.4" cy="431.4" r="1.5" fill="#606060"/>
<circle cx="525.2" cy="433.6" r="1.8" fill="#959595"/>
<circle cx="512.4" cy="471.3" r="2.2" fill="#a0a0a0"/>
<circle cx="542.1" cy="467.6" r="1.5" fill="#aaaaaa"/>
<circle cx="504.5" cy="429.5" r="2.2" fill="#7a7a7a"/>
<circle cx="570.8" cy="409.3" r="1.3" fill="#565656"/>
<circle cx="523.5" cy="469.5" r="1.5" fill="#787878"/>
<circle cx="522.4" cy="475.5" r="2.0" fill="#828282"/>
<circle cx="511.1" cy="451.5" r="2.1" fill="#898989"/>
<circle cx="511.3" cy="479.2" r="2.3" fill="#8e8e8e"/>
<circle cx="572.7" cy="495.0" r="1.8" fill="#989898"/>
<circle cx="573.1" cy="389.6" r="1.5" fill="#929292"/>
<circle cx="542.7" cy="419.9" r="1.9" fill="#9f9f9f"/>
<circle cx="527.6" cy="492.2" r="1.5" fill="#9b9b9b"/>
<circle cx="552.9" cy="450.5" r="2.1" fill="#585858"/>
<circle cx="496.2" cy="443.5" r="1.9" fill="#6c6c6c"/>
<circle cx="498.5" cy="457.3" r="1.9" fill="#5a5a5a"/>
<circle cx="573.7" cy="498.2" r="1.2" fill="#666666"/>
<circle cx="487.9" cy="496.5" r="1.7" fill="#9b9b9b"/>
<circle cx="480.5" cy="426.7" r="1.6" fill="#a3a3a3"/>
<circle cx="547.4" cy="414.0" r="1.5" fill="#787878"/>
<circle cx="560.9" cy="482.4" r="2.0" fill="#9b9b9b"/>
<circle cx="537.1" cy="375.2" r="1.8" fill="#808080"/>
<circle cx="570.2" cy="402.8" r="1.5" fill="#656565"/>
<circle cx="518.1" cy="475.0" r="2.0" fill="#848484"/>
<circle cx="522.8" cy="383.8" r="1.6" fill="#929292"/>
<circle cx="570.8" cy="496.6" r="1.9" fill="#818181"/>
<circle cx="557.5" cy="454.0" r="1.6" fill="#7e7e7e"/>
<circle cx="532.4" cy="447.5" r="1.2" fill="#a5a5a5"/>
<circle cx="562.9" cy="440.4" r="1.6" fill="#717171"/>
<circle cx="525.4" cy="428.7" r="2.1" fill="#868686"/>
<circle cx="571.2" cy="489.0" r="1.9" fill="#767676"/>
<circle cx="549.6" cy="403.8" r="1.4" fill="#575757"/>
<circle cx="508.3" cy="498.8" r="1.7" fill="#797979"/>
<circle cx="541.7" cy="495.6" r="1.4" fill="#5a5a5a"/>
<circle cx="553.6" cy="476.9" r="1.0" fill="#999999"/>
<circle cx="531.9" cy="395.8" r="1.7" fill="#595959"/>
<circle cx="501.1" cy="399.2" r="1.2" fill="#797979"/>
<circle cx="505.7" cy="446.5" r="1.7" fill="#a7a7a7"/>
<circle cx="561.6" cy="484.4" r="2.3" fill="#575757"/>
<circle cx="551.5" cy="403.8" r="1.8" fill="#808080"/>
<circle cx="537.1" cy="463.6" r="1.0" fill="#818181"/>
<circle cx="512.4" cy="465.6" r="1.9" fill="#595959"/>
<circle cx="477.3" cy="438.9" r="2.0" fill="#626262"/>
<circle cx="564.0" cy="437.8" r="1.0" fill="#8b8b8b"/>
<circle cx="535.3" cy="457.8" r="2.4" fill="#a8a8a8"/>
<circle cx="524.2" cy="488.7" r="1.6" fill="#878787"/>
<circle cx="543.9" cy="462.0" r="2.3" fill="#909090"/>
<circle cx="558.3" cy="371.2" r="2.3" fill="#8c8c8c"/>
<circle cx="534.0" cy="452.1" r="1.7" fill="#7c7c7c"/>
<circle cx="491.0" cy="428.5" r="1.8" fill="#949494"/>
<circle cx="572.3" cy="436.8" r="1.6" fill="#9a9a9a"/>
<circle cx="556.6" cy="371.5" r="1.3" fill="#5f5f5f"/>
<circle cx="554.6" cy="454.2" r="1.0" fill="#8b8b8b"/>
<circle cx="572.9" cy="500.8" r="2.1" fill="#5b5b5b"/>
<circle cx="537.2" cy="476.6" r="1.2" fill="#666666"/>
<circle cx="574.4" cy="460.1" r="1.7" fill="#6c6c6c"/>
<circle cx="536.8" cy="419.5" r="1.2" fill="#a4a4a4"/>
<circle cx="497.9" cy="439.2" r="2.0" fill="#5e5e5e"/>
<circle cx="504.4" cy="441.4" r="1.2" fill="#888888"/>
<circle cx="563.1" cy="380.7" r="1.6" fill="#7d7d7d"/>
<circle cx="544.2" cy="430.0" r="1.5" fill="#a8a8a8"/>
<circle cx="545.3" cy="383.0" r="1.9" fill="#959595"/>
<circle cx="505.4" cy="492.9" r="1.8" fill="#717171"/>
<circle cx="502.8" cy="438.7" r="1.4" fill="#797979"/>
<circle cx="527.7" cy="380.6" r="1.4" fill="#848484"/>
<circle cx="521.4" cy="416.1" r="1.2" fill="#575757"/>
<circle cx="541.2" cy="373.8" r="2.0" fill="#606060"/>
<circle cx="561.6" cy="432.4" r="1.7" fill="#868686"/>
<circle cx="562.9" cy="428.8" r="1.5" fill="#989898"/>
<circle cx="479.9" cy="462.8" r="1.1" fill="#686868"/>
<circle cx="569.6" cy="421.7" r="2.2" fill="#636363"/>
<circle cx="485.2" cy="488.7" r="1.7" fill="#707070"/>
<circle cx="490.7" cy="448.8" r="1.5" fill="#737373"/>
<circle cx="505.4" cy="491.3" r="2.1" fill="#868686"/>
<circle cx="514.1" cy="462.5" r="1.5" fill="#7a7a7a"/>
<circle cx="555.8" cy="422.2" r="2.3" fill="#979797"/>
<circle cx="478.2" cy="500.6" r="1.9" fill="#3d3d3d"/>
<circle cx="490.1" cy="445.9" r="1.6" fill="#3e3e3e"/>
<circle cx="483.5" cy="469.9" r="3.4" fill="#484848"/>
<circle cx="477.0" cy="468.7" r="3.3" fill="#595959"/>
<circle cx="507.4" cy="459.7" r="2.4" fill="#3e3e3e"/>
<circle cx="482.1" cy="449.7" r="2.2" fill="#4a4a4a"/>
<circle cx="505.7" cy="468.6" r="2.6" fill="#393939"/>
<circle cx="486.2" cy="449.9" r="2.1" fill="#414141"/>
<circle cx="478.1" cy="494.7" r="2.2" fill="#494949"/>
<circle cx="487.4" cy="443.6" r="1.5" fill="#4f4f4f"/>
<circle cx="492.6" cy="497.7" r="1.7" fill="#464646"/>
<circle cx="486.6" cy="481.1" r="3.0" fill="#3c3c3c"/>
<circle cx="478.1" cy="483.6" r="2.6" fill="#373737"/>
<circle cx="497.4" cy="495.6" r="2.9" fill="#454545"/>
<circle cx="483.1" cy="462.0" r="1.6" fill="#4f4f4f"/>
<circle cx="482.4" cy="454.7" r="2.8" fill="#343434"/>
<circle cx="498.3" cy="466.3" r="3.5" fill="#323232"/>
<circle cx="492.2" cy="467.6" r="2.9" fill="#3c3c3c"/>
<circle cx="478.5" cy="473.5" r="3.5" fill="#535353"/>
<circle cx="495.7" cy="497.3" r="2.9" fill="#414141"/>
<circle cx="506.7" cy="470.0" r="3.4" fill="#353535"/>
<circle cx="499.5" cy="479.3" r="2.5" fill="#353535"/>
<circle cx="478.6" cy="490.8" r="2.4" fill="#5a5a5a"/>
<circle cx="478.7" cy="442.3" r="3.4" fill="#3d3d3d"/>
<circle cx="500.0" cy="479.1" r="1.9" fill="#404040"/>
<circle cx="479.8" cy="459.1" r="1.7" fill="#545454"/>
<circle cx="509.5" cy="449.9" r="1.7" fill="#3f3f3f"/>
<circle cx="497.6" cy="466.9" r="2.2" fill="#4d4d4d"/>
<circle cx="495.9" cy="463.0" r="2.8" fill="#323232"/>
<circle cx="507.1" cy="458.8" r="2.4" fill="#404040"/>
<circle cx="495.3" cy="448.5" r="2.5" fill="#424242"/>
<circle cx="504.0" cy="459.1" r="1.8" fill="#373737"/>
<circle cx="492.6" cy="482.5" r="3.1" fill="#565656"/>
<circle cx="499.0" cy="456.8" r="2.5" fill="#414141"/>
<circle cx="478.6" cy="452.2" r="2.1" fill="#494949"/>
<circle cx="506.2" cy="444.4" r="3.0" fill="#4a4a4a"/>
<circle cx="501.8" cy="473.9" r="3.3" fill="#3a3a3a"/>
<circle cx="496.0" cy="467.0" r="3.1" fill="#333333"/>
<circle cx="501.0" cy="482.8" r="2.0" fill="#4a4a4a"/>
<circle cx="495.5" cy="459.6" r="2.1" fill="#3a3a3a"/>
<circle cx="485.7" cy="481.2" r="2.1" fill="#363636"/>
<circle cx="494.9" cy="485.1" r="1.6" fill="#393939"/>
<circle cx="478.7" cy="447.9" r="2.2" fill="#424242"/>
<circle cx="508.3" cy="477.3" r="2.0" fill="#4d4d4d"/>
<circle cx="481.1" cy="452.3" r="2.2" fill="#3c3c3c"/>
<circle cx="496.3" cy="490.4" r="3.0" fill="#383838"/>
<circle cx="485.8" cy="477.0" r="2.8" fill="#3b3b3b"/>
<circle cx="491.7" cy="497.3" r="3.1" fill="#393939"/>
<circle cx="488.0" cy="467.2" r="2.0" fill="#585858"/>
<circle cx="491.3" cy="466.9" r="3.0" fill="#3c3c3c"/>
<circle cx="494.6" cy="499.1" r="2.7" fill="#383838"/>
<circle cx="481.2" cy="491.9" r="2.9" fill="#3f3f3f"/>
<circle cx="509.3" cy="442.0" r="2.7" fill="#505050"/>
<circle cx="500.3" cy="461.6" r="2.4" fill="#3e3e3e"/>
<circle cx="486.1" cy="452.3" r="2.6" fill="#484848"/>
<circle cx="502.2" cy="487.9" r="2.2" fill="#414141"/>
<circle cx="503.9" cy="480.5" r="3.3" fill="#353535"/>
<circle cx="497.4" cy="464.5" r="1.8" fill="#414141"/>
<circle cx="493.2" cy="442.3" r="1.8" fill="#383838"/>
<circle cx="501.9" cy="457.2" r="3.3" fill="#464646"/>
<g filter="url(#soft2)">
<ellipse cx="516" cy="394" rx="10" ry="8" fill="#a0a0a0" opacity="0.75"/>
<ellipse cx="546" cy="416" rx="7" ry="5" fill="#a4a4a4" opacity="0.8"/>
<ellipse cx="530" cy="374" rx="6" ry="5" fill="#9c9c9c" opacity="0.5"/>
</g>
<path d="M557,361 L662,361 L662,502 L565,502 L570,485 L572,422 L560,418 L554,400 L556,386 Z" fill="#2c2c2c" stroke="none" stroke-width="1" />
<circle cx="527" cy="412" r="4.5" fill="#2a2a2a"/>
<circle cx="534" cy="410" r="4" fill="#2a2a2a"/>
<circle cx="540" cy="414" r="4.5" fill="#2a2a2a"/>
<circle cx="531" cy="418" r="3.5" fill="#2a2a2a"/>
<circle cx="546" cy="418" r="3.5" fill="#2a2a2a"/>
<defs><filter id="soft07" x="-0.1" y="-0.1" width="1.2" height="1.2"><feGaussianBlur stdDeviation="0.8"/></filter></defs>
<g filter="url(#soft07)">
<circle cx="605.0" cy="427.3" r="5.4" fill="#101010"/>
<circle cx="641.6" cy="364.1" r="5.9" fill="#323232"/>
<circle cx="612.5" cy="458.4" r="5.1" fill="#1f1f1f"/>
<circle cx="640.1" cy="412.2" r="5.6" fill="#1e1e1e"/>
<circle cx="647.1" cy="493.7" r="4.9" fill="#0e0e0e"/>
<circle cx="635.1" cy="455.5" r="6.8" fill="#212121"/>
<circle cx="605.7" cy="374.0" r="3.9" fill="#181818"/>
<circle cx="626.2" cy="414.3" r="6.1" fill="#303030"/>
<circle cx="588.3" cy="479.9" r="6.6" fill="#111111"/>
<circle cx="586.3" cy="398.7" r="5.7" fill="#101010"/>
<circle cx="577.5" cy="369.8" r="5.5" fill="#1f1f1f"/>
<circle cx="599.4" cy="435.6" r="6.7" fill="#161616"/>
<circle cx="573.4" cy="365.3" r="3.9" fill="#1f1f1f"/>
<circle cx="600.3" cy="407.0" r="3.9" fill="#101010"/>
<circle cx="644.0" cy="496.0" r="4.6" fill="#2d2d2d"/>
<circle cx="644.6" cy="361.2" r="5.9" fill="#181818"/>
<circle cx="620.1" cy="375.8" r="6.2" fill="#181818"/>
<circle cx="592.8" cy="475.8" r="4.2" fill="#181818"/>
<circle cx="579.8" cy="493.7" r="5.1" fill="#111111"/>
<circle cx="627.5" cy="430.9" r="6.9" fill="#101010"/>
<circle cx="641.2" cy="501.9" r="6.1" fill="#1a1a1a"/>
<circle cx="651.7" cy="451.6" r="6.2" fill="#2f2f2f"/>
<circle cx="589.7" cy="480.6" r="5.3" fill="#1b1b1b"/>
<circle cx="625.6" cy="371.3" r="4.4" fill="#1f1f1f"/>
<circle cx="612.0" cy="415.5" r="6.8" fill="#101010"/>
<circle cx="554.8" cy="396.4" r="5.1" fill="#1e1e1e"/>
<circle cx="574.1" cy="474.3" r="3.5" fill="#393939"/>
<circle cx="608.4" cy="368.5" r="4.9" fill="#1e1e1e"/>
<circle cx="576.5" cy="420.5" r="6.0" fill="#0e0e0e"/>
<circle cx="569.2" cy="471.1" r="5.0" fill="#323232"/>
<circle cx="573.8" cy="380.6" r="4.8" fill="#2b2b2b"/>
<circle cx="597.6" cy="382.1" r="5.8" fill="#181818"/>
<circle cx="604.0" cy="371.9" r="4.8" fill="#2b2b2b"/>
<circle cx="589.4" cy="391.3" r="4.5" fill="#1f1f1f"/>
<circle cx="623.1" cy="413.9" r="4.8" fill="#1f1f1f"/>
<circle cx="658.2" cy="380.8" r="3.6" fill="#2d2d2d"/>
<circle cx="625.5" cy="368.9" r="3.6" fill="#1b1b1b"/>
<circle cx="639.4" cy="368.9" r="5.3" fill="#191919"/>
<circle cx="600.9" cy="375.5" r="3.9" fill="#2e2e2e"/>
<circle cx="660.7" cy="403.5" r="4.1" fill="#222222"/>
<circle cx="610.6" cy="415.8" r="6.7" fill="#1f1f1f"/>
<circle cx="602.7" cy="369.9" r="3.5" fill="#202020"/>
<circle cx="568.7" cy="497.4" r="4.4" fill="#121212"/>
<circle cx="580.4" cy="364.5" r="4.4" fill="#151515"/>
<circle cx="617.5" cy="484.4" r="6.7" fill="#131313"/>
<circle cx="651.3" cy="411.1" r="3.9" fill="#1c1c1c"/>
<circle cx="555.8" cy="419.0" r="4.9" fill="#212121"/>
<circle cx="611.5" cy="459.2" r="6.0" fill="#282828"/>
<circle cx="586.1" cy="435.0" r="5.4" fill="#292929"/>
<circle cx="635.2" cy="397.5" r="4.5" fill="#3b3b3b"/>
<circle cx="603.7" cy="382.9" r="4.3" fill="#2c2c2c"/>
<circle cx="562.6" cy="410.7" r="3.8" fill="#363636"/>
<circle cx="572.1" cy="380.6" r="5.2" fill="#1e1e1e"/>
<circle cx="568.8" cy="398.8" r="5.2" fill="#141414"/>
<circle cx="598.7" cy="471.6" r="6.4" fill="#111111"/>
<circle cx="599.4" cy="480.3" r="5.3" fill="#1d1d1d"/>
<circle cx="628.2" cy="376.6" r="3.8" fill="#222222"/>
<circle cx="637.6" cy="437.6" r="4.1" fill="#111111"/>
<circle cx="649.2" cy="405.0" r="4.5" fill="#181818"/>
<circle cx="585.9" cy="386.4" r="6.8" fill="#343434"/>
<circle cx="560.8" cy="420.5" r="5.4" fill="#1e1e1e"/>
<circle cx="656.1" cy="426.7" r="3.9" fill="#151515"/>
<circle cx="600.7" cy="399.4" r="5.4" fill="#0f0f0f"/>
<circle cx="594.6" cy="450.4" r="6.7" fill="#101010"/>
<circle cx="601.3" cy="490.4" r="5.5" fill="#171717"/>
<circle cx="602.8" cy="418.0" r="6.0" fill="#2c2c2c"/>
<circle cx="628.8" cy="463.8" r="3.9" fill="#151515"/>
<circle cx="631.4" cy="397.2" r="5.1" fill="#111111"/>
<circle cx="621.4" cy="459.4" r="5.4" fill="#141414"/>
<circle cx="616.0" cy="428.9" r="6.4" fill="#171717"/>
<circle cx="559.3" cy="401.7" r="5.3" fill="#191919"/>
<circle cx="624.4" cy="467.7" r="6.0" fill="#2f2f2f"/>
<circle cx="625.1" cy="420.3" r="6.4" fill="#1e1e1e"/>
<circle cx="630.6" cy="447.6" r="6.3" fill="#131313"/>
<circle cx="611.8" cy="429.1" r="5.1" fill="#191919"/>
<circle cx="605.2" cy="377.8" r="4.2" fill="#3b3b3b"/>
<circle cx="624.0" cy="415.3" r="5.8" fill="#222222"/>
<circle cx="624.6" cy="443.0" r="6.1" fill="#1b1b1b"/>
<circle cx="577.3" cy="374.2" r="5.5" fill="#1f1f1f"/>
<circle cx="569.1" cy="369.0" r="3.6" fill="#343434"/>
<circle cx="651.0" cy="427.2" r="4.5" fill="#393939"/>
<circle cx="644.0" cy="447.6" r="6.0" fill="#3a3a3a"/>
<circle cx="660.9" cy="389.4" r="3.7" fill="#111111"/>
<circle cx="649.7" cy="385.3" r="4.9" fill="#1b1b1b"/>
<circle cx="632.4" cy="415.8" r="4.1" fill="#1a1a1a"/>
<circle cx="596.9" cy="424.6" r="4.9" fill="#161616"/>
<circle cx="628.6" cy="482.3" r="5.9" fill="#333333"/>
<circle cx="632.9" cy="389.6" r="5.5" fill="#1f1f1f"/>
<circle cx="622.0" cy="460.9" r="5.0" fill="#121212"/>
<circle cx="612.3" cy="460.5" r="6.8" fill="#0e0e0e"/>
<circle cx="606.2" cy="412.8" r="7.0" fill="#2e2e2e"/>
<circle cx="649.6" cy="407.4" r="6.9" fill="#333333"/>
<circle cx="659.6" cy="363.3" r="5.2" fill="#373737"/>
<circle cx="576.9" cy="454.8" r="5.6" fill="#101010"/>
<circle cx="588.0" cy="481.8" r="6.2" fill="#171717"/>
<circle cx="636.3" cy="483.8" r="5.9" fill="#363636"/>
<circle cx="576.6" cy="403.8" r="5.0" fill="#1c1c1c"/>
<circle cx="649.0" cy="478.2" r="5.6" fill="#101010"/>
<circle cx="570.4" cy="449.3" r="5.0" fill="#181818"/>
<circle cx="603.3" cy="374.9" r="6.5" fill="#181818"/>
<circle cx="617.8" cy="486.4" r="4.6" fill="#1c1c1c"/>
<circle cx="645.2" cy="441.3" r="5.1" fill="#141414"/>
<circle cx="567.4" cy="422.9" r="6.6" fill="#171717"/>
<circle cx="572.1" cy="423.9" r="6.1" fill="#0f0f0f"/>
<circle cx="584.0" cy="453.6" r="3.6" fill="#131313"/>
<circle cx="610.6" cy="501.5" r="5.5" fill="#1a1a1a"/>
<circle cx="572.3" cy="427.9" r="4.6" fill="#111111"/>
<circle cx="593.4" cy="471.5" r="6.8" fill="#1a1a1a"/>
<circle cx="567.2" cy="466.4" r="6.0" fill="#191919"/>
<circle cx="660.2" cy="362.3" r="5.9" fill="#161616"/>
<circle cx="600.7" cy="447.5" r="5.1" fill="#1a1a1a"/>
<circle cx="624.8" cy="395.4" r="5.2" fill="#0e0e0e"/>
<circle cx="563.8" cy="408.5" r="4.7" fill="#0e0e0e"/>
<circle cx="582.8" cy="435.2" r="3.7" fill="#181818"/>
<circle cx="602.7" cy="365.6" r="3.9" fill="#111111"/>
<circle cx="651.0" cy="450.4" r="6.2" fill="#2e2e2e"/>
<circle cx="571.4" cy="399.1" r="3.7" fill="#1d1d1d"/>
<circle cx="604.2" cy="393.7" r="3.7" fill="#1f1f1f"/>
<circle cx="583.8" cy="366.1" r="4.4" fill="#121212"/>
<circle cx="587.9" cy="395.0" r="5.7" fill="#303030"/>
<circle cx="591.5" cy="398.8" r="4.3" fill="#202020"/>
<circle cx="617.5" cy="389.0" r="6.7" fill="#171717"/>
<circle cx="575.4" cy="454.7" r="5.5" fill="#171717"/>
<circle cx="619.0" cy="447.7" r="6.4" fill="#151515"/>
<circle cx="628.3" cy="372.1" r="4.2" fill="#222222"/>
<circle cx="614.9" cy="494.2" r="7.0" fill="#171717"/>
<circle cx="619.0" cy="453.4" r="4.6" fill="#212121"/>
<circle cx="567.6" cy="423.9" r="5.5" fill="#262626"/>
<circle cx="572.7" cy="438.0" r="4.2" fill="#131313"/>
<circle cx="622.7" cy="404.9" r="3.9" fill="#212121"/>
<circle cx="640.9" cy="414.4" r="6.3" fill="#1d1d1d"/>
<circle cx="597.3" cy="486.7" r="7.0" fill="#1f1f1f"/>
<circle cx="574.9" cy="469.8" r="4.4" fill="#131313"/>
<circle cx="653.9" cy="460.8" r="6.0" fill="#151515"/>
<circle cx="583.9" cy="499.3" r="5.0" fill="#343434"/>
<circle cx="655.4" cy="423.5" r="5.5" fill="#151515"/>
<circle cx="566.4" cy="423.9" r="5.1" fill="#262626"/>
<circle cx="629.1" cy="456.8" r="4.0" fill="#333333"/>
<circle cx="652.6" cy="494.4" r="6.1" fill="#1f1f1f"/>
<circle cx="630.8" cy="497.8" r="5.2" fill="#181818"/>
<circle cx="612.8" cy="396.7" r="6.9" fill="#151515"/>
<circle cx="615.0" cy="487.4" r="5.2" fill="#161616"/>
<circle cx="600.6" cy="405.4" r="6.3" fill="#171717"/>
<circle cx="636.4" cy="501.0" r="3.9" fill="#161616"/>
<circle cx="557.7" cy="455.1" r="3.9" fill="#1f1f1f"/>
<circle cx="588.5" cy="387.0" r="5.0" fill="#222222"/>
<circle cx="581.3" cy="500.4" r="6.0" fill="#0e0e0e"/>
<circle cx="614.1" cy="380.6" r="6.0" fill="#191919"/>
<circle cx="583.3" cy="422.6" r="6.9" fill="#2f2f2f"/>
<circle cx="661.1" cy="376.5" r="5.5" fill="#1e1e1e"/>
<circle cx="626.4" cy="455.8" r="5.3" fill="#191919"/>
<circle cx="657.7" cy="427.0" r="5.5" fill="#1d1d1d"/>
<circle cx="645.9" cy="429.1" r="3.7" fill="#202020"/>
<circle cx="660.6" cy="422.0" r="5.9" fill="#0f0f0f"/>
<circle cx="599.4" cy="479.0" r="5.6" fill="#141414"/>
<circle cx="637.5" cy="421.5" r="4.3" fill="#2a2a2a"/>
<circle cx="656.3" cy="483.0" r="5.2" fill="#101010"/>
<circle cx="625.8" cy="411.8" r="5.6" fill="#1e1e1e"/>
<circle cx="652.0" cy="457.0" r="3.6" fill="#191919"/>
<circle cx="594.5" cy="418.9" r="5.6" fill="#1b1b1b"/>
<circle cx="635.0" cy="492.5" r="3.6" fill="#333333"/>
<circle cx="626.2" cy="377.0" r="7.0" fill="#191919"/>
<circle cx="594.2" cy="405.4" r="4.3" fill="#181818"/>
<circle cx="606.7" cy="385.0" r="6.6" fill="#0f0f0f"/>
<circle cx="622.7" cy="411.6" r="4.5" fill="#303030"/>
<circle cx="636.3" cy="384.4" r="4.2" fill="#1a1a1a"/>
<circle cx="639.1" cy="461.4" r="4.2" fill="#1e1e1e"/>
<circle cx="629.2" cy="469.6" r="6.5" fill="#1f1f1f"/>
<circle cx="629.4" cy="391.9" r="7.0" fill="#222222"/>
<circle cx="629.1" cy="389.7" r="4.9" fill="#212121"/>
<circle cx="661.6" cy="417.0" r="5.1" fill="#181818"/>
<circle cx="624.7" cy="427.4" r="5.5" fill="#222222"/>
<circle cx="623.5" cy="376.0" r="4.8" fill="#272727"/>
<circle cx="618.6" cy="406.3" r="5.8" fill="#111111"/>
<circle cx="617.1" cy="442.2" r="3.9" fill="#101010"/>
<circle cx="621.2" cy="444.8" r="4.3" fill="#2a2a2a"/>
<circle cx="635.8" cy="391.4" r="5.8" fill="#161616"/>
<circle cx="617.1" cy="499.8" r="4.3" fill="#202020"/>
<circle cx="593.1" cy="452.8" r="6.5" fill="#3a3a3a"/>
<circle cx="621.7" cy="379.9" r="3.6" fill="#313131"/>
<circle cx="624.5" cy="430.1" r="6.4" fill="#3b3b3b"/>
<circle cx="566.1" cy="462.8" r="6.8" fill="#141414"/>
<circle cx="588.8" cy="454.7" r="5.7" fill="#101010"/>
<circle cx="566.6" cy="457.4" r="3.7" fill="#2c2c2c"/>
<circle cx="600.6" cy="478.9" r="4.8" fill="#212121"/>
<circle cx="651.6" cy="485.5" r="5.9" fill="#383838"/>
<circle cx="577.0" cy="447.0" r="6.8" fill="#212121"/>
<circle cx="601.1" cy="388.6" r="6.4" fill="#353535"/>
<circle cx="587.6" cy="443.0" r="5.3" fill="#222222"/>
<circle cx="642.7" cy="374.6" r="3.9" fill="#393939"/>
<circle cx="646.3" cy="459.9" r="4.8" fill="#0f0f0f"/>
<circle cx="604.3" cy="399.2" r="4.8" fill="#1c1c1c"/>
<circle cx="660.5" cy="498.9" r="4.1" fill="#323232"/>
<circle cx="554.7" cy="484.7" r="5.2" fill="#373737"/>
<circle cx="654.8" cy="383.0" r="4.8" fill="#161616"/>
<circle cx="628.3" cy="398.0" r="4.2" fill="#2b2b2b"/>
<circle cx="632.0" cy="430.1" r="6.3" fill="#1e1e1e"/>
<circle cx="661.5" cy="473.8" r="6.9" fill="#101010"/>
<circle cx="580.8" cy="469.9" r="4.4" fill="#2d2d2d"/>
<circle cx="572.2" cy="383.8" r="6.4" fill="#3c3c3c"/>
<circle cx="656.0" cy="367.4" r="4.7" fill="#151515"/>
<circle cx="630.6" cy="464.4" r="5.5" fill="#212121"/>
<circle cx="639.1" cy="425.9" r="5.2" fill="#2f2f2f"/>
<circle cx="642.9" cy="391.0" r="5.0" fill="#101010"/>
<circle cx="599.7" cy="413.0" r="7.0" fill="#161616"/>
<circle cx="568.7" cy="466.0" r="4.2" fill="#191919"/>
<circle cx="653.2" cy="439.5" r="5.6" fill="#3a3a3a"/>
<circle cx="565.9" cy="401.1" r="7.0" fill="#1c1c1c"/>
<circle cx="567.1" cy="498.2" r="4.8" fill="#2e2e2e"/>
<circle cx="570.7" cy="410.6" r="6.4" fill="#121212"/>
<circle cx="561.7" cy="407.9" r="5.8" fill="#393939"/>
<circle cx="565.4" cy="485.4" r="4.5" fill="#1f1f1f"/>
<circle cx="589.2" cy="383.1" r="6.7" fill="#1f1f1f"/>
<circle cx="604.4" cy="418.4" r="5.7" fill="#1f1f1f"/>
<circle cx="579.5" cy="395.8" r="6.7" fill="#333333"/>
<circle cx="622.6" cy="462.0" r="6.9" fill="#1e1e1e"/>
<circle cx="633.5" cy="413.3" r="4.2" fill="#171717"/>
<circle cx="567.4" cy="423.3" r="6.0" fill="#101010"/>
<circle cx="559.9" cy="459.8" r="6.2" fill="#222222"/>
<circle cx="607.4" cy="371.5" r="4.0" fill="#161616"/>
<circle cx="561.9" cy="397.7" r="6.5" fill="#333333"/>
<circle cx="579.8" cy="362.1" r="7.0" fill="#121212"/>
<circle cx="601.9" cy="438.7" r="4.3" fill="#393939"/>
<circle cx="580.1" cy="473.4" r="4.9" fill="#191919"/>
<circle cx="653.2" cy="389.3" r="5.4" fill="#373737"/>
<circle cx="612.6" cy="401.2" r="5.4" fill="#191919"/>
<circle cx="573.7" cy="368.2" r="4.0" fill="#1a1a1a"/>
<circle cx="588.9" cy="378.7" r="6.6" fill="#303030"/>
<circle cx="645.8" cy="395.4" r="4.6" fill="#2c2c2c"/>
<circle cx="626.6" cy="475.3" r="6.0" fill="#1e1e1e"/>
<circle cx="626.0" cy="399.8" r="6.2" fill="#181818"/>
<circle cx="629.6" cy="467.1" r="4.7" fill="#121212"/>
<circle cx="571.5" cy="494.1" r="6.6" fill="#101010"/>
<circle cx="600.5" cy="436.7" r="4.5" fill="#202020"/>
<circle cx="641.3" cy="400.2" r="6.6" fill="#1a1a1a"/>
<circle cx="634.6" cy="467.0" r="4.0" fill="#161616"/>
<circle cx="645.8" cy="493.2" r="6.8" fill="#131313"/>
<circle cx="655.8" cy="486.1" r="7.0" fill="#202020"/>
<circle cx="579.4" cy="451.6" r="5.6" fill="#1d1d1d"/>
<circle cx="577.0" cy="491.6" r="6.8" fill="#212121"/>
<circle cx="650.8" cy="436.8" r="5.0" fill="#222222"/>
<circle cx="606.6" cy="425.3" r="5.7" fill="#212121"/>
<circle cx="638.3" cy="463.3" r="6.0" fill="#141414"/>
<circle cx="570.1" cy="466.8" r="4.2" fill="#181818"/>
<circle cx="591.2" cy="378.2" r="4.1" fill="#191919"/>
<circle cx="598.5" cy="395.4" r="5.7" fill="#262626"/>
<circle cx="582.0" cy="418.3" r="3.8" fill="#121212"/>
<circle cx="628.2" cy="483.5" r="5.7" fill="#333333"/>
<circle cx="569.6" cy="476.4" r="5.7" fill="#161616"/>
<circle cx="613.9" cy="443.5" r="3.7" fill="#1f1f1f"/>
<circle cx="565.7" cy="438.1" r="4.7" fill="#1d1d1d"/>
<circle cx="600.4" cy="394.5" r="4.1" fill="#181818"/>
<circle cx="659.1" cy="368.8" r="6.6" fill="#262626"/>
<circle cx="621.1" cy="409.3" r="5.7" fill="#0e0e0e"/>
<circle cx="630.5" cy="480.1" r="4.1" fill="#212121"/>
<circle cx="565.9" cy="395.8" r="6.5" fill="#131313"/>
<circle cx="608.8" cy="397.1" r="5.1" fill="#1b1b1b"/>
<circle cx="608.4" cy="475.3" r="5.3" fill="#161616"/>
<circle cx="605.8" cy="365.5" r="4.8" fill="#313131"/>
<circle cx="617.9" cy="490.9" r="6.9" fill="#3b3b3b"/>
<circle cx="613.6" cy="402.6" r="6.6" fill="#141414"/>
<circle cx="557.8" cy="400.3" r="5.7" fill="#111111"/>
<circle cx="565.2" cy="471.4" r="5.0" fill="#141414"/>
<circle cx="603.9" cy="417.5" r="5.9" fill="#191919"/>
<circle cx="613.2" cy="364.8" r="5.9" fill="#1a1a1a"/>
<circle cx="645.5" cy="441.6" r="6.8" fill="#1d1d1d"/>
<circle cx="628.6" cy="407.9" r="6.0" fill="#373737"/>
<circle cx="571.0" cy="490.5" r="5.3" fill="#363636"/>
<circle cx="608.2" cy="410.3" r="6.3" fill="#0f0f0f"/>
<circle cx="604.2" cy="372.3" r="5.0" fill="#202020"/>
<circle cx="616.4" cy="491.0" r="4.2" fill="#212121"/>
<circle cx="603.0" cy="467.8" r="4.3" fill="#222222"/>
<circle cx="631.8" cy="417.4" r="4.2" fill="#1b1b1b"/>
<circle cx="587.5" cy="465.8" r="5.9" fill="#202020"/>
<circle cx="565.1" cy="437.8" r="5.6" fill="#111111"/>
<circle cx="620.9" cy="372.6" r="6.2" fill="#111111"/>
<circle cx="661.1" cy="483.0" r="6.8" fill="#3c3c3c"/>
<circle cx="564.8" cy="379.9" r="4.5" fill="#1f1f1f"/>
<circle cx="654.8" cy="441.4" r="3.8" fill="#161616"/>
<circle cx="583.6" cy="417.0" r="3.7" fill="#282828"/>
<circle cx="629.3" cy="498.9" r="3.6" fill="#1a1a1a"/>
<circle cx="644.5" cy="366.5" r="6.6" fill="#363636"/>
<circle cx="561.6" cy="388.5" r="4.8" fill="#111111"/>
<circle cx="560.5" cy="409.1" r="4.8" fill="#0f0f0f"/>
<circle cx="650.6" cy="379.7" r="3.8" fill="#171717"/>
<circle cx="649.1" cy="463.5" r="5.4" fill="#212121"/>
<circle cx="568.4" cy="462.1" r="3.7" fill="#2c2c2c"/>
<circle cx="628.6" cy="386.7" r="6.9" fill="#323232"/>
<circle cx="629.3" cy="408.9" r="5.7" fill="#131313"/>
<circle cx="650.2" cy="460.7" r="5.4" fill="#101010"/>
<circle cx="612.0" cy="393.2" r="3.9" fill="#0f0f0f"/>
<circle cx="596.5" cy="479.6" r="6.1" fill="#1b1b1b"/>
<circle cx="559.4" cy="457.2" r="6.7" fill="#0f0f0f"/>
<circle cx="607.8" cy="459.9" r="5.9" fill="#151515"/>
<circle cx="576.2" cy="480.2" r="5.7" fill="#1d1d1d"/>
<circle cx="659.9" cy="436.7" r="5.0" fill="#151515"/>
<circle cx="566.6" cy="383.9" r="5.5" fill="#313131"/>
<circle cx="589.0" cy="412.9" r="6.7" fill="#161616"/>
<circle cx="584.5" cy="485.4" r="6.3" fill="#131313"/>
<circle cx="651.8" cy="457.0" r="6.3" fill="#2a2a2a"/>
<circle cx="577.4" cy="386.9" r="6.1" fill="#1e1e1e"/>
<circle cx="644.5" cy="367.9" r="3.9" fill="#121212"/>
<circle cx="578.3" cy="405.4" r="4.0" fill="#121212"/>
<circle cx="580.7" cy="461.9" r="4.2" fill="#161616"/>
<circle cx="656.9" cy="425.4" r="4.4" fill="#222222"/>
<circle cx="648.7" cy="494.2" r="5.8" fill="#1f1f1f"/>
<circle cx="613.9" cy="366.9" r="6.7" fill="#2f2f2f"/>
<circle cx="617.0" cy="483.0" r="5.5" fill="#1a1a1a"/>
<circle cx="612.8" cy="393.4" r="5.1" fill="#1d1d1d"/>
<circle cx="617.1" cy="366.7" r="5.9" fill="#202020"/>
<circle cx="603.8" cy="450.5" r="6.4" fill="#101010"/>
</g>
<circle cx="527" cy="412" r="4.5" fill="#2a2a2a"/>
<circle cx="534" cy="410" r="4" fill="#2a2a2a"/>
<circle cx="540" cy="414" r="4.5" fill="#2a2a2a"/>
<circle cx="531" cy="418" r="3.5" fill="#2a2a2a"/>
<circle cx="546" cy="418" r="3.5" fill="#2a2a2a"/>
<circle cx="652.8" cy="401.7" r="2.8" fill="#262626"/>
<circle cx="573.6" cy="463.9" r="5.3" fill="#383838"/>
<circle cx="661.4" cy="439.2" r="3.5" fill="#0e0e0e"/>
<circle cx="608.0" cy="379.6" r="4.3" fill="#161616"/>
<circle cx="654.8" cy="442.6" r="4.2" fill="#242424"/>
<circle cx="643.0" cy="405.4" r="4.4" fill="#222222"/>
<circle cx="614.7" cy="420.2" r="4.9" fill="#101010"/>
<circle cx="597.3" cy="493.3" r="3.0" fill="#0d0d0d"/>
<circle cx="628.7" cy="376.5" r="3.5" fill="#444444"/>
<circle cx="638.6" cy="438.9" r="4.1" fill="#141414"/>
<circle cx="642.9" cy="486.9" r="3.9" fill="#2d2d2d"/>
<circle cx="572.2" cy="444.1" r="2.8" fill="#0c0c0c"/>
<circle cx="569.3" cy="391.8" r="3.1" fill="#0f0f0f"/>
<circle cx="575.6" cy="485.4" r="2.8" fill="#212121"/>
<circle cx="573.3" cy="497.4" r="4.0" fill="#444444"/>
<circle cx="556.5" cy="463.3" r="3.7" fill="#0d0d0d"/>
<circle cx="632.4" cy="488.2" r="5.1" fill="#0f0f0f"/>
<circle cx="654.2" cy="436.4" r="3.7" fill="#0d0d0d"/>
<circle cx="644.0" cy="397.2" r="3.9" fill="#3c3c3c"/>
<circle cx="618.0" cy="499.0" r="3.9" fill="#353535"/>
<circle cx="653.6" cy="362.6" r="4.3" fill="#171717"/>
<circle cx="572.0" cy="410.4" r="3.4" fill="#1c1c1c"/>
<circle cx="555.4" cy="398.2" r="4.1" fill="#111111"/>
<circle cx="587.3" cy="490.1" r="3.7" fill="#0e0e0e"/>
<circle cx="599.8" cy="482.7" r="3.6" fill="#151515"/>
<circle cx="604.8" cy="381.1" r="4.0" fill="#121212"/>
<circle cx="633.6" cy="384.4" r="4.4" fill="#171717"/>
<circle cx="634.8" cy="372.6" r="5.0" fill="#202020"/>
<circle cx="647.7" cy="464.2" r="4.4" fill="#212121"/>
<circle cx="565.4" cy="372.5" r="3.0" fill="#131313"/>
<circle cx="653.5" cy="432.2" r="4.8" fill="#333333"/>
<circle cx="579.8" cy="471.6" r="4.8" fill="#343434"/>
<circle cx="557.6" cy="482.8" r="4.5" fill="#1f1f1f"/>
<circle cx="649.9" cy="441.4" r="3.8" fill="#404040"/>
<circle cx="569.7" cy="482.4" r="3.3" fill="#222222"/>
<circle cx="572.1" cy="475.2" r="3.3" fill="#3d3d3d"/>
<circle cx="564.0" cy="471.3" r="2.7" fill="#1e1e1e"/>
<circle cx="620.9" cy="402.9" r="2.8" fill="#141414"/>
<circle cx="641.7" cy="385.2" r="4.4" fill="#1e1e1e"/>
<circle cx="628.3" cy="367.2" r="3.9" fill="#454545"/>
<circle cx="559.9" cy="391.4" r="5.4" fill="#373737"/>
<circle cx="647.2" cy="374.7" r="5.5" fill="#3f3f3f"/>
<circle cx="640.6" cy="446.6" r="2.6" fill="#101010"/>
<circle cx="612.5" cy="486.8" r="2.5" fill="#424242"/>
<circle cx="661.8" cy="399.9" r="5.0" fill="#181818"/>
<circle cx="634.6" cy="415.7" r="2.6" fill="#121212"/>
<circle cx="589.2" cy="423.3" r="3.1" fill="#191919"/>
<circle cx="611.9" cy="496.3" r="5.0" fill="#1f1f1f"/>
<circle cx="577.0" cy="433.9" r="3.7" fill="#0f0f0f"/>
<circle cx="641.8" cy="449.4" r="3.2" fill="#333333"/>
<circle cx="608.6" cy="479.1" r="4.0" fill="#404040"/>
<circle cx="612.4" cy="442.2" r="4.0" fill="#171717"/>
<circle cx="647.2" cy="433.5" r="4.5" fill="#191919"/>
<circle cx="567.4" cy="436.0" r="3.4" fill="#242424"/>
<circle cx="593.8" cy="451.0" r="3.1" fill="#252525"/>
<circle cx="569.1" cy="499.7" r="3.1" fill="#0c0c0c"/>
<circle cx="566.3" cy="390.0" r="4.1" fill="#212121"/>
<circle cx="592.0" cy="438.0" r="4.7" fill="#0c0c0c"/>
<circle cx="598.1" cy="415.0" r="2.6" fill="#202020"/>
<circle cx="638.8" cy="385.9" r="3.5" fill="#191919"/>
<circle cx="605.7" cy="497.7" r="3.6" fill="#232323"/>
<circle cx="581.1" cy="451.1" r="5.0" fill="#131313"/>
<circle cx="606.4" cy="440.2" r="3.3" fill="#202020"/>
<circle cx="632.1" cy="365.4" r="3.8" fill="#171717"/>
<circle cx="634.3" cy="419.4" r="3.2" fill="#1d1d1d"/>
<circle cx="578.2" cy="380.8" r="2.9" fill="#404040"/>
<circle cx="575.7" cy="372.5" r="3.5" fill="#1a1a1a"/>
<circle cx="581.4" cy="477.1" r="3.3" fill="#262626"/>
<circle cx="590.2" cy="429.2" r="3.2" fill="#0d0d0d"/>
<circle cx="622.2" cy="396.6" r="4.0" fill="#262626"/>
<circle cx="618.6" cy="479.1" r="4.5" fill="#444444"/>
<circle cx="619.9" cy="437.6" r="4.1" fill="#1c1c1c"/>
<circle cx="588.4" cy="385.5" r="3.1" fill="#131313"/>
<circle cx="604.6" cy="377.9" r="3.0" fill="#232323"/>
<circle cx="576.0" cy="470.9" r="3.3" fill="#252525"/>
<circle cx="572.5" cy="414.5" r="3.1" fill="#454545"/>
<circle cx="610.2" cy="362.6" r="5.4" fill="#0c0c0c"/>
<circle cx="578.4" cy="451.7" r="3.7" fill="#3c3c3c"/>
<circle cx="559.3" cy="401.3" r="2.9" fill="#1b1b1b"/>
<circle cx="598.0" cy="459.3" r="2.6" fill="#444444"/>
<circle cx="628.1" cy="485.5" r="4.7" fill="#1a1a1a"/>
<circle cx="658.7" cy="420.9" r="3.0" fill="#151515"/>
<circle cx="572.2" cy="376.0" r="4.8" fill="#383838"/>
<circle cx="600.9" cy="385.9" r="5.2" fill="#0f0f0f"/>
<circle cx="629.3" cy="468.6" r="4.9" fill="#111111"/>
<circle cx="637.8" cy="380.7" r="5.0" fill="#434343"/>
<circle cx="639.1" cy="371.2" r="2.7" fill="#333333"/>
<circle cx="565.9" cy="489.9" r="4.3" fill="#343434"/>
<circle cx="560.1" cy="443.3" r="4.4" fill="#2e2e2e"/>
<circle cx="660.3" cy="459.7" r="3.8" fill="#303030"/>
<circle cx="595.8" cy="404.9" r="4.2" fill="#404040"/>
<circle cx="607.6" cy="484.7" r="4.9" fill="#151515"/>
<circle cx="593.5" cy="434.5" r="3.3" fill="#363636"/>
<circle cx="628.7" cy="379.1" r="3.2" fill="#191919"/>
<circle cx="563.7" cy="389.0" r="3.7" fill="#303030"/>
<circle cx="639.3" cy="478.8" r="5.2" fill="#1c1c1c"/>
<circle cx="651.8" cy="428.5" r="4.2" fill="#0c0c0c"/>
<circle cx="658.6" cy="364.4" r="4.4" fill="#0f0f0f"/>
<circle cx="631.6" cy="475.3" r="2.7" fill="#212121"/>
<circle cx="618.7" cy="448.9" r="2.6" fill="#121212"/>
<circle cx="579.5" cy="491.2" r="3.2" fill="#3e3e3e"/>
<circle cx="655.6" cy="422.7" r="3.4" fill="#0d0d0d"/>
<circle cx="635.9" cy="390.6" r="3.2" fill="#0d0d0d"/>
<circle cx="587.0" cy="451.9" r="4.4" fill="#0d0d0d"/>
<circle cx="609.8" cy="450.5" r="4.0" fill="#3e3e3e"/>
<circle cx="629.6" cy="424.8" r="4.5" fill="#0c0c0c"/>
<circle cx="572.1" cy="465.1" r="5.2" fill="#404040"/>
<circle cx="607.1" cy="468.4" r="4.7" fill="#0e0e0e"/>
<circle cx="652.5" cy="466.1" r="3.2" fill="#232323"/>
<circle cx="647.9" cy="494.5" r="3.8" fill="#1c1c1c"/>
<circle cx="565.4" cy="387.3" r="3.9" fill="#1d1d1d"/>
<circle cx="582.7" cy="368.6" r="5.0" fill="#161616"/>
<circle cx="593.0" cy="435.1" r="3.9" fill="#1d1d1d"/>
<circle cx="576.0" cy="420.0" r="3.9" fill="#161616"/>
<circle cx="654.7" cy="382.2" r="3.8" fill="#222222"/>
<circle cx="622.9" cy="501.5" r="4.5" fill="#0e0e0e"/>
<circle cx="602.6" cy="492.9" r="4.0" fill="#1b1b1b"/>
<circle cx="627.7" cy="461.4" r="3.3" fill="#363636"/>
<circle cx="590.6" cy="394.9" r="5.2" fill="#171717"/>
<circle cx="607.1" cy="374.0" r="3.3" fill="#303030"/>
<circle cx="637.3" cy="372.5" r="4.1" fill="#121212"/>
<circle cx="567.3" cy="405.2" r="3.0" fill="#161616"/>
<circle cx="585.8" cy="438.3" r="3.5" fill="#444444"/>
<circle cx="601.0" cy="407.6" r="5.2" fill="#242424"/>
<circle cx="652.0" cy="397.2" r="5.1" fill="#161616"/>
<circle cx="625.9" cy="449.8" r="3.9" fill="#191919"/>
<circle cx="629.8" cy="407.0" r="2.7" fill="#161616"/>
<circle cx="650.2" cy="365.1" r="3.7" fill="#262626"/>
<circle cx="599.5" cy="371.3" r="4.9" fill="#0d0d0d"/>
<circle cx="649.9" cy="418.3" r="3.9" fill="#232323"/>
<circle cx="592.5" cy="408.9" r="4.9" fill="#252525"/>
<circle cx="611.4" cy="398.8" r="4.8" fill="#191919"/>
<circle cx="553.6" cy="474.8" r="4.6" fill="#1c1c1c"/>
<circle cx="601.9" cy="481.1" r="4.0" fill="#0c0c0c"/>
<circle cx="636.8" cy="488.3" r="4.8" fill="#222222"/>
<circle cx="612.0" cy="374.1" r="4.1" fill="#313131"/>
<circle cx="631.1" cy="391.5" r="3.5" fill="#212121"/>
<circle cx="646.0" cy="405.9" r="5.1" fill="#343434"/>
<circle cx="630.1" cy="485.6" r="4.6" fill="#303030"/>
<circle cx="586.9" cy="437.3" r="4.9" fill="#1b1b1b"/>
<circle cx="588.8" cy="369.2" r="5.3" fill="#3c3c3c"/>
<circle cx="570.9" cy="492.3" r="2.7" fill="#0f0f0f"/>
<circle cx="657.5" cy="501.1" r="2.7" fill="#3c3c3c"/>
<circle cx="651.9" cy="420.8" r="4.7" fill="#1e1e1e"/>
<circle cx="613.3" cy="439.6" r="3.5" fill="#1a1a1a"/>
<circle cx="598.2" cy="448.6" r="2.5" fill="#111111"/>
<circle cx="605.5" cy="421.3" r="3.4" fill="#1d1d1d"/>
<circle cx="566.7" cy="460.2" r="3.3" fill="#242424"/>
<circle cx="635.2" cy="459.0" r="3.5" fill="#202020"/>
<circle cx="648.2" cy="431.5" r="5.2" fill="#151515"/>
<circle cx="657.6" cy="457.1" r="4.5" fill="#0f0f0f"/>
<circle cx="591.9" cy="370.3" r="2.7" fill="#242424"/>
<circle cx="618.6" cy="430.0" r="5.1" fill="#434343"/>
<circle cx="637.9" cy="450.6" r="3.6" fill="#1e1e1e"/>
<circle cx="582.5" cy="381.7" r="4.0" fill="#252525"/>
<circle cx="607.5" cy="378.8" r="4.5" fill="#131313"/>
<circle cx="651.0" cy="490.3" r="4.4" fill="#252525"/>
<circle cx="629.3" cy="466.5" r="3.9" fill="#1f1f1f"/>
<circle cx="620.7" cy="472.0" r="3.4" fill="#232323"/>
<circle cx="602.7" cy="500.2" r="4.5" fill="#212121"/>
<circle cx="614.7" cy="402.0" r="4.1" fill="#2f2f2f"/>
<circle cx="652.4" cy="364.8" r="2.7" fill="#232323"/>
<circle cx="580.4" cy="447.1" r="3.0" fill="#3d3d3d"/>
<circle cx="649.8" cy="444.1" r="4.8" fill="#262626"/>
<circle cx="606.5" cy="473.9" r="3.0" fill="#2f2f2f"/>
<circle cx="601.7" cy="461.4" r="3.7" fill="#232323"/>
<circle cx="596.2" cy="487.6" r="4.1" fill="#343434"/>
<circle cx="553.5" cy="487.3" r="4.9" fill="#191919"/>
<circle cx="586.1" cy="364.6" r="3.0" fill="#0f0f0f"/>
<circle cx="638.8" cy="430.1" r="3.1" fill="#262626"/>
<circle cx="654.0" cy="475.1" r="4.1" fill="#0d0d0d"/>
<circle cx="603.7" cy="422.8" r="4.5" fill="#191919"/>
<circle cx="580.3" cy="437.8" r="2.6" fill="#1c1c1c"/>
<circle cx="595.3" cy="492.4" r="4.0" fill="#3d3d3d"/>
<circle cx="613.0" cy="410.1" r="4.3" fill="#262626"/>
<circle cx="565.3" cy="369.5" r="5.5" fill="#161616"/>
<circle cx="625.3" cy="499.1" r="3.9" fill="#151515"/>
<circle cx="643.4" cy="472.3" r="3.8" fill="#0d0d0d"/>
<circle cx="622.6" cy="473.8" r="3.0" fill="#1e1e1e"/>
<circle cx="593.2" cy="403.5" r="4.6" fill="#181818"/>
<circle cx="572.1" cy="479.4" r="4.0" fill="#1f1f1f"/>
<circle cx="611.8" cy="433.7" r="4.6" fill="#3e3e3e"/>
<circle cx="640.4" cy="408.8" r="3.5" fill="#141414"/>
<circle cx="593.0" cy="421.9" r="4.3" fill="#252525"/>
<circle cx="621.8" cy="498.4" r="2.7" fill="#222222"/>
<circle cx="654.9" cy="372.7" r="5.0" fill="#1c1c1c"/>
<circle cx="570.1" cy="382.8" r="2.8" fill="#1f1f1f"/>
<circle cx="623.3" cy="380.4" r="5.4" fill="#161616"/>
<circle cx="642.1" cy="443.1" r="2.8" fill="#131313"/>
<circle cx="651.1" cy="376.7" r="4.1" fill="#0f0f0f"/>
<circle cx="660.7" cy="460.5" r="3.6" fill="#232323"/>
<circle cx="611.6" cy="436.5" r="4.8" fill="#454545"/>
<circle cx="613.3" cy="445.3" r="2.8" fill="#191919"/>
<circle cx="581.8" cy="391.3" r="3.1" fill="#1c1c1c"/>
<circle cx="633.6" cy="423.2" r="4.2" fill="#171717"/>
<circle cx="630.6" cy="416.0" r="4.3" fill="#202020"/>
<circle cx="569.9" cy="366.6" r="4.1" fill="#3f3f3f"/>
<circle cx="577.0" cy="490.7" r="4.4" fill="#242424"/>
<circle cx="658.8" cy="436.7" r="4.7" fill="#141414"/>
<circle cx="635.8" cy="426.9" r="3.9" fill="#151515"/>
<circle cx="581.5" cy="373.3" r="4.5" fill="#262626"/>
<circle cx="622.2" cy="464.9" r="4.7" fill="#121212"/>
<circle cx="635.7" cy="465.8" r="3.2" fill="#232323"/>
<circle cx="586.5" cy="485.2" r="5.5" fill="#222222"/>
<circle cx="612.2" cy="362.3" r="3.5" fill="#1e1e1e"/>
<circle cx="650.3" cy="390.1" r="5.1" fill="#424242"/>
<circle cx="579.7" cy="362.7" r="4.6" fill="#0e0e0e"/>
<circle cx="601.0" cy="455.2" r="4.1" fill="#373737"/>
<circle cx="567.9" cy="402.0" r="4.3" fill="#404040"/>
<circle cx="568.8" cy="380.9" r="3.4" fill="#353535"/>
<circle cx="592.7" cy="465.9" r="4.5" fill="#0c0c0c"/>
<circle cx="612.6" cy="389.2" r="3.1" fill="#363636"/>
<circle cx="600.8" cy="467.7" r="3.9" fill="#1a1a1a"/>
<circle cx="592.2" cy="440.6" r="3.9" fill="#202020"/>
<circle cx="577.1" cy="369.1" r="5.4" fill="#1b1b1b"/>
<circle cx="566.3" cy="404.1" r="4.1" fill="#242424"/>
<circle cx="565.4" cy="422.3" r="4.0" fill="#0e0e0e"/>
<circle cx="661.8" cy="417.8" r="5.4" fill="#1f1f1f"/>
<circle cx="574.1" cy="465.7" r="4.7" fill="#1f1f1f"/>
<circle cx="569.7" cy="469.9" r="3.4" fill="#252525"/>
<circle cx="655.3" cy="441.7" r="3.2" fill="#383838"/>
<circle cx="596.9" cy="492.3" r="5.4" fill="#131313"/>
<circle cx="631.3" cy="395.9" r="4.3" fill="#1d1d1d"/>
<circle cx="580.6" cy="398.3" r="3.5" fill="#202020"/>
<circle cx="639.6" cy="447.6" r="3.7" fill="#111111"/>
<circle cx="574.4" cy="475.2" r="4.6" fill="#1e1e1e"/>
<circle cx="627.6" cy="467.7" r="2.8" fill="#3e3e3e"/>
<circle cx="603.2" cy="375.4" r="3.8" fill="#212121"/>
<circle cx="590.4" cy="409.6" r="4.3" fill="#242424"/>
<circle cx="585.2" cy="369.5" r="3.1" fill="#383838"/>
<circle cx="570.3" cy="428.5" r="2.9" fill="#444444"/>
<circle cx="650.5" cy="399.7" r="4.0" fill="#3d3d3d"/>
<circle cx="644.7" cy="411.3" r="4.2" fill="#343434"/>
<circle cx="577.4" cy="425.4" r="4.3" fill="#343434"/>
<circle cx="614.7" cy="417.4" r="2.6" fill="#1b1b1b"/>
<circle cx="615.8" cy="370.7" r="2.7" fill="#131313"/>
<circle cx="639.9" cy="440.7" r="4.5" fill="#181818"/>
<circle cx="558.5" cy="459.9" r="4.0" fill="#202020"/>
<circle cx="658.9" cy="465.1" r="2.6" fill="#1e1e1e"/>
<circle cx="602.2" cy="484.0" r="2.6" fill="#121212"/>
<circle cx="636.4" cy="489.7" r="5.5" fill="#1e1e1e"/>
<circle cx="622.4" cy="430.2" r="3.2" fill="#1e1e1e"/>
<circle cx="654.4" cy="451.2" r="2.9" fill="#212121"/>
<circle cx="598.7" cy="491.7" r="2.9" fill="#181818"/>
<circle cx="559.0" cy="411.8" r="4.3" fill="#1a1a1a"/>
<circle cx="598.5" cy="439.1" r="3.1" fill="#242424"/>
<circle cx="571.5" cy="388.8" r="5.5" fill="#202020"/>
<circle cx="595.8" cy="425.2" r="4.5" fill="#131313"/>
<circle cx="625.3" cy="499.5" r="4.1" fill="#232323"/>
<circle cx="608.5" cy="445.6" r="3.0" fill="#1f1f1f"/>
<circle cx="638.8" cy="418.1" r="3.2" fill="#131313"/>
<circle cx="569.4" cy="501.7" r="5.2" fill="#131313"/>
<circle cx="598.4" cy="444.4" r="4.2" fill="#111111"/>
<circle cx="611.3" cy="455.4" r="4.2" fill="#232323"/>
<circle cx="582.4" cy="417.1" r="2.8" fill="#363636"/>
<circle cx="648.0" cy="379.6" r="4.4" fill="#141414"/>
<circle cx="648.1" cy="392.7" r="3.6" fill="#181818"/>
<circle cx="589.7" cy="417.4" r="4.9" fill="#3f3f3f"/>
<circle cx="569.3" cy="416.6" r="3.4" fill="#222222"/>
<circle cx="575.7" cy="428.0" r="3.7" fill="#181818"/>
<circle cx="572.2" cy="466.0" r="3.7" fill="#171717"/>
<circle cx="653.6" cy="463.6" r="2.6" fill="#171717"/>
<circle cx="622.6" cy="403.5" r="5.3" fill="#0d0d0d"/>
<circle cx="630.0" cy="393.4" r="3.5" fill="#2d2d2d"/>
<circle cx="658.8" cy="453.5" r="3.8" fill="#242424"/>
<circle cx="651.4" cy="368.6" r="2.8" fill="#141414"/>
<circle cx="596.4" cy="380.8" r="5.0" fill="#444444"/>
<circle cx="559.4" cy="446.9" r="3.7" fill="#3e3e3e"/>
<circle cx="593.5" cy="438.3" r="4.6" fill="#0c0c0c"/>
<circle cx="609.3" cy="390.7" r="3.3" fill="#212121"/>
<circle cx="558.7" cy="424.6" r="5.1" fill="#131313"/>
<circle cx="587.7" cy="497.8" r="5.0" fill="#111111"/>
<circle cx="653.7" cy="379.9" r="3.9" fill="#0d0d0d"/>
<circle cx="643.9" cy="467.9" r="4.1" fill="#1a1a1a"/>
<circle cx="599.7" cy="387.0" r="5.3" fill="#3b3b3b"/>
<circle cx="597.4" cy="411.4" r="5.4" fill="#121212"/>
<circle cx="586.7" cy="369.0" r="5.5" fill="#1f1f1f"/>
<circle cx="567.6" cy="372.0" r="3.1" fill="#151515"/>
<circle cx="570.4" cy="419.5" r="4.9" fill="#1d1d1d"/>
<circle cx="644.6" cy="457.6" r="4.3" fill="#161616"/>
<circle cx="610.1" cy="487.9" r="4.5" fill="#1b1b1b"/>
<circle cx="584.5" cy="500.8" r="2.8" fill="#141414"/>
<circle cx="635.8" cy="479.6" r="4.0" fill="#1b1b1b"/>
<circle cx="618.6" cy="466.4" r="5.2" fill="#171717"/>
<circle cx="653.4" cy="373.5" r="3.2" fill="#414141"/>
<circle cx="575.9" cy="442.8" r="4.3" fill="#161616"/>
<circle cx="645.9" cy="447.9" r="3.9" fill="#0f0f0f"/>
<circle cx="588.9" cy="479.1" r="5.0" fill="#111111"/>
<circle cx="601.4" cy="395.5" r="4.1" fill="#252525"/>
<circle cx="603.2" cy="488.3" r="3.8" fill="#181818"/>
<circle cx="591.6" cy="447.4" r="3.3" fill="#0f0f0f"/>
<circle cx="584.7" cy="408.1" r="3.6" fill="#222222"/>
<circle cx="603.6" cy="453.5" r="3.0" fill="#444444"/>
<circle cx="608.8" cy="370.3" r="2.9" fill="#131313"/>
<circle cx="652.7" cy="445.9" r="5.2" fill="#2d2d2d"/>
<circle cx="639.1" cy="491.0" r="3.7" fill="#0d0d0d"/>
<circle cx="603.5" cy="482.6" r="3.6" fill="#1f1f1f"/>
<circle cx="594.7" cy="490.6" r="2.8" fill="#111111"/>
<circle cx="605.5" cy="483.6" r="3.1" fill="#242424"/>
<circle cx="585.9" cy="447.1" r="3.9" fill="#1d1d1d"/>
<circle cx="598.3" cy="470.3" r="5.3" fill="#2e2e2e"/>
<circle cx="634.2" cy="408.7" r="3.5" fill="#0d0d0d"/>
<circle cx="640.6" cy="427.6" r="5.1" fill="#1d1d1d"/>
<circle cx="627.5" cy="400.5" r="3.6" fill="#252525"/>
<circle cx="651.8" cy="379.1" r="5.2" fill="#171717"/>
<circle cx="630.2" cy="487.9" r="4.1" fill="#0f0f0f"/>
<circle cx="619.4" cy="462.8" r="2.9" fill="#303030"/>
<circle cx="629.0" cy="476.2" r="4.0" fill="#1d1d1d"/>
<circle cx="634.1" cy="376.9" r="2.5" fill="#0f0f0f"/>
<circle cx="591.4" cy="442.8" r="4.2" fill="#404040"/>
<circle cx="630.8" cy="379.6" r="2.5" fill="#131313"/>
<circle cx="624.7" cy="448.4" r="4.5" fill="#0f0f0f"/>
<circle cx="592.3" cy="453.1" r="4.4" fill="#0e0e0e"/>
<circle cx="633.9" cy="369.9" r="2.6" fill="#141414"/>
<circle cx="634.8" cy="491.4" r="3.3" fill="#1a1a1a"/>
<circle cx="645.7" cy="392.2" r="3.0" fill="#353535"/>
<circle cx="622.6" cy="377.4" r="5.4" fill="#1a1a1a"/>
<circle cx="648.0" cy="409.7" r="5.4" fill="#262626"/>
<circle cx="570.2" cy="427.0" r="3.9" fill="#232323"/>
<circle cx="643.3" cy="485.0" r="5.3" fill="#0f0f0f"/>
<circle cx="622.2" cy="471.2" r="5.1" fill="#101010"/>
<circle cx="583.5" cy="448.6" r="4.7" fill="#121212"/>
<circle cx="590.3" cy="465.6" r="3.7" fill="#1d1d1d"/>
<circle cx="659.1" cy="477.2" r="3.3" fill="#191919"/>
<circle cx="573.1" cy="442.7" r="5.0" fill="#393939"/>
<circle cx="591.6" cy="412.5" r="3.1" fill="#1e1e1e"/>
<circle cx="609.0" cy="433.2" r="2.8" fill="#353535"/>
<circle cx="593.7" cy="419.8" r="2.7" fill="#121212"/>
<circle cx="633.1" cy="371.7" r="3.1" fill="#363636"/>
<circle cx="615.8" cy="444.6" r="4.9" fill="#363636"/>
<circle cx="616.4" cy="483.0" r="4.2" fill="#0e0e0e"/>
<circle cx="633.4" cy="457.7" r="4.7" fill="#3f3f3f"/>
<circle cx="614.3" cy="470.7" r="3.6" fill="#464646"/>
<circle cx="565.7" cy="401.9" r="3.7" fill="#202020"/>
<circle cx="630.5" cy="494.9" r="2.8" fill="#121212"/>
<circle cx="625.6" cy="390.1" r="4.9" fill="#202020"/>
<circle cx="635.3" cy="389.7" r="5.2" fill="#252525"/>
<circle cx="614.0" cy="499.9" r="4.3" fill="#191919"/>
<circle cx="640.7" cy="499.9" r="3.7" fill="#0e0e0e"/>
<circle cx="580.4" cy="496.6" r="3.1" fill="#161616"/>
<circle cx="648.5" cy="474.9" r="3.2" fill="#303030"/>
<circle cx="654.7" cy="470.4" r="4.0" fill="#454545"/>
<circle cx="655.4" cy="466.9" r="4.2" fill="#1d1d1d"/>
<circle cx="594.6" cy="490.1" r="5.0" fill="#0f0f0f"/>
<circle cx="569.9" cy="388.0" r="4.0" fill="#171717"/>
<circle cx="578.8" cy="433.2" r="3.9" fill="#3d3d3d"/>
<circle cx="630.6" cy="408.4" r="2.8" fill="#1b1b1b"/>
<circle cx="660.2" cy="367.9" r="3.9" fill="#161616"/>
<circle cx="594.9" cy="392.1" r="2.7" fill="#212121"/>
<circle cx="584.1" cy="366.3" r="2.6" fill="#0e0e0e"/>
<circle cx="645.2" cy="484.0" r="3.1" fill="#161616"/>
<circle cx="570.5" cy="422.9" r="5.4" fill="#434343"/>
<circle cx="626.1" cy="402.1" r="4.4" fill="#212121"/>
<circle cx="650.9" cy="498.1" r="4.3" fill="#242424"/>
<circle cx="639.7" cy="456.1" r="4.6" fill="#242424"/>
<circle cx="640.6" cy="477.2" r="3.2" fill="#0e0e0e"/>
<circle cx="594.1" cy="427.8" r="4.1" fill="#383838"/>
<circle cx="616.4" cy="405.3" r="2.8" fill="#393939"/>
<circle cx="622.5" cy="491.8" r="3.3" fill="#111111"/>
<circle cx="591.6" cy="397.5" r="3.1" fill="#1f1f1f"/>
<circle cx="588.1" cy="474.8" r="4.6" fill="#161616"/>
<circle cx="653.1" cy="377.3" r="4.0" fill="#1c1c1c"/>
<circle cx="621.1" cy="433.0" r="5.1" fill="#3f3f3f"/>
<circle cx="646.2" cy="361.5" r="4.2" fill="#1c1c1c"/>
<circle cx="614.2" cy="406.8" r="3.8" fill="#0c0c0c"/>
<circle cx="591.1" cy="486.9" r="4.9" fill="#141414"/>
<circle cx="599.8" cy="384.8" r="4.8" fill="#1c1c1c"/>
<circle cx="575.2" cy="452.3" r="4.3" fill="#333333"/>
<circle cx="598.4" cy="432.3" r="2.7" fill="#191919"/>
<circle cx="586.4" cy="484.3" r="4.1" fill="#161616"/>
<circle cx="635.3" cy="439.7" r="4.1" fill="#111111"/>
<circle cx="622.2" cy="417.5" r="3.5" fill="#0d0d0d"/>
<circle cx="645.7" cy="384.7" r="5.1" fill="#212121"/>
<circle cx="572.3" cy="475.9" r="4.9" fill="#383838"/>
<circle cx="653.7" cy="474.6" r="4.5" fill="#0c0c0c"/>
<circle cx="609.1" cy="484.8" r="3.2" fill="#0d0d0d"/>
<circle cx="573.0" cy="482.4" r="4.2" fill="#363636"/>
<circle cx="584.4" cy="417.1" r="5.5" fill="#232323"/>
<circle cx="593.2" cy="410.7" r="2.5" fill="#1f1f1f"/>
<circle cx="585.7" cy="480.0" r="2.5" fill="#171717"/>
<circle cx="577.5" cy="492.1" r="3.1" fill="#101010"/>
<circle cx="601.1" cy="490.5" r="5.2" fill="#222222"/>
<circle cx="645.3" cy="475.1" r="4.0" fill="#1e1e1e"/>
<circle cx="660.4" cy="365.2" r="3.9" fill="#202020"/>
<circle cx="581.4" cy="375.5" r="2.6" fill="#434343"/>
<circle cx="615.6" cy="460.9" r="4.8" fill="#202020"/>
<circle cx="596.3" cy="487.5" r="5.2" fill="#121212"/>
<circle cx="644.2" cy="415.4" r="3.3" fill="#232323"/>
<circle cx="647.4" cy="425.9" r="2.8" fill="#2e2e2e"/>
<circle cx="614.8" cy="480.4" r="4.6" fill="#0f0f0f"/>
<circle cx="623.8" cy="395.6" r="4.2" fill="#0d0d0d"/>
<circle cx="653.1" cy="489.2" r="3.4" fill="#3d3d3d"/>
<circle cx="633.7" cy="405.8" r="3.7" fill="#1f1f1f"/>
<circle cx="654.4" cy="486.8" r="3.5" fill="#262626"/>
<circle cx="643.8" cy="417.5" r="2.7" fill="#404040"/>
<circle cx="613.2" cy="381.1" r="4.6" fill="#3f3f3f"/>
<circle cx="622.7" cy="394.2" r="3.8" fill="#191919"/>
<circle cx="556.7" cy="380.0" r="5.1" fill="#181818"/>
<circle cx="620.8" cy="413.9" r="5.0" fill="#2e2e2e"/>
<circle cx="616.7" cy="438.2" r="4.8" fill="#0d0d0d"/>
<circle cx="645.1" cy="381.2" r="3.2" fill="#191919"/>
<circle cx="641.6" cy="445.8" r="2.5" fill="#0f0f0f"/>
<circle cx="596.8" cy="388.4" r="3.0" fill="#1e1e1e"/>
<circle cx="568.5" cy="449.9" r="4.0" fill="#444444"/>
<circle cx="597.0" cy="470.8" r="3.4" fill="#111111"/>
<circle cx="623.4" cy="402.9" r="4.6" fill="#0f0f0f"/>
<circle cx="618.4" cy="389.1" r="3.3" fill="#121212"/>
<circle cx="608.9" cy="462.4" r="5.5" fill="#181818"/>
<circle cx="598.9" cy="483.1" r="3.5" fill="#131313"/>
<circle cx="614.9" cy="488.2" r="3.3" fill="#0d0d0d"/>
<circle cx="641.3" cy="475.8" r="4.0" fill="#383838"/>
<circle cx="613.0" cy="411.4" r="3.5" fill="#191919"/>
<circle cx="600.6" cy="421.2" r="3.4" fill="#1f1f1f"/>
<circle cx="659.2" cy="391.6" r="5.1" fill="#0d0d0d"/>
<circle cx="620.6" cy="427.2" r="4.5" fill="#202020"/>
<circle cx="558.6" cy="393.2" r="3.6" fill="#1a1a1a"/>
<circle cx="591.0" cy="461.9" r="5.4" fill="#0e0e0e"/>
<circle cx="613.9" cy="466.6" r="4.2" fill="#161616"/>
<circle cx="620.0" cy="424.3" r="3.4" fill="#191919"/>
<circle cx="565.8" cy="462.7" r="4.8" fill="#161616"/>
<circle cx="655.2" cy="373.6" r="4.0" fill="#131313"/>
<circle cx="581.7" cy="459.8" r="5.2" fill="#1d1d1d"/>
<circle cx="647.6" cy="391.9" r="3.6" fill="#0e0e0e"/>
<circle cx="570.4" cy="477.5" r="2.7" fill="#1c1c1c"/>
<circle cx="591.7" cy="415.9" r="3.0" fill="#151515"/>
<circle cx="571.0" cy="363.3" r="5.1" fill="#0f0f0f"/>
<circle cx="653.0" cy="439.5" r="4.0" fill="#222222"/>
<circle cx="581.2" cy="451.2" r="4.5" fill="#191919"/>
<circle cx="564.9" cy="454.4" r="3.5" fill="#151515"/>
<circle cx="614.9" cy="365.1" r="2.7" fill="#0f0f0f"/>
<circle cx="618.9" cy="378.9" r="5.4" fill="#212121"/>
<circle cx="602.5" cy="402.7" r="3.9" fill="#1d1d1d"/>
<circle cx="582.0" cy="372.3" r="5.1" fill="#1d1d1d"/>
<circle cx="645.4" cy="387.3" r="4.3" fill="#3d3d3d"/>
<circle cx="638.7" cy="474.9" r="4.9" fill="#151515"/>
<circle cx="610.2" cy="489.7" r="2.5" fill="#333333"/>
<circle cx="571.3" cy="491.1" r="4.1" fill="#3f3f3f"/>
<circle cx="578.1" cy="453.7" r="3.7" fill="#181818"/>
<circle cx="588.1" cy="367.7" r="4.1" fill="#383838"/>
<circle cx="652.8" cy="456.3" r="2.9" fill="#424242"/>
<circle cx="608.5" cy="501.6" r="2.8" fill="#202020"/>
<circle cx="626.2" cy="382.7" r="4.8" fill="#202020"/>
<circle cx="630.8" cy="409.2" r="3.0" fill="#434343"/>
<circle cx="654.5" cy="466.5" r="2.6" fill="#161616"/>
<circle cx="575.9" cy="389.4" r="5.2" fill="#1a1a1a"/>
<circle cx="613.4" cy="496.2" r="4.6" fill="#1f1f1f"/>
<circle cx="608.6" cy="462.1" r="5.1" fill="#232323"/>
<circle cx="569.6" cy="472.2" r="4.5" fill="#1a1a1a"/>
<circle cx="605.0" cy="472.3" r="2.6" fill="#141414"/>
<circle cx="601.2" cy="476.7" r="5.5" fill="#131313"/>
<circle cx="581.6" cy="414.1" r="3.1" fill="#131313"/>
<circle cx="643.3" cy="483.8" r="5.0" fill="#232323"/>
<circle cx="588.2" cy="453.4" r="5.3" fill="#161616"/>
<circle cx="640.4" cy="371.2" r="5.4" fill="#121212"/>
<circle cx="603.9" cy="483.7" r="3.2" fill="#131313"/>
<circle cx="620.7" cy="454.8" r="4.9" fill="#212121"/>
<circle cx="652.1" cy="449.3" r="2.7" fill="#161616"/>
<circle cx="593.6" cy="434.9" r="3.6" fill="#1c1c1c"/>
<circle cx="577.6" cy="363.6" r="5.1" fill="#262626"/>
<circle cx="632.3" cy="450.1" r="3.2" fill="#232323"/>
<circle cx="633.9" cy="418.3" r="4.1" fill="#181818"/>
<circle cx="553.5" cy="395.8" r="4.6" fill="#0f0f0f"/>
<circle cx="580.6" cy="479.5" r="5.4" fill="#111111"/>
<circle cx="571.7" cy="494.5" r="5.3" fill="#212121"/>
<circle cx="644.8" cy="403.1" r="5.2" fill="#0c0c0c"/>
<circle cx="610.5" cy="406.0" r="4.0" fill="#2e2e2e"/>
<circle cx="569.0" cy="483.8" r="2.7" fill="#1d1d1d"/>
<circle cx="582.1" cy="497.9" r="4.5" fill="#1d1d1d"/>
<circle cx="562.2" cy="489.5" r="2.9" fill="#202020"/>
<circle cx="591.4" cy="391.3" r="4.4" fill="#414141"/>
<circle cx="585.4" cy="482.8" r="3.2" fill="#3a3a3a"/>
<circle cx="612.6" cy="432.8" r="4.5" fill="#353535"/>
<circle cx="624.4" cy="461.1" r="4.2" fill="#0f0f0f"/>
<circle cx="585.7" cy="405.5" r="3.4" fill="#1a1a1a"/>
<circle cx="645.6" cy="479.5" r="4.3" fill="#3a3a3a"/>
<circle cx="621.1" cy="416.7" r="2.7" fill="#262626"/>
<circle cx="584.2" cy="461.7" r="3.1" fill="#323232"/>
<circle cx="658.8" cy="380.9" r="2.9" fill="#0e0e0e"/>
<circle cx="590.9" cy="404.6" r="4.3" fill="#3a3a3a"/>
<circle cx="590.4" cy="393.8" r="4.8" fill="#323232"/>
<circle cx="567.5" cy="430.1" r="3.1" fill="#212121"/>
<circle cx="580.5" cy="438.6" r="5.4" fill="#323232"/>
<circle cx="612.3" cy="456.7" r="5.2" fill="#1e1e1e"/>
<circle cx="592.7" cy="453.7" r="3.6" fill="#131313"/>
<circle cx="627.1" cy="390.4" r="3.4" fill="#141414"/>
<circle cx="575.2" cy="441.7" r="4.3" fill="#212121"/>
<circle cx="572.1" cy="441.1" r="4.7" fill="#0c0c0c"/>
<circle cx="657.3" cy="419.0" r="3.0" fill="#101010"/>
<circle cx="646.3" cy="457.5" r="4.8" fill="#424242"/>
<circle cx="607.2" cy="479.4" r="3.0" fill="#414141"/>
<g filter="url(#soft2)">
<path d="M573,374 L588,373 L590,382 L575,384 Z" fill="#747474" stroke="none" stroke-width="1" />
<path d="M588,393 L600,391 L604,400 L598,409 L589,405 Z" fill="#707070" stroke="none" stroke-width="1" />
<path d="M626,402 L650,398 L658,404 L658,440 L640,443 L628,432 L624,414 Z" fill="#9a9a9a" stroke="none" stroke-width="1" />
<path d="M632,464 L656,462 L658,476 L636,477 Z" fill="#929292" stroke="none" stroke-width="1" />
</g>
<rect x="477.7" y="361.4" width="181.8" height="139.5" fill="#000" filter="url(#grain)" opacity="0.28"/>
</g>
<clipPath id="iain"><rect x="507.9" y="422.9" width="62.3" height="58.9"/></clipPath>
<g clip-path="url(#iain)">
<rect x="507.9" y="422.9" width="62.3" height="58.9" fill="#b2b2b2" />
<circle cx="536.7" cy="445.0" r="1.8" fill="#a7a7a7"/>
<circle cx="550.0" cy="443.0" r="2.4" fill="#9f9f9f"/>
<circle cx="513.0" cy="455.7" r="2.7" fill="#8d8d8d"/>
<circle cx="553.1" cy="433.0" r="3.4" fill="#aaaaaa"/>
<circle cx="553.0" cy="432.3" r="2.0" fill="#8f8f8f"/>
<circle cx="516.2" cy="474.4" r="3.5" fill="#8e8e8e"/>
<circle cx="556.0" cy="445.6" r="3.0" fill="#8f8f8f"/>
<circle cx="565.0" cy="435.1" r="1.9" fill="#a5a5a5"/>
<circle cx="534.1" cy="428.2" r="2.0" fill="#929292"/>
<circle cx="532.6" cy="443.2" r="1.6" fill="#a2a2a2"/>
<circle cx="563.0" cy="474.9" r="1.6" fill="#989898"/>
<circle cx="560.4" cy="431.2" r="2.0" fill="#a3a3a3"/>
<circle cx="564.2" cy="429.6" r="2.7" fill="#8f8f8f"/>
<circle cx="555.4" cy="434.7" r="3.2" fill="#969696"/>
<circle cx="508.5" cy="427.9" r="2.6" fill="#8c8c8c"/>
<circle cx="539.0" cy="456.8" r="2.6" fill="#929292"/>
<circle cx="534.0" cy="446.5" r="2.8" fill="#8e8e8e"/>
<circle cx="551.5" cy="431.6" r="3.4" fill="#a3a3a3"/>
<circle cx="567.4" cy="426.2" r="2.6" fill="#9f9f9f"/>
<circle cx="560.8" cy="467.0" r="3.0" fill="#9e9e9e"/>
<circle cx="569.9" cy="430.2" r="2.9" fill="#aaaaaa"/>
<circle cx="564.2" cy="432.5" r="2.5" fill="#a3a3a3"/>
<circle cx="530.7" cy="462.8" r="2.7" fill="#a4a4a4"/>
<circle cx="550.6" cy="474.2" r="1.7" fill="#a8a8a8"/>
<circle cx="544.2" cy="449.6" r="2.3" fill="#aaaaaa"/>
<circle cx="543.6" cy="424.1" r="3.1" fill="#969696"/>
<circle cx="508.0" cy="429.6" r="1.9" fill="#949494"/>
<circle cx="528.1" cy="428.2" r="2.8" fill="#8f8f8f"/>
<circle cx="540.1" cy="426.3" r="2.3" fill="#9d9d9d"/>
<circle cx="558.1" cy="452.3" r="2.9" fill="#939393"/>
<circle cx="543.1" cy="426.9" r="2.8" fill="#8f8f8f"/>
<circle cx="567.8" cy="446.7" r="2.2" fill="#a7a7a7"/>
<circle cx="542.7" cy="431.2" r="2.1" fill="#a2a2a2"/>
<circle cx="560.3" cy="438.3" r="1.6" fill="#a5a5a5"/>
<circle cx="518.7" cy="478.8" r="3.5" fill="#9f9f9f"/>
<circle cx="517.2" cy="425.9" r="2.4" fill="#a5a5a5"/>
<circle cx="532.1" cy="459.1" r="3.4" fill="#979797"/>
<circle cx="525.7" cy="451.4" r="2.1" fill="#aaaaaa"/>
<circle cx="513.4" cy="455.8" r="2.9" fill="#8e8e8e"/>
<circle cx="534.0" cy="431.4" r="2.6" fill="#a5a5a5"/>
<circle cx="531.7" cy="475.3" r="1.8" fill="#a2a2a2"/>
<circle cx="525.0" cy="458.2" r="2.7" fill="#979797"/>
<circle cx="514.2" cy="425.9" r="2.6" fill="#919191"/>
<circle cx="557.5" cy="471.4" r="1.8" fill="#a5a5a5"/>
<circle cx="521.8" cy="423.8" r="1.9" fill="#9a9a9a"/>
<circle cx="544.7" cy="455.2" r="1.7" fill="#9d9d9d"/>
<circle cx="537.9" cy="478.8" r="2.6" fill="#aaaaaa"/>
<circle cx="548.4" cy="457.3" r="2.7" fill="#999999"/>
<circle cx="541.7" cy="453.9" r="2.6" fill="#a9a9a9"/>
<circle cx="557.4" cy="474.8" r="2.6" fill="#aaaaaa"/>
<circle cx="526.6" cy="465.8" r="2.9" fill="#8f8f8f"/>
<circle cx="514.2" cy="452.0" r="1.6" fill="#a8a8a8"/>
<circle cx="547.5" cy="426.1" r="2.7" fill="#979797"/>
<circle cx="523.1" cy="450.1" r="2.2" fill="#aaaaaa"/>
<circle cx="553.2" cy="459.9" r="3.3" fill="#8d8d8d"/>
<circle cx="546.6" cy="428.0" r="1.6" fill="#999999"/>
<circle cx="533.2" cy="427.1" r="1.9" fill="#9f9f9f"/>
<circle cx="554.7" cy="428.0" r="1.6" fill="#9f9f9f"/>
<circle cx="537.2" cy="454.6" r="1.6" fill="#a4a4a4"/>
<circle cx="512.7" cy="428.0" r="2.1" fill="#9a9a9a"/>
<circle cx="567.2" cy="457.8" r="3.5" fill="#9b9b9b"/>
<circle cx="559.6" cy="429.3" r="2.2" fill="#939393"/>
<circle cx="536.0" cy="430.6" r="3.4" fill="#8f8f8f"/>
<circle cx="514.9" cy="430.1" r="3.4" fill="#8e8e8e"/>
<circle cx="531.1" cy="466.7" r="2.4" fill="#9c9c9c"/>
<circle cx="520.4" cy="474.6" r="1.7" fill="#8c8c8c"/>
<circle cx="523.9" cy="453.6" r="1.9" fill="#9a9a9a"/>
<circle cx="523.7" cy="459.0" r="3.4" fill="#9c9c9c"/>
<circle cx="557.6" cy="426.4" r="2.0" fill="#a7a7a7"/>
<circle cx="527.5" cy="474.6" r="2.8" fill="#a1a1a1"/>
<rect x="507.9" y="422.9" width="62.3" height="58.9" fill="#000" filter="url(#grain)" opacity="0.25"/>
</g>
<rect x="507.9" y="422.9" width="62.3" height="58.9" fill="none" stroke="#c84848" stroke-width="0.9"/>
<rect x="528.4" y="474.1" width="38.4" height="3.5" fill="#fff" />
<rect x="507.0" y="385.0" width="23.3" height="22.0" fill="none" stroke="#e03030" stroke-width="1.1" stroke-dasharray="3,1.5"/>
<line x1="507.0" y1="407.0" x2="507.9" y2="422.9" stroke="#e03030" stroke-width="1" stroke-dasharray="1.2,1.2"/>
<line x1="530.3" y1="407.0" x2="570.2" y2="422.9" stroke="#e03030" stroke-width="1" stroke-dasharray="1.2,1.2"/>
<rect x="477.9" y="483.2" width="47.6" height="17.1" fill="#fff" stroke="#8aa2d4" stroke-width="0.8"/>
<text x="501.6" y="495.5" font-size="10.4" font-weight="bold" fill="#111" text-anchor="middle" textLength="26.2" lengthAdjust="spacingAndGlyphs" >After</text>
<rect x="608.6" y="479.8" width="40.2" height="12.0" fill="#fff" />
<text x="628.3" y="489.4" font-size="8.0" font-weight="bold" fill="#111" text-anchor="middle" textLength="31.8" lengthAdjust="spacingAndGlyphs" >200 nm</text>
<rect x="603.2" y="493.2" width="50.4" height="2.8" fill="#fff" />
<defs><linearGradient id="gArr" x1="0" y1="0" x2="1" y2="1"><stop offset="0" stop-color="#a4bce8"/><stop offset="1" stop-color="#7e9ee0"/></linearGradient></defs>
<path d="M415.6,420 C430,411 455,412 475.8,421.7 L475.8,416.8 L494.4,438.5 L465.9,440 L469.6,434.1 C452,425 435,419 416.2,420.8 Z" fill="url(#gArr)" stroke="none" stroke-width="1" />
<text x="431.2" y="421.3" font-size="8.4" font-weight="bold" fill="#111" text-anchor="start" textLength="48.5" lengthAdjust="spacingAndGlyphs" transform="rotate(15.5 431.2 421.3)" style="font-style:italic" >Degradation</text>
<polyline points="54.4,654.4 80.9,654.4 107.3,654.4 133.8,654.4 160.2,654.4 186.7,654.4" fill="none" stroke="#3434f0" stroke-width="1.6" />
<rect x="52.7" y="652.7" width="3.4" height="3.4" fill="#3434f0" />
<rect x="79.2" y="652.7" width="3.4" height="3.4" fill="#3434f0" />
<rect x="105.6" y="652.7" width="3.4" height="3.4" fill="#3434f0" />
<rect x="132.1" y="652.7" width="3.4" height="3.4" fill="#3434f0" />
<rect x="158.5" y="652.7" width="3.4" height="3.4" fill="#3434f0" />
<rect x="185.0" y="652.7" width="3.4" height="3.4" fill="#3434f0" />
<polyline points="54.4,648.3 80.9,638.5 107.3,623.8 133.8,617.7 160.2,609.1 186.7,605.4" fill="none" stroke="#b8c2f8" stroke-width="1.3" />
<polygon points="54.4,646.1 56.3,648.3 54.4,650.5 52.5,648.3" fill="#b8c2f8" stroke="none" stroke-width="1" />
<polygon points="80.9,636.3 82.7,638.5 80.9,640.7 79.0,638.5" fill="#b8c2f8" stroke="none" stroke-width="1" />
<polygon points="107.3,621.6 109.2,623.8 107.3,626.0 105.4,623.8" fill="#b8c2f8" stroke="none" stroke-width="1" />
<polygon points="133.8,615.5 135.7,617.7 133.8,619.9 131.9,617.7" fill="#b8c2f8" stroke="none" stroke-width="1" />
<polygon points="160.2,606.9 162.1,609.1 160.2,611.3 158.4,609.1" fill="#b8c2f8" stroke="none" stroke-width="1" />
<polygon points="186.7,603.2 188.6,605.4 186.7,607.6 184.8,605.4" fill="#b8c2f8" stroke="none" stroke-width="1" />
<polyline points="54.4,648.3 80.9,629.9 107.3,606.6 133.8,593.2 160.2,580.9 186.7,574.8" fill="none" stroke="#f4b2b2" stroke-width="1.3" />
<polygon points="54.4,646.1 56.4,650.0 52.4,650.0" fill="#f4b2b2" stroke="none" stroke-width="1" />
<polygon points="80.9,627.7 82.9,631.6 78.8,631.6" fill="#f4b2b2" stroke="none" stroke-width="1" />
<polygon points="107.3,604.4 109.4,608.3 105.3,608.3" fill="#f4b2b2" stroke="none" stroke-width="1" />
<polygon points="133.8,591.0 135.8,594.9 131.7,594.9" fill="#f4b2b2" stroke="none" stroke-width="1" />
<polygon points="160.2,578.7 162.3,582.6 158.2,582.6" fill="#f4b2b2" stroke="none" stroke-width="1" />
<polygon points="186.7,572.6 188.7,576.5 184.7,576.5" fill="#f4b2b2" stroke="none" stroke-width="1" />
<polyline points="54.4,648.3 80.9,616.4 107.3,587.1 133.8,563.8 160.2,554.0 186.7,544.2" fill="none" stroke="#f03232" stroke-width="1.6" />
<polygon points="54.4,650.5 56.4,646.6 52.4,646.6" fill="#f03232" stroke="none" stroke-width="1" />
<polygon points="80.9,618.7 82.9,614.7 78.8,614.7" fill="#f03232" stroke="none" stroke-width="1" />
<polygon points="107.3,589.3 109.4,585.4 105.3,585.4" fill="#f03232" stroke="none" stroke-width="1" />
<polygon points="133.8,566.0 135.8,562.1 131.7,562.1" fill="#f03232" stroke="none" stroke-width="1" />
<polygon points="160.2,556.2 162.3,552.3 158.2,552.3" fill="#f03232" stroke="none" stroke-width="1" />
<polygon points="186.7,546.4 188.7,542.5 184.7,542.5" fill="#f03232" stroke="none" stroke-width="1" />
<rect x="43" y="531.9" width="154" height="134.8" fill="none" stroke="#666" stroke-width="1"/>
<line x1="40.7" y1="654.4" x2="43.0" y2="654.4" stroke="#444" stroke-width="0.8" />
<text x="38.9" y="656.4" font-size="5.7" font-weight="bold" fill="#000" text-anchor="end" >0</text>
<line x1="40.7" y1="629.9" x2="43.0" y2="629.9" stroke="#444" stroke-width="0.8" />
<text x="38.9" y="631.9" font-size="5.7" font-weight="bold" fill="#000" text-anchor="end" >20</text>
<line x1="40.7" y1="605.4" x2="43.0" y2="605.4" stroke="#444" stroke-width="0.8" />
<text x="38.9" y="607.4" font-size="5.7" font-weight="bold" fill="#000" text-anchor="end" >40</text>
<line x1="40.7" y1="580.9" x2="43.0" y2="580.9" stroke="#444" stroke-width="0.8" />
<text x="38.9" y="582.9" font-size="5.7" font-weight="bold" fill="#000" text-anchor="end" >60</text>
<line x1="40.7" y1="556.4" x2="43.0" y2="556.4" stroke="#444" stroke-width="0.8" />
<text x="38.9" y="558.4" font-size="5.7" font-weight="bold" fill="#000" text-anchor="end" >80</text>
<line x1="40.7" y1="532.0" x2="43.0" y2="532.0" stroke="#444" stroke-width="0.8" />
<text x="38.9" y="534.0" font-size="5.7" font-weight="bold" fill="#000" text-anchor="end" >100</text>
<line x1="41.5" y1="642.2" x2="43.0" y2="642.2" stroke="#444" stroke-width="0.6" />
<line x1="41.5" y1="617.7" x2="43.0" y2="617.7" stroke="#444" stroke-width="0.6" />
<line x1="41.5" y1="593.2" x2="43.0" y2="593.2" stroke="#444" stroke-width="0.6" />
<line x1="41.5" y1="568.7" x2="43.0" y2="568.7" stroke="#444" stroke-width="0.6" />
<line x1="41.5" y1="544.2" x2="43.0" y2="544.2" stroke="#444" stroke-width="0.6" />
<line x1="41.5" y1="666.6" x2="43.0" y2="666.6" stroke="#444" stroke-width="0.6" />
<line x1="54.4" y1="666.7" x2="54.4" y2="669.2" stroke="#444" stroke-width="0.8" />
<text x="54.4" y="676.0" font-size="5.7" font-weight="bold" fill="#000" text-anchor="middle" >0</text>
<line x1="76.5" y1="666.7" x2="76.5" y2="669.2" stroke="#444" stroke-width="0.8" />
<text x="76.5" y="676.0" font-size="5.7" font-weight="bold" fill="#000" text-anchor="middle" >10</text>
<line x1="98.5" y1="666.7" x2="98.5" y2="669.2" stroke="#444" stroke-width="0.8" />
<text x="98.5" y="676.0" font-size="5.7" font-weight="bold" fill="#000" text-anchor="middle" >20</text>
<line x1="120.6" y1="666.7" x2="120.6" y2="669.2" stroke="#444" stroke-width="0.8" />
<text x="120.6" y="676.0" font-size="5.7" font-weight="bold" fill="#000" text-anchor="middle" >30</text>
<line x1="142.6" y1="666.7" x2="142.6" y2="669.2" stroke="#444" stroke-width="0.8" />
<text x="142.6" y="676.0" font-size="5.7" font-weight="bold" fill="#000" text-anchor="middle" >40</text>
<line x1="164.7" y1="666.7" x2="164.7" y2="669.2" stroke="#444" stroke-width="0.8" />
<text x="164.7" y="676.0" font-size="5.7" font-weight="bold" fill="#000" text-anchor="middle" >50</text>
<line x1="186.7" y1="666.7" x2="186.7" y2="669.2" stroke="#444" stroke-width="0.8" />
<text x="186.7" y="676.0" font-size="5.7" font-weight="bold" fill="#000" text-anchor="middle" >60</text>
<line x1="43.4" y1="666.7" x2="43.4" y2="668.2" stroke="#444" stroke-width="0.6" />
<line x1="65.4" y1="666.7" x2="65.4" y2="668.2" stroke="#444" stroke-width="0.6" />
<line x1="87.5" y1="666.7" x2="87.5" y2="668.2" stroke="#444" stroke-width="0.6" />
<line x1="109.5" y1="666.7" x2="109.5" y2="668.2" stroke="#444" stroke-width="0.6" />
<line x1="131.6" y1="666.7" x2="131.6" y2="668.2" stroke="#444" stroke-width="0.6" />
<line x1="153.6" y1="666.7" x2="153.6" y2="668.2" stroke="#444" stroke-width="0.6" />
<line x1="175.7" y1="666.7" x2="175.7" y2="668.2" stroke="#444" stroke-width="0.6" />
<text x="117.7" y="687.2" font-size="9.2" font-weight="bold" fill="#000" text-anchor="middle" textLength="28.6" lengthAdjust="spacingAndGlyphs" >Time (h)</text>
<text x="27.8" y="598.8" font-size="9" font-weight="bold" fill="#000" text-anchor="middle" textLength="93.4" lengthAdjust="spacingAndGlyphs" transform="rotate(-90 27.8 598.8)" >Degraded Zr amount (%)</text>
<line x1="45.1" y1="538.3" x2="57.8" y2="538.3" stroke="#3434f0" stroke-width="1.6" />
<rect x="49.9" y="536.8" width="3.0" height="3.0" fill="#3434f0" />
<text x="60.4" y="540.4" font-size="6.0" font-weight="bold" fill="#111" text-anchor="start" textLength="58.4" lengthAdjust="spacingAndGlyphs" >Degradation of 0% Zr</text>
<line x1="45.1" y1="545.8" x2="57.8" y2="545.8" stroke="#b8c2f8" stroke-width="1.6" />
<polygon points="51.4,543.8 53.0,545.8 51.4,547.8 49.8,545.8" fill="#b8c2f8" stroke="none" stroke-width="1" />
<text x="60.4" y="547.9" font-size="6.0" font-weight="bold" fill="#111" text-anchor="start" textLength="58.4" lengthAdjust="spacingAndGlyphs" >Degradation of 5% Zr</text>
<line x1="45.1" y1="553.5" x2="57.8" y2="553.5" stroke="#f4b2b2" stroke-width="1.6" />
<polygon points="51.4,551.5 53.2,555.0 49.6,555.0" fill="#f4b2b2" stroke="none" stroke-width="1" />
<text x="60.4" y="555.6" font-size="6.0" font-weight="bold" fill="#111" text-anchor="start" textLength="61.4" lengthAdjust="spacingAndGlyphs" >Degradation of 10% Zr</text>
<line x1="45.1" y1="561.4" x2="57.8" y2="561.4" stroke="#f03232" stroke-width="1.6" />
<polygon points="51.4,563.4 53.2,559.9 49.6,559.9" fill="#f03232" stroke="none" stroke-width="1" />
<text x="60.4" y="563.5" font-size="6.0" font-weight="bold" fill="#111" text-anchor="start" textLength="61.4" lengthAdjust="spacingAndGlyphs" >Degradation of 15% Zr</text>
<polyline points="253.8,544.5 281.8,589.5 309.9,621.1 337.9,637.9 366.0,648.1 394.0,657.1" fill="none" stroke="#3a78c4" stroke-width="1.4" />
<rect x="252.1" y="542.8" width="3.4" height="3.4" fill="#3a78c4" />
<rect x="280.1" y="587.8" width="3.4" height="3.4" fill="#3a78c4" />
<rect x="308.2" y="619.4" width="3.4" height="3.4" fill="#3a78c4" />
<rect x="336.2" y="636.2" width="3.4" height="3.4" fill="#3a78c4" />
<rect x="364.3" y="646.4" width="3.4" height="3.4" fill="#3a78c4" />
<rect x="392.3" y="655.4" width="3.4" height="3.4" fill="#3a78c4" />
<polyline points="253.8,544.5 281.8,562.5 309.9,578.2 337.9,595.1 366.0,606.4 394.0,612.0" fill="none" stroke="#5c9cd4" stroke-width="1.4" />
<circle cx="253.8" cy="544.5" r="1.7" fill="#5c9cd4"/>
<circle cx="281.8" cy="562.5" r="1.7" fill="#5c9cd4"/>
<circle cx="309.9" cy="578.2" r="1.7" fill="#5c9cd4"/>
<circle cx="337.9" cy="595.1" r="1.7" fill="#5c9cd4"/>
<circle cx="366.0" cy="606.4" r="1.7" fill="#5c9cd4"/>
<circle cx="394.0" cy="612.0" r="1.7" fill="#5c9cd4"/>
<polyline points="253.8,544.5 281.8,555.7 309.9,567.0 337.9,578.2 366.0,583.9 394.0,589.5" fill="none" stroke="#94c4e0" stroke-width="1.4" />
<polygon points="253.8,542.2 255.8,546.2 251.8,546.2" fill="#94c4e0" stroke="none" stroke-width="1" />
<polygon points="281.8,553.5 283.9,557.4 279.8,557.4" fill="#94c4e0" stroke="none" stroke-width="1" />
<polygon points="309.9,564.8 311.9,568.7 307.8,568.7" fill="#94c4e0" stroke="none" stroke-width="1" />
<polygon points="337.9,576.0 340.0,579.9 335.9,579.9" fill="#94c4e0" stroke="none" stroke-width="1" />
<polygon points="366.0,581.7 368.0,585.6 363.9,585.6" fill="#94c4e0" stroke="none" stroke-width="1" />
<polygon points="394.0,587.3 396.0,591.2 392.0,591.2" fill="#94c4e0" stroke="none" stroke-width="1" />
<polyline points="253.8,544.5 281.8,544.5 309.9,544.5 337.9,544.5 366.0,545.6 394.0,545.6" fill="none" stroke="#c8eef0" stroke-width="1.4" />
<polygon points="253.8,546.7 255.8,542.8 251.8,542.8" fill="#c8eef0" stroke="none" stroke-width="1" />
<polygon points="281.8,546.7 283.9,542.8 279.8,542.8" fill="#c8eef0" stroke="none" stroke-width="1" />
<polygon points="309.9,546.7 311.9,542.8 307.8,542.8" fill="#c8eef0" stroke="none" stroke-width="1" />
<polygon points="337.9,546.7 340.0,542.8 335.9,542.8" fill="#c8eef0" stroke="none" stroke-width="1" />
<polygon points="366.0,547.8 368.0,543.9 363.9,543.9" fill="#c8eef0" stroke="none" stroke-width="1" />
<polygon points="394.0,547.8 396.0,543.9 392.0,543.9" fill="#c8eef0" stroke="none" stroke-width="1" />
<rect x="241.9" y="533.1" width="164.3" height="135" fill="none" stroke="#444" stroke-width="1"/>
<line x1="239.4" y1="657.1" x2="241.9" y2="657.1" stroke="#444" stroke-width="0.8" />
<text x="238.0" y="659.2" font-size="6.0" font-weight="bold" fill="#000" text-anchor="end" >0</text>
<line x1="239.4" y1="634.6" x2="241.9" y2="634.6" stroke="#444" stroke-width="0.8" />
<text x="238.0" y="636.7" font-size="6.0" font-weight="bold" fill="#000" text-anchor="end" >20</text>
<line x1="239.4" y1="612.0" x2="241.9" y2="612.0" stroke="#444" stroke-width="0.8" />
<text x="238.0" y="614.1" font-size="6.0" font-weight="bold" fill="#000" text-anchor="end" >40</text>
<line x1="239.4" y1="589.5" x2="241.9" y2="589.5" stroke="#444" stroke-width="0.8" />
<text x="238.0" y="591.6" font-size="6.0" font-weight="bold" fill="#000" text-anchor="end" >60</text>
<line x1="239.4" y1="567.0" x2="241.9" y2="567.0" stroke="#444" stroke-width="0.8" />
<text x="238.0" y="569.1" font-size="6.0" font-weight="bold" fill="#000" text-anchor="end" >80</text>
<line x1="239.4" y1="544.5" x2="241.9" y2="544.5" stroke="#444" stroke-width="0.8" />
<text x="238.0" y="546.6" font-size="6.0" font-weight="bold" fill="#000" text-anchor="end" >100</text>
<line x1="240.4" y1="645.8" x2="241.9" y2="645.8" stroke="#444" stroke-width="0.6" />
<line x1="240.4" y1="623.3" x2="241.9" y2="623.3" stroke="#444" stroke-width="0.6" />
<line x1="240.4" y1="600.8" x2="241.9" y2="600.8" stroke="#444" stroke-width="0.6" />
<line x1="240.4" y1="578.2" x2="241.9" y2="578.2" stroke="#444" stroke-width="0.6" />
<line x1="240.4" y1="555.7" x2="241.9" y2="555.7" stroke="#444" stroke-width="0.6" />
<line x1="240.4" y1="668.4" x2="241.9" y2="668.4" stroke="#444" stroke-width="0.6" />
<line x1="253.8" y1="668.1" x2="253.8" y2="670.6" stroke="#444" stroke-width="0.8" />
<text x="253.8" y="677.0" font-size="5.9" font-weight="bold" fill="#000" text-anchor="middle" >0</text>
<line x1="277.2" y1="668.1" x2="277.2" y2="670.6" stroke="#444" stroke-width="0.8" />
<text x="277.2" y="677.0" font-size="5.9" font-weight="bold" fill="#000" text-anchor="middle" >10</text>
<line x1="300.5" y1="668.1" x2="300.5" y2="670.6" stroke="#444" stroke-width="0.8" />
<text x="300.5" y="677.0" font-size="5.9" font-weight="bold" fill="#000" text-anchor="middle" >20</text>
<line x1="323.9" y1="668.1" x2="323.9" y2="670.6" stroke="#444" stroke-width="0.8" />
<text x="323.9" y="677.0" font-size="5.9" font-weight="bold" fill="#000" text-anchor="middle" >30</text>
<line x1="347.3" y1="668.1" x2="347.3" y2="670.6" stroke="#444" stroke-width="0.8" />
<text x="347.3" y="677.0" font-size="5.9" font-weight="bold" fill="#000" text-anchor="middle" >40</text>
<line x1="370.6" y1="668.1" x2="370.6" y2="670.6" stroke="#444" stroke-width="0.8" />
<text x="370.6" y="677.0" font-size="5.9" font-weight="bold" fill="#000" text-anchor="middle" >50</text>
<line x1="394.0" y1="668.1" x2="394.0" y2="670.6" stroke="#444" stroke-width="0.8" />
<text x="394.0" y="677.0" font-size="5.9" font-weight="bold" fill="#000" text-anchor="middle" >60</text>
<line x1="242.1" y1="668.1" x2="242.1" y2="669.6" stroke="#444" stroke-width="0.6" />
<line x1="265.5" y1="668.1" x2="265.5" y2="669.6" stroke="#444" stroke-width="0.6" />
<line x1="288.9" y1="668.1" x2="288.9" y2="669.6" stroke="#444" stroke-width="0.6" />
<line x1="312.2" y1="668.1" x2="312.2" y2="669.6" stroke="#444" stroke-width="0.6" />
<line x1="335.6" y1="668.1" x2="335.6" y2="669.6" stroke="#444" stroke-width="0.6" />
<line x1="359.0" y1="668.1" x2="359.0" y2="669.6" stroke="#444" stroke-width="0.6" />
<line x1="382.3" y1="668.1" x2="382.3" y2="669.6" stroke="#444" stroke-width="0.6" />
<text x="324.5" y="689.0" font-size="9.2" font-weight="bold" fill="#000" text-anchor="middle" textLength="31.0" lengthAdjust="spacingAndGlyphs" >Time (h)</text>
<text x="226.3" y="600.0" font-size="8.2" font-weight="bold" fill="#000" text-anchor="middle" textLength="69.0" lengthAdjust="spacingAndGlyphs" transform="rotate(-90 226.3 600.0)" >UCL Intensity (a.u.)</text>
<line x1="246.4" y1="631.4" x2="259.6" y2="631.4" stroke="#3a78c4" stroke-width="1.4" />
<rect x="251.5" y="629.9" width="3.0" height="3.0" fill="#3a78c4" />
<text x="262.8" y="633.6" font-size="6.2" font-weight="bold" fill="#111" text-anchor="start" textLength="41.7" lengthAdjust="spacingAndGlyphs" >UCL of 15% Zr</text>
<line x1="246.4" y1="639.2" x2="259.6" y2="639.2" stroke="#5c9cd4" stroke-width="1.4" />
<circle cx="253.0" cy="639.2" r="1.5" fill="#5c9cd4"/>
<text x="262.8" y="641.4" font-size="6.2" font-weight="bold" fill="#111" text-anchor="start" textLength="41.7" lengthAdjust="spacingAndGlyphs" >UCL of 10% Zr</text>
<line x1="246.4" y1="647.0" x2="259.6" y2="647.0" stroke="#94c4e0" stroke-width="1.4" />
<polygon points="253.0,645.0 254.8,648.5 251.2,648.5" fill="#94c4e0" stroke="none" stroke-width="1" />
<text x="262.8" y="649.2" font-size="6.2" font-weight="bold" fill="#111" text-anchor="start" textLength="37.9" lengthAdjust="spacingAndGlyphs" >UCL of 5% Zr</text>
<line x1="246.4" y1="655.1" x2="259.6" y2="655.1" stroke="#c8eef0" stroke-width="1.4" />
<polygon points="253.0,657.1 254.8,653.6 251.2,653.6" fill="#c8eef0" stroke="none" stroke-width="1" />
<text x="262.8" y="657.3" font-size="6.2" font-weight="bold" fill="#111" text-anchor="start" textLength="37.9" lengthAdjust="spacingAndGlyphs" >UCL of 0% Zr</text>
<polygon points="444.5,577.4 487.4,542.1 486.4,619.4 444.5,666.4" fill="#f0f8f8" stroke="#9a9a9a" stroke-width="0.6" />
<line x1="444.5" y1="584.8" x2="486.9" y2="548.5" stroke="#cfe0e4" stroke-width="0.4" />
<line x1="444.5" y1="592.2" x2="486.9" y2="555.0" stroke="#cfe0e4" stroke-width="0.4" />
<line x1="444.5" y1="599.6" x2="486.9" y2="561.4" stroke="#cfe0e4" stroke-width="0.4" />
<line x1="444.5" y1="607.1" x2="486.9" y2="567.9" stroke="#cfe0e4" stroke-width="0.4" />
<line x1="444.5" y1="614.5" x2="486.9" y2="574.3" stroke="#cfe0e4" stroke-width="0.4" />
<line x1="444.5" y1="621.9" x2="486.9" y2="580.8" stroke="#cfe0e4" stroke-width="0.4" />
<line x1="444.5" y1="629.3" x2="486.9" y2="587.2" stroke="#cfe0e4" stroke-width="0.4" />
<line x1="444.5" y1="636.7" x2="486.9" y2="593.6" stroke="#cfe0e4" stroke-width="0.4" />
<line x1="444.5" y1="644.1" x2="486.9" y2="600.1" stroke="#cfe0e4" stroke-width="0.4" />
<line x1="444.5" y1="651.6" x2="486.9" y2="606.5" stroke="#cfe0e4" stroke-width="0.4" />
<line x1="444.5" y1="659.0" x2="486.9" y2="613.0" stroke="#cfe0e4" stroke-width="0.4" />
<line x1="453.1" y1="570.3" x2="453.1" y2="657.0" stroke="#cfe0e4" stroke-width="0.4" />
<line x1="461.7" y1="563.3" x2="461.7" y2="647.6" stroke="#cfe0e4" stroke-width="0.4" />
<line x1="470.2" y1="556.2" x2="470.2" y2="638.2" stroke="#cfe0e4" stroke-width="0.4" />
<line x1="478.8" y1="549.2" x2="478.8" y2="628.8" stroke="#cfe0e4" stroke-width="0.4" />
<rect x="487.4" y="542.2" width="178.6" height="76.4" fill="#fafcf4" stroke="#b0b0b0" stroke-width="0.6"/>
<line x1="487.4" y1="549.6" x2="666.0" y2="549.6" stroke="#dde6d4" stroke-width="0.5" />
<line x1="487.4" y1="557.0" x2="666.0" y2="557.0" stroke="#dde6d4" stroke-width="0.5" />
<line x1="487.4" y1="564.4" x2="666.0" y2="564.4" stroke="#dde6d4" stroke-width="0.5" />
<line x1="487.4" y1="571.8" x2="666.0" y2="571.8" stroke="#dde6d4" stroke-width="0.5" />
<line x1="487.4" y1="579.2" x2="666.0" y2="579.2" stroke="#dde6d4" stroke-width="0.5" />
<line x1="487.4" y1="586.6" x2="666.0" y2="586.6" stroke="#dde6d4" stroke-width="0.5" />
<line x1="487.4" y1="594.0" x2="666.0" y2="594.0" stroke="#dde6d4" stroke-width="0.5" />
<line x1="487.4" y1="601.4" x2="666.0" y2="601.4" stroke="#dde6d4" stroke-width="0.5" />
<line x1="487.4" y1="608.8" x2="666.0" y2="608.8" stroke="#dde6d4" stroke-width="0.5" />
<line x1="487.4" y1="616.2" x2="666.0" y2="616.2" stroke="#dde6d4" stroke-width="0.5" />
<line x1="516.5" y1="542.2" x2="516.5" y2="618.6" stroke="#dde6d4" stroke-width="0.5" />
<line x1="546.3" y1="542.2" x2="546.3" y2="618.6" stroke="#dde6d4" stroke-width="0.5" />
<line x1="576.4" y1="542.2" x2="576.4" y2="618.6" stroke="#dde6d4" stroke-width="0.5" />
<line x1="606.3" y1="542.2" x2="606.3" y2="618.6" stroke="#dde6d4" stroke-width="0.5" />
<line x1="636.3" y1="542.2" x2="636.3" y2="618.6" stroke="#dde6d4" stroke-width="0.5" />
<polygon points="486.4,619.4 666.0,618.4 651.5,666.6 444.5,666.6" fill="#fcfcfc" stroke="none" stroke-width="1" />
<line x1="486.4" y1="619.4" x2="444.5" y2="666.6" stroke="#d8d8d8" stroke-width="0.4" />
<line x1="516.3" y1="619.4" x2="479.1" y2="666.6" stroke="#d8d8d8" stroke-width="0.4" />
<line x1="546.2" y1="619.4" x2="513.6" y2="666.6" stroke="#d8d8d8" stroke-width="0.4" />
<line x1="576.1" y1="619.4" x2="548.1" y2="666.6" stroke="#d8d8d8" stroke-width="0.4" />
<line x1="606.0" y1="619.4" x2="582.7" y2="666.6" stroke="#d8d8d8" stroke-width="0.4" />
<line x1="635.9" y1="619.4" x2="617.2" y2="666.6" stroke="#d8d8d8" stroke-width="0.4" />
<line x1="665.8" y1="619.4" x2="651.8" y2="666.6" stroke="#d8d8d8" stroke-width="0.4" />
<defs><linearGradient id="gl0" x1="0" y1="0" x2="0" y2="1"><stop offset="0" stop-color="#e08cf0" stop-opacity="0.9"/><stop offset="0.45" stop-color="#f4c4f4" stop-opacity="0.9"/><stop offset="1" stop-color="#fff" stop-opacity="0.6"/></linearGradient></defs>
<polygon points="453.7,622.0 454.2,622.0 454.7,622.0 455.2,622.0 455.7,622.0 456.2,622.0 456.7,622.0 457.2,622.0 457.7,622.0 458.2,622.0 458.7,622.0 459.2,622.0 459.7,622.0 460.2,622.0 460.7,622.0 461.2,622.0 461.7,622.0 462.2,622.0 462.7,622.0 463.2,622.0 463.7,622.0 464.2,622.0 464.7,622.0 465.2,622.0 465.7,622.0 466.2,622.0 466.7,622.0 467.2,622.0 467.7,622.0 468.2,622.0 468.7,622.0 469.2,622.0 469.7,622.0 470.2,622.0 470.7,622.0 471.2,622.0 471.7,622.0 472.2,622.0 472.7,622.0 473.2,622.0 473.7,622.0 474.2,622.0 474.7,622.0 475.2,622.0 475.7,622.0 476.2,622.0 476.7,622.0 477.2,622.0 477.7,622.0 478.2,622.0 478.7,622.0 479.2,622.0 479.7,622.0 480.2,622.0 480.7,622.0 481.2,622.0 481.7,622.0 482.2,622.0 482.7,622.0 483.2,622.0 483.7,621.9 484.2,621.9 484.7,621.9 485.2,621.9 485.7,621.9 486.2,621.9 486.7,621.9 487.2,621.9 487.7,621.9 488.2,621.9 488.7,621.9 489.2,621.9 489.7,621.9 490.2,621.9 490.7,621.9 491.2,621.9 491.7,621.9 492.2,621.9 492.7,621.9 493.2,621.9 493.7,621.9 494.2,621.9 494.7,621.9 495.2,621.9 495.7,621.9 496.2,621.9 496.7,621.9 497.2,621.9 497.7,621.8 498.2,621.8 498.7,621.8 499.2,621.8 499.7,621.8 500.2,621.7 500.7,621.7 501.2,621.6 501.7,621.6 502.2,621.5 502.7,621.3 503.2,621.1 503.7,620.9 504.2,620.6 504.7,620.2 505.2,619.8 505.7,619.5 506.2,619.2 506.7,619.0 507.2,619.0 507.7,619.2 508.2,619.4 508.7,619.8 509.2,620.2 509.7,620.5 510.2,620.8 510.7,621.1 511.2,621.3 511.7,621.4 512.2,621.5 512.7,621.6 513.2,621.7 513.7,621.7 514.2,621.8 514.7,621.8 515.2,621.7 515.7,621.7 516.2,621.7 516.7,621.7 517.2,621.7 517.7,621.7 518.2,621.7 518.7,621.7 519.2,621.6 519.7,621.6 520.2,621.6 520.7,621.6 521.2,621.6 521.7,621.5 522.2,621.5 522.7,621.5 523.2,621.5 523.7,621.4 524.2,621.4 524.7,621.4 525.2,621.3 525.7,621.3 526.2,621.2 526.7,621.2 527.2,621.1 527.7,621.1 528.2,621.0 528.7,620.9 529.2,620.8 529.7,620.7 530.2,620.6 530.7,620.5 531.2,620.3 531.7,620.1 532.2,619.9 532.7,619.6 533.2,619.3 533.7,618.9 534.2,618.3 534.7,617.6 535.2,616.6 535.7,615.3 536.2,613.7 536.7,611.7 537.2,609.4 537.7,606.8 538.2,604.3 538.7,601.9 539.2,600.0 539.7,598.8 540.2,598.5 540.7,599.2 541.2,600.7 541.7,602.8 542.2,605.3 542.7,607.9 543.2,610.3 543.7,612.5 544.2,614.4 544.7,615.8 545.2,617.0 545.7,616.2 546.2,614.8 546.7,612.8 547.2,610.2 547.7,606.9 548.2,603.0 548.7,598.7 549.2,594.3 549.7,590.5 550.2,587.9 550.7,587.0 551.2,587.9 551.7,590.5 552.2,594.3 552.7,598.7 553.2,603.0 553.7,606.9 554.2,610.2 554.7,612.8 555.2,614.8 555.7,616.2 556.2,617.2 556.7,618.0 557.2,618.5 557.7,619.0 558.2,619.3 558.7,619.6 559.2,619.8 559.7,620.1 560.2,620.2 560.7,620.4 561.2,620.5 561.7,620.6 562.2,620.7 562.7,620.8 563.2,620.9 563.7,621.0 564.2,621.1 564.7,621.1 565.2,621.2 565.7,621.2 566.2,621.3 566.7,621.3 567.2,621.4 567.7,621.4 568.2,621.4 568.7,621.5 569.2,621.5 569.7,621.5 570.2,621.5 570.7,621.6 571.2,621.6 571.7,621.6 572.2,621.6 572.7,621.6 573.2,621.7 573.7,621.7 574.2,621.7 574.7,621.7 575.2,621.6 575.7,621.6 576.2,621.6 576.7,621.6 577.2,621.6 577.7,621.6 578.2,621.6 578.7,621.6 579.2,621.5 579.7,621.5 580.2,621.5 580.7,621.5 581.2,621.5 581.7,621.4 582.2,621.4 582.7,621.4 583.2,621.3 583.7,621.3 584.2,621.3 584.7,621.3 585.2,621.2 585.7,621.2 586.2,621.1 586.7,621.1 587.2,621.0 587.7,621.0 588.2,620.9 588.7,620.9 589.2,620.8 589.7,620.7 590.2,620.6 590.7,620.5 591.2,620.4 591.7,620.3 592.2,620.2 592.7,620.0 593.2,619.9 593.7,619.7 594.2,619.5 594.7,619.3 595.2,619.0 595.7,618.7 596.2,618.4 596.7,618.0 597.2,617.6 597.7,617.0 598.2,616.4 598.7,615.5 599.2,614.5 599.7,613.0 600.2,611.0 600.7,608.2 601.2,604.2 601.7,598.8 602.2,592.0 602.7,583.8 603.2,574.8 603.7,566.1 604.2,559.0 604.7,554.7 605.2,554.3 605.7,557.8 606.2,564.5 606.7,573.0 607.2,582.0 607.7,590.4 608.2,597.6 608.7,603.2 609.2,607.5 609.7,610.5 610.2,612.7 610.7,614.2 611.2,615.3 611.7,616.2 612.2,616.9 612.7,617.5 613.2,617.0 613.7,616.2 614.2,615.0 614.7,613.7 615.2,612.0 615.7,609.9 616.2,607.6 616.7,605.0 617.2,602.3 617.7,599.5 618.2,597.0 618.7,594.8 619.2,593.2 619.7,592.5 620.2,592.6 620.7,593.5 621.2,595.2 621.7,597.4 622.2,600.1 622.7,602.8 623.2,605.5 623.7,608.1 624.2,610.4 624.7,612.3 625.2,614.0 625.7,615.3 626.2,616.3 626.7,617.2 627.2,617.8 627.7,618.4 628.2,618.8 628.7,619.1 629.2,619.4 629.7,619.6 630.2,619.8 630.7,620.0 631.2,620.1 631.7,620.3 632.2,620.4 632.7,620.5 633.2,620.6 633.7,620.7 634.2,620.8 634.7,620.8 635.2,620.9 635.7,621.0 636.2,621.0 636.7,621.1 637.2,621.1 637.7,621.2 638.2,621.2 638.7,621.3 639.2,621.3 639.7,621.3 640.2,621.4 640.7,621.4 641.2,621.4 641.7,621.4 642.2,621.5 642.7,621.5 643.2,621.5 643.7,621.5 644.2,621.5 644.7,621.6 645.2,621.6 645.7,621.6 646.2,621.6 646.7,621.6 647.2,621.6 647.7,621.7 648.2,621.7 648.7,621.7 649.2,621.7 649.7,621.7 650.2,621.7 650.7,621.7 651.2,621.7 651.7,621.7 652.2,621.7 652.7,621.7 653.2,621.8 653.7,621.8 654.2,621.8 654.7,621.8 655.2,621.8 655.7,621.8 656.2,621.8 656.7,621.8 657.2,621.8 657.7,621.8 658.2,621.8 658.7,621.8 659.2,621.8 659.7,621.8 660.2,621.8 660.7,621.8 661.2,621.8 661.7,621.8 662.2,621.8 662.7,621.9 663.2,621.9 663.7,621.9 664.2,621.9 664.7,621.9 665.2,621.9 665.2,622.0 453.7,622.0" fill="url(#gl0)" stroke="none" stroke-width="1" />
<polyline points="453.7,622.0 454.2,622.0 454.7,622.0 455.2,622.0 455.7,622.0 456.2,622.0 456.7,622.0 457.2,622.0 457.7,622.0 458.2,622.0 458.7,622.0 459.2,622.0 459.7,622.0 460.2,622.0 460.7,622.0 461.2,622.0 461.7,622.0 462.2,622.0 462.7,622.0 463.2,622.0 463.7,622.0 464.2,622.0 464.7,622.0 465.2,622.0 465.7,622.0 466.2,622.0 466.7,622.0 467.2,622.0 467.7,622.0 468.2,622.0 468.7,622.0 469.2,622.0 469.7,622.0 470.2,622.0 470.7,622.0 471.2,622.0 471.7,622.0 472.2,622.0 472.7,622.0 473.2,622.0 473.7,622.0 474.2,622.0 474.7,622.0 475.2,622.0 475.7,622.0 476.2,622.0 476.7,622.0 477.2,622.0 477.7,622.0 478.2,622.0 478.7,622.0 479.2,622.0 479.7,622.0 480.2,622.0 480.7,622.0 481.2,622.0 481.7,622.0 482.2,622.0 482.7,622.0 483.2,622.0 483.7,621.9 484.2,621.9 484.7,621.9 485.2,621.9 485.7,621.9 486.2,621.9 486.7,621.9 487.2,621.9 487.7,621.9 488.2,621.9 488.7,621.9 489.2,621.9 489.7,621.9 490.2,621.9 490.7,621.9 491.2,621.9 491.7,621.9 492.2,621.9 492.7,621.9 493.2,621.9 493.7,621.9 494.2,621.9 494.7,621.9 495.2,621.9 495.7,621.9 496.2,621.9 496.7,621.9 497.2,621.9 497.7,621.8 498.2,621.8 498.7,621.8 499.2,621.8 499.7,621.8 500.2,621.7 500.7,621.7 501.2,621.6 501.7,621.6 502.2,621.5 502.7,621.3 503.2,621.1 503.7,620.9 504.2,620.6 504.7,620.2 505.2,619.8 505.7,619.5 506.2,619.2 506.7,619.0 507.2,619.0 507.7,619.2 508.2,619.4 508.7,619.8 509.2,620.2 509.7,620.5 510.2,620.8 510.7,621.1 511.2,621.3 511.7,621.4 512.2,621.5 512.7,621.6 513.2,621.7 513.7,621.7 514.2,621.8 514.7,621.8 515.2,621.7 515.7,621.7 516.2,621.7 516.7,621.7 517.2,621.7 517.7,621.7 518.2,621.7 518.7,621.7 519.2,621.6 519.7,621.6 520.2,621.6 520.7,621.6 521.2,621.6 521.7,621.5 522.2,621.5 522.7,621.5 523.2,621.5 523.7,621.4 524.2,621.4 524.7,621.4 525.2,621.3 525.7,621.3 526.2,621.2 526.7,621.2 527.2,621.1 527.7,621.1 528.2,621.0 528.7,620.9 529.2,620.8 529.7,620.7 530.2,620.6 530.7,620.5 531.2,620.3 531.7,620.1 532.2,619.9 532.7,619.6 533.2,619.3 533.7,618.9 534.2,618.3 534.7,617.6 535.2,616.6 535.7,615.3 536.2,613.7 536.7,611.7 537.2,609.4 537.7,606.8 538.2,604.3 538.7,601.9 539.2,600.0 539.7,598.8 540.2,598.5 540.7,599.2 541.2,600.7 541.7,602.8 542.2,605.3 542.7,607.9 543.2,610.3 543.7,612.5 544.2,614.4 544.7,615.8 545.2,617.0 545.7,616.2 546.2,614.8 546.7,612.8 547.2,610.2 547.7,606.9 548.2,603.0 548.7,598.7 549.2,594.3 549.7,590.5 550.2,587.9 550.7,587.0 551.2,587.9 551.7,590.5 552.2,594.3 552.7,598.7 553.2,603.0 553.7,606.9 554.2,610.2 554.7,612.8 555.2,614.8 555.7,616.2 556.2,617.2 556.7,618.0 557.2,618.5 557.7,619.0 558.2,619.3 558.7,619.6 559.2,619.8 559.7,620.1 560.2,620.2 560.7,620.4 561.2,620.5 561.7,620.6 562.2,620.7 562.7,620.8 563.2,620.9 563.7,621.0 564.2,621.1 564.7,621.1 565.2,621.2 565.7,621.2 566.2,621.3 566.7,621.3 567.2,621.4 567.7,621.4 568.2,621.4 568.7,621.5 569.2,621.5 569.7,621.5 570.2,621.5 570.7,621.6 571.2,621.6 571.7,621.6 572.2,621.6 572.7,621.6 573.2,621.7 573.7,621.7 574.2,621.7 574.7,621.7 575.2,621.6 575.7,621.6 576.2,621.6 576.7,621.6 577.2,621.6 577.7,621.6 578.2,621.6 578.7,621.6 579.2,621.5 579.7,621.5 580.2,621.5 580.7,621.5 581.2,621.5 581.7,621.4 582.2,621.4 582.7,621.4 583.2,621.3 583.7,621.3 584.2,621.3 584.7,621.3 585.2,621.2 585.7,621.2 586.2,621.1 586.7,621.1 587.2,621.0 587.7,621.0 588.2,620.9 588.7,620.9 589.2,620.8 589.7,620.7 590.2,620.6 590.7,620.5 591.2,620.4 591.7,620.3 592.2,620.2 592.7,620.0 593.2,619.9 593.7,619.7 594.2,619.5 594.7,619.3 595.2,619.0 595.7,618.7 596.2,618.4 596.7,618.0 597.2,617.6 597.7,617.0 598.2,616.4 598.7,615.5 599.2,614.5 599.7,613.0 600.2,611.0 600.7,608.2 601.2,604.2 601.7,598.8 602.2,592.0 602.7,583.8 603.2,574.8 603.7,566.1 604.2,559.0 604.7,554.7 605.2,554.3 605.7,557.8 606.2,564.5 606.7,573.0 607.2,582.0 607.7,590.4 608.2,597.6 608.7,603.2 609.2,607.5 609.7,610.5 610.2,612.7 610.7,614.2 611.2,615.3 611.7,616.2 612.2,616.9 612.7,617.5 613.2,617.0 613.7,616.2 614.2,615.0 614.7,613.7 615.2,612.0 615.7,609.9 616.2,607.6 616.7,605.0 617.2,602.3 617.7,599.5 618.2,597.0 618.7,594.8 619.2,593.2 619.7,592.5 620.2,592.6 620.7,593.5 621.2,595.2 621.7,597.4 622.2,600.1 622.7,602.8 623.2,605.5 623.7,608.1 624.2,610.4 624.7,612.3 625.2,614.0 625.7,615.3 626.2,616.3 626.7,617.2 627.2,617.8 627.7,618.4 628.2,618.8 628.7,619.1 629.2,619.4 629.7,619.6 630.2,619.8 630.7,620.0 631.2,620.1 631.7,620.3 632.2,620.4 632.7,620.5 633.2,620.6 633.7,620.7 634.2,620.8 634.7,620.8 635.2,620.9 635.7,621.0 636.2,621.0 636.7,621.1 637.2,621.1 637.7,621.2 638.2,621.2 638.7,621.3 639.2,621.3 639.7,621.3 640.2,621.4 640.7,621.4 641.2,621.4 641.7,621.4 642.2,621.5 642.7,621.5 643.2,621.5 643.7,621.5 644.2,621.5 644.7,621.6 645.2,621.6 645.7,621.6 646.2,621.6 646.7,621.6 647.2,621.6 647.7,621.7 648.2,621.7 648.7,621.7 649.2,621.7 649.7,621.7 650.2,621.7 650.7,621.7 651.2,621.7 651.7,621.7 652.2,621.7 652.7,621.7 653.2,621.8 653.7,621.8 654.2,621.8 654.7,621.8 655.2,621.8 655.7,621.8 656.2,621.8 656.7,621.8 657.2,621.8 657.7,621.8 658.2,621.8 658.7,621.8 659.2,621.8 659.7,621.8 660.2,621.8 660.7,621.8 661.2,621.8 661.7,621.8 662.2,621.8 662.7,621.9 663.2,621.9 663.7,621.9 664.2,621.9 664.7,621.9 665.2,621.9" fill="none" stroke="#e08cf0" stroke-width="1.0" />
<defs><linearGradient id="gl1" x1="0" y1="0" x2="0" y2="1"><stop offset="0" stop-color="#ecd048" stop-opacity="0.9"/><stop offset="0.45" stop-color="#f6ec60" stop-opacity="0.9"/><stop offset="1" stop-color="#fff" stop-opacity="0.6"/></linearGradient></defs>
<polygon points="446.6,629.6 447.1,629.6 447.6,629.6 448.1,629.6 448.6,629.6 449.1,629.6 449.6,629.6 450.1,629.6 450.6,629.6 451.1,629.6 451.6,629.6 452.1,629.6 452.6,629.6 453.1,629.6 453.6,629.6 454.1,629.6 454.6,629.6 455.1,629.6 455.6,629.6 456.1,629.6 456.6,629.6 457.1,629.6 457.6,629.6 458.1,629.6 458.6,629.6 459.1,629.6 459.6,629.6 460.1,629.6 460.6,629.6 461.1,629.6 461.6,629.6 462.1,629.6 462.6,629.6 463.1,629.6 463.6,629.6 464.1,629.6 464.6,629.6 465.1,629.6 465.6,629.6 466.1,629.6 466.6,629.6 467.1,629.6 467.6,629.6 468.1,629.6 468.6,629.6 469.1,629.6 469.6,629.6 470.1,629.6 470.6,629.6 471.1,629.6 471.6,629.6 472.1,629.6 472.6,629.6 473.1,629.6 473.7,629.6 474.2,629.6 474.7,629.6 475.2,629.6 475.7,629.6 476.2,629.6 476.7,629.6 477.2,629.6 477.7,629.6 478.2,629.6 478.7,629.6 479.2,629.6 479.7,629.6 480.2,629.6 480.7,629.6 481.2,629.6 481.7,629.6 482.2,629.6 482.7,629.6 483.2,629.6 483.7,629.6 484.2,629.6 484.7,629.6 485.2,629.6 485.7,629.6 486.2,629.6 486.7,629.6 487.2,629.6 487.7,629.6 488.2,629.6 488.7,629.5 489.2,629.5 489.7,629.5 490.2,629.5 490.7,629.5 491.2,629.5 491.7,629.5 492.2,629.5 492.7,629.5 493.2,629.5 493.7,629.5 494.2,629.5 494.7,629.4 495.2,629.4 495.7,629.4 496.2,629.3 496.7,629.3 497.2,629.2 497.7,629.1 498.2,628.9 498.7,628.6 499.2,628.3 499.7,627.9 500.2,627.5 500.7,627.2 501.2,627.0 501.7,627.1 502.2,627.3 502.7,627.7 503.2,628.1 503.7,628.5 504.2,628.8 504.7,629.0 505.2,629.1 505.7,629.2 506.2,629.3 506.7,629.4 507.2,629.4 507.7,629.4 508.2,629.4 508.7,629.5 509.2,629.5 509.7,629.5 510.2,629.5 510.7,629.5 511.2,629.5 511.7,629.5 512.2,629.5 512.7,629.5 513.2,629.5 513.7,629.5 514.2,629.5 514.7,629.5 515.2,629.5 515.7,629.5 516.2,629.5 516.7,629.4 517.2,629.4 517.7,629.4 518.2,629.4 518.7,629.4 519.2,629.4 519.7,629.4 520.2,629.4 520.7,629.4 521.2,629.3 521.7,629.3 522.2,629.3 522.7,629.3 523.2,629.3 523.7,629.2 524.2,629.2 524.7,629.2 525.2,629.1 525.7,629.1 526.2,629.1 526.7,629.0 527.2,628.9 527.8,628.9 528.3,628.8 528.8,628.7 529.3,628.6 529.8,628.5 530.3,628.3 530.8,628.1 531.3,627.8 531.8,627.4 532.3,626.9 532.8,626.1 533.3,625.0 533.8,623.7 534.3,622.0 534.8,620.2 535.3,618.5 535.8,617.0 536.3,616.1 536.8,615.9 537.3,616.6 537.8,617.9 538.3,619.6 538.8,621.4 539.3,623.2 539.8,624.6 540.3,625.8 540.8,626.6 541.3,626.5 541.8,625.7 542.3,624.5 542.8,623.0 543.3,621.1 543.8,618.9 544.3,616.6 544.8,614.4 545.3,612.8 545.8,612.0 546.3,612.3 546.8,613.6 547.3,615.5 547.8,617.8 548.3,620.1 548.8,622.2 549.3,623.9 549.8,625.2 550.3,626.2 550.8,626.9 551.3,627.4 551.8,627.7 552.3,628.0 552.8,628.2 553.3,628.3 553.8,628.5 554.3,628.6 554.8,628.7 555.3,628.8 555.8,628.8 556.3,628.9 556.8,629.0 557.3,629.0 557.8,629.1 558.3,629.1 558.8,629.1 559.3,629.2 559.8,629.2 560.3,629.2 560.8,629.2 561.3,629.3 561.8,629.3 562.3,629.3 562.8,629.3 563.3,629.3 563.8,629.4 564.3,629.4 564.8,629.4 565.3,629.4 565.8,629.4 566.3,629.4 566.8,629.4 567.3,629.4 567.8,629.4 568.3,629.4 568.8,629.4 569.3,629.5 569.8,629.5 570.3,629.5 570.8,629.5 571.3,629.5 571.8,629.5 572.3,629.5 572.8,629.5 573.3,629.5 573.8,629.5 574.3,629.4 574.8,629.4 575.3,629.4 575.8,629.4 576.3,629.4 576.8,629.4 577.3,629.4 577.8,629.4 578.3,629.4 578.8,629.4 579.3,629.4 579.8,629.4 580.3,629.3 580.8,629.3 581.3,629.3 581.9,629.3 582.4,629.3 582.9,629.3 583.4,629.3 583.9,629.2 584.4,629.2 584.9,629.2 585.4,629.2 585.9,629.1 586.4,629.1 586.9,629.1 587.4,629.1 587.9,629.0 588.4,629.0 588.9,628.9 589.4,628.9 589.9,628.8 590.4,628.7 590.9,628.7 591.4,628.6 591.9,628.5 592.4,628.4 592.9,628.2 593.4,628.1 593.9,627.9 594.4,627.7 594.9,627.4 595.4,627.1 595.9,626.7 596.4,626.1 596.9,625.3 597.4,624.2 597.9,622.5 598.4,620.1 598.9,616.9 599.4,612.9 599.9,608.4 600.4,604.0 600.9,600.6 601.4,599.0 601.9,599.6 602.4,602.3 602.9,606.3 603.4,610.9 603.9,615.2 604.4,618.8 604.9,621.5 605.4,623.5 605.9,624.9 606.4,625.8 606.9,626.4 607.4,626.9 607.9,627.3 608.4,627.6 608.9,627.6 609.4,627.2 609.9,626.8 610.4,626.2 610.9,625.4 611.4,624.3 611.9,623.0 612.4,621.3 612.9,619.4 613.4,617.4 613.9,615.5 614.4,613.7 614.9,612.5 615.4,612.0 615.9,612.3 616.4,613.3 616.9,614.8 617.4,616.7 617.9,618.7 618.4,620.7 618.9,622.4 619.4,623.9 619.9,625.0 620.4,625.9 620.9,626.6 621.4,627.1 621.9,627.5 622.4,627.8 622.9,628.0 623.4,628.2 623.9,628.3 624.4,628.4 624.9,628.5 625.4,628.6 625.9,628.7 626.4,628.8 626.9,628.8 627.4,628.9 627.9,628.9 628.4,629.0 628.9,629.0 629.4,629.1 629.9,629.1 630.4,629.1 630.9,629.2 631.4,629.2 631.9,629.2 632.4,629.2 632.9,629.3 633.4,629.3 633.9,629.3 634.4,629.3 634.9,629.3 635.4,629.3 636.0,629.3 636.5,629.4 637.0,629.4 637.5,629.4 638.0,629.4 638.5,629.4 639.0,629.4 639.5,629.4 640.0,629.4 640.5,629.4 641.0,629.4 641.5,629.4 642.0,629.4 642.5,629.5 643.0,629.5 643.5,629.5 644.0,629.5 644.5,629.5 645.0,629.5 645.5,629.5 646.0,629.5 646.5,629.5 647.0,629.5 647.5,629.5 648.0,629.5 648.5,629.5 649.0,629.5 649.5,629.5 650.0,629.5 650.5,629.5 651.0,629.5 651.5,629.5 652.0,629.5 652.5,629.5 653.0,629.5 653.5,629.5 654.0,629.5 654.5,629.5 655.0,629.5 655.5,629.5 656.0,629.5 656.5,629.5 657.0,629.5 657.5,629.5 658.0,629.5 658.5,629.5 659.0,629.5 659.5,629.5 660.0,629.5 660.5,629.5 661.0,629.5 661.5,629.5 662.0,629.5 662.5,629.6 663.0,629.6 663.0,629.6 446.6,629.6" fill="url(#gl1)" stroke="none" stroke-width="1" />
<polyline points="446.6,629.6 447.1,629.6 447.6,629.6 448.1,629.6 448.6,629.6 449.1,629.6 449.6,629.6 450.1,629.6 450.6,629.6 451.1,629.6 451.6,629.6 452.1,629.6 452.6,629.6 453.1,629.6 453.6,629.6 454.1,629.6 454.6,629.6 455.1,629.6 455.6,629.6 456.1,629.6 456.6,629.6 457.1,629.6 457.6,629.6 458.1,629.6 458.6,629.6 459.1,629.6 459.6,629.6 460.1,629.6 460.6,629.6 461.1,629.6 461.6,629.6 462.1,629.6 462.6,629.6 463.1,629.6 463.6,629.6 464.1,629.6 464.6,629.6 465.1,629.6 465.6,629.6 466.1,629.6 466.6,629.6 467.1,629.6 467.6,629.6 468.1,629.6 468.6,629.6 469.1,629.6 469.6,629.6 470.1,629.6 470.6,629.6 471.1,629.6 471.6,629.6 472.1,629.6 472.6,629.6 473.1,629.6 473.7,629.6 474.2,629.6 474.7,629.6 475.2,629.6 475.7,629.6 476.2,629.6 476.7,629.6 477.2,629.6 477.7,629.6 478.2,629.6 478.7,629.6 479.2,629.6 479.7,629.6 480.2,629.6 480.7,629.6 481.2,629.6 481.7,629.6 482.2,629.6 482.7,629.6 483.2,629.6 483.7,629.6 484.2,629.6 484.7,629.6 485.2,629.6 485.7,629.6 486.2,629.6 486.7,629.6 487.2,629.6 487.7,629.6 488.2,629.6 488.7,629.5 489.2,629.5 489.7,629.5 490.2,629.5 490.7,629.5 491.2,629.5 491.7,629.5 492.2,629.5 492.7,629.5 493.2,629.5 493.7,629.5 494.2,629.5 494.7,629.4 495.2,629.4 495.7,629.4 496.2,629.3 496.7,629.3 497.2,629.2 497.7,629.1 498.2,628.9 498.7,628.6 499.2,628.3 499.7,627.9 500.2,627.5 500.7,627.2 501.2,627.0 501.7,627.1 502.2,627.3 502.7,627.7 503.2,628.1 503.7,628.5 504.2,628.8 504.7,629.0 505.2,629.1 505.7,629.2 506.2,629.3 506.7,629.4 507.2,629.4 507.7,629.4 508.2,629.4 508.7,629.5 509.2,629.5 509.7,629.5 510.2,629.5 510.7,629.5 511.2,629.5 511.7,629.5 512.2,629.5 512.7,629.5 513.2,629.5 513.7,629.5 514.2,629.5 514.7,629.5 515.2,629.5 515.7,629.5 516.2,629.5 516.7,629.4 517.2,629.4 517.7,629.4 518.2,629.4 518.7,629.4 519.2,629.4 519.7,629.4 520.2,629.4 520.7,629.4 521.2,629.3 521.7,629.3 522.2,629.3 522.7,629.3 523.2,629.3 523.7,629.2 524.2,629.2 524.7,629.2 525.2,629.1 525.7,629.1 526.2,629.1 526.7,629.0 527.2,628.9 527.8,628.9 528.3,628.8 528.8,628.7 529.3,628.6 529.8,628.5 530.3,628.3 530.8,628.1 531.3,627.8 531.8,627.4 532.3,626.9 532.8,626.1 533.3,625.0 533.8,623.7 534.3,622.0 534.8,620.2 535.3,618.5 535.8,617.0 536.3,616.1 536.8,615.9 537.3,616.6 537.8,617.9 538.3,619.6 538.8,621.4 539.3,623.2 539.8,624.6 540.3,625.8 540.8,626.6 541.3,626.5 541.8,625.7 542.3,624.5 542.8,623.0 543.3,621.1 543.8,618.9 544.3,616.6 544.8,614.4 545.3,612.8 545.8,612.0 546.3,612.3 546.8,613.6 547.3,615.5 547.8,617.8 548.3,620.1 548.8,622.2 549.3,623.9 549.8,625.2 550.3,626.2 550.8,626.9 551.3,627.4 551.8,627.7 552.3,628.0 552.8,628.2 553.3,628.3 553.8,628.5 554.3,628.6 554.8,628.7 555.3,628.8 555.8,628.8 556.3,628.9 556.8,629.0 557.3,629.0 557.8,629.1 558.3,629.1 558.8,629.1 559.3,629.2 559.8,629.2 560.3,629.2 560.8,629.2 561.3,629.3 561.8,629.3 562.3,629.3 562.8,629.3 563.3,629.3 563.8,629.4 564.3,629.4 564.8,629.4 565.3,629.4 565.8,629.4 566.3,629.4 566.8,629.4 567.3,629.4 567.8,629.4 568.3,629.4 568.8,629.4 569.3,629.5 569.8,629.5 570.3,629.5 570.8,629.5 571.3,629.5 571.8,629.5 572.3,629.5 572.8,629.5 573.3,629.5 573.8,629.5 574.3,629.4 574.8,629.4 575.3,629.4 575.8,629.4 576.3,629.4 576.8,629.4 577.3,629.4 577.8,629.4 578.3,629.4 578.8,629.4 579.3,629.4 579.8,629.4 580.3,629.3 580.8,629.3 581.3,629.3 581.9,629.3 582.4,629.3 582.9,629.3 583.4,629.3 583.9,629.2 584.4,629.2 584.9,629.2 585.4,629.2 585.9,629.1 586.4,629.1 586.9,629.1 587.4,629.1 587.9,629.0 588.4,629.0 588.9,628.9 589.4,628.9 589.9,628.8 590.4,628.7 590.9,628.7 591.4,628.6 591.9,628.5 592.4,628.4 592.9,628.2 593.4,628.1 593.9,627.9 594.4,627.7 594.9,627.4 595.4,627.1 595.9,626.7 596.4,626.1 596.9,625.3 597.4,624.2 597.9,622.5 598.4,620.1 598.9,616.9 599.4,612.9 599.9,608.4 600.4,604.0 600.9,600.6 601.4,599.0 601.9,599.6 602.4,602.3 602.9,606.3 603.4,610.9 603.9,615.2 604.4,618.8 604.9,621.5 605.4,623.5 605.9,624.9 606.4,625.8 606.9,626.4 607.4,626.9 607.9,627.3 608.4,627.6 608.9,627.6 609.4,627.2 609.9,626.8 610.4,626.2 610.9,625.4 611.4,624.3 611.9,623.0 612.4,621.3 612.9,619.4 613.4,617.4 613.9,615.5 614.4,613.7 614.9,612.5 615.4,612.0 615.9,612.3 616.4,613.3 616.9,614.8 617.4,616.7 617.9,618.7 618.4,620.7 618.9,622.4 619.4,623.9 619.9,625.0 620.4,625.9 620.9,626.6 621.4,627.1 621.9,627.5 622.4,627.8 622.9,628.0 623.4,628.2 623.9,628.3 624.4,628.4 624.9,628.5 625.4,628.6 625.9,628.7 626.4,628.8 626.9,628.8 627.4,628.9 627.9,628.9 628.4,629.0 628.9,629.0 629.4,629.1 629.9,629.1 630.4,629.1 630.9,629.2 631.4,629.2 631.9,629.2 632.4,629.2 632.9,629.3 633.4,629.3 633.9,629.3 634.4,629.3 634.9,629.3 635.4,629.3 636.0,629.3 636.5,629.4 637.0,629.4 637.5,629.4 638.0,629.4 638.5,629.4 639.0,629.4 639.5,629.4 640.0,629.4 640.5,629.4 641.0,629.4 641.5,629.4 642.0,629.4 642.5,629.5 643.0,629.5 643.5,629.5 644.0,629.5 644.5,629.5 645.0,629.5 645.5,629.5 646.0,629.5 646.5,629.5 647.0,629.5 647.5,629.5 648.0,629.5 648.5,629.5 649.0,629.5 649.5,629.5 650.0,629.5 650.5,629.5 651.0,629.5 651.5,629.5 652.0,629.5 652.5,629.5 653.0,629.5 653.5,629.5 654.0,629.5 654.5,629.5 655.0,629.5 655.5,629.5 656.0,629.5 656.5,629.5 657.0,629.5 657.5,629.5 658.0,629.5 658.5,629.5 659.0,629.5 659.5,629.5 660.0,629.5 660.5,629.5 661.0,629.5 661.5,629.5 662.0,629.5 662.5,629.6 663.0,629.6" fill="none" stroke="#ecd048" stroke-width="1.0" />
<defs><linearGradient id="gl2" x1="0" y1="0" x2="0" y2="1"><stop offset="0" stop-color="#6cc8f0" stop-opacity="0.9"/><stop offset="0.45" stop-color="#c8ecf8" stop-opacity="0.9"/><stop offset="1" stop-color="#fff" stop-opacity="0.6"/></linearGradient></defs>
<polygon points="439.4,637.1 439.9,637.1 440.4,637.1 440.9,637.1 441.4,637.1 441.9,637.1 442.4,637.1 442.9,637.1 443.4,637.1 443.9,637.1 444.4,637.1 444.9,637.1 445.4,637.1 445.9,637.1 446.4,637.1 446.9,637.1 447.4,637.1 447.9,637.1 448.4,637.1 448.9,637.1 449.4,637.1 449.9,637.1 450.4,637.1 450.9,637.1 451.4,637.1 451.9,637.1 452.4,637.1 452.9,637.1 453.4,637.1 453.9,637.1 454.4,637.1 454.9,637.1 455.4,637.1 455.9,637.1 456.4,637.1 456.9,637.1 457.4,637.1 457.9,637.1 458.4,637.1 458.9,637.1 459.4,637.1 459.9,637.1 460.4,637.1 460.9,637.1 461.4,637.1 461.9,637.1 462.4,637.1 462.9,637.1 463.4,637.1 463.9,637.1 464.4,637.1 464.9,637.1 465.4,637.1 465.9,637.1 466.4,637.1 466.9,637.1 467.4,637.1 467.9,637.1 468.4,637.1 468.9,637.1 469.4,637.1 469.9,637.1 470.4,637.1 470.9,637.1 471.4,637.1 471.9,637.1 472.4,637.1 472.9,637.1 473.4,637.1 473.9,637.1 474.4,637.1 474.9,637.1 475.4,637.1 475.9,637.1 476.4,637.1 476.9,637.1 477.4,637.1 477.9,637.1 478.4,637.1 478.9,637.1 479.4,637.1 479.9,637.1 480.4,637.1 480.9,637.1 481.4,637.1 481.9,637.1 482.4,637.1 482.9,637.1 483.4,637.1 483.9,637.1 484.4,637.1 484.9,637.1 485.4,637.1 485.9,637.1 486.4,637.1 486.9,637.1 487.4,637.1 487.9,637.1 488.4,637.1 488.9,637.1 489.4,637.1 489.9,637.1 490.4,637.1 490.9,637.1 491.4,637.1 491.9,637.1 492.4,637.1 492.9,637.1 493.4,637.1 493.9,637.1 494.4,637.1 494.9,637.1 495.4,637.1 495.9,637.1 496.4,637.1 496.9,637.1 497.4,637.1 497.9,637.1 498.4,637.1 498.9,637.1 499.4,637.1 499.9,637.1 500.4,637.1 500.9,637.1 501.4,637.1 501.9,637.1 502.4,637.1 502.9,637.1 503.4,637.1 503.9,637.1 504.4,637.1 504.9,637.1 505.4,637.1 505.9,637.1 506.4,637.1 506.9,637.1 507.4,637.1 507.9,637.1 508.4,637.1 508.9,637.1 509.4,637.1 509.9,637.1 510.4,637.1 510.9,637.1 511.4,637.1 511.9,637.1 512.4,637.1 512.9,637.1 513.4,637.1 513.9,637.1 514.4,637.1 514.9,637.1 515.4,637.1 515.9,637.1 516.4,637.1 516.9,637.1 517.4,637.1 517.9,637.0 518.4,637.0 518.9,637.0 519.4,637.0 519.9,637.0 520.4,637.0 520.9,637.0 521.4,637.0 521.9,637.0 522.4,637.0 522.9,637.0 523.4,637.0 523.9,637.0 524.4,636.9 524.9,636.9 525.4,636.9 525.9,636.9 526.4,636.8 526.9,636.8 527.4,636.7 527.9,636.6 528.4,636.5 528.9,636.3 529.4,636.1 529.9,635.8 530.4,635.4 530.9,635.0 531.4,634.7 531.9,634.5 532.4,634.5 532.9,634.6 533.4,634.9 533.9,635.3 534.4,635.6 534.9,635.9 535.4,636.2 535.9,636.2 536.4,635.7 536.9,635.0 537.4,634.2 537.9,633.4 538.4,633.1 538.9,633.3 539.4,634.0 539.9,632.1 540.4,629.5 540.9,629.5 541.4,632.0 541.9,634.5 542.4,635.8 542.9,636.3 543.4,636.5 543.9,636.7 544.4,636.8 544.9,636.8 545.4,636.9 545.9,636.9 546.4,637.0 546.9,637.0 547.4,637.0 547.9,637.0 548.4,637.0 548.9,637.0 549.4,637.0 550.0,637.0 550.5,637.0 551.0,637.1 551.5,637.1 552.0,637.1 552.5,637.1 553.0,637.1 553.5,637.1 554.0,637.1 554.5,637.1 555.0,637.1 555.5,637.1 556.0,637.1 556.5,637.1 557.0,637.1 557.5,637.1 558.0,637.1 558.5,637.1 559.0,637.1 559.5,637.1 560.0,637.1 560.5,637.1 561.0,637.1 561.5,637.1 562.0,637.1 562.5,637.1 563.0,637.1 563.5,637.1 564.0,637.1 564.5,637.1 565.0,637.1 565.5,637.1 566.0,637.1 566.5,637.1 567.0,637.1 567.5,637.1 568.0,637.1 568.5,637.1 569.0,637.1 569.5,637.1 570.0,637.1 570.5,637.1 571.0,637.1 571.5,637.1 572.0,637.1 572.5,637.1 573.0,637.1 573.5,637.1 574.0,637.1 574.5,637.1 575.0,637.1 575.5,637.1 576.0,637.1 576.5,637.1 577.0,637.1 577.5,637.1 578.0,637.1 578.5,637.1 579.0,637.1 579.5,637.0 580.0,637.0 580.5,637.0 581.0,637.0 581.5,637.0 582.0,637.0 582.5,637.0 583.0,637.0 583.5,637.0 584.0,637.0 584.5,637.0 585.0,637.0 585.5,637.0 586.0,637.0 586.5,637.0 587.0,636.9 587.5,636.9 588.0,636.9 588.5,636.9 589.0,636.8 589.5,636.8 590.0,636.8 590.5,636.7 591.0,636.6 591.5,636.5 592.0,636.4 592.5,636.2 593.0,635.8 593.5,635.3 594.0,634.6 594.5,633.8 595.0,633.0 595.5,632.4 596.0,632.1 596.5,631.9 597.0,628.6 597.5,626.2 598.0,627.1 598.5,630.3 599.0,633.3 599.5,635.0 600.0,635.8 600.5,636.2 601.0,636.4 601.5,636.6 602.0,636.7 602.5,636.7 603.0,636.8 603.5,636.9 604.0,636.9 604.5,636.9 605.0,636.8 605.5,636.8 606.0,636.7 606.5,636.6 607.0,636.5 607.5,636.3 608.0,636.1 608.5,635.8 609.0,635.4 609.5,635.0 610.0,634.6 610.5,634.3 611.0,634.1 611.5,634.2 612.0,634.4 612.5,634.7 613.0,635.2 613.5,635.6 614.0,635.9 614.5,636.2 615.0,636.4 615.5,636.6 616.0,636.7 616.5,636.8 617.0,636.8 617.5,636.8 618.0,636.9 618.5,636.9 619.0,636.9 619.5,636.9 620.0,637.0 620.5,637.0 621.0,637.0 621.5,637.0 622.0,637.0 622.5,637.0 623.0,637.0 623.5,637.0 624.0,637.0 624.5,637.0 625.0,637.0 625.5,637.0 626.0,637.0 626.5,637.0 627.0,637.1 627.5,637.1 628.0,637.1 628.5,637.1 629.0,637.1 629.5,637.1 630.0,637.1 630.5,637.1 631.0,637.1 631.5,637.1 632.0,637.1 632.5,637.1 633.0,637.1 633.5,637.1 634.0,637.1 634.5,637.1 635.0,637.1 635.5,637.1 636.0,637.1 636.5,637.1 637.0,637.1 637.5,637.1 638.0,637.1 638.5,637.1 639.0,637.1 639.5,637.1 640.0,637.1 640.5,637.1 641.0,637.1 641.5,637.1 642.0,637.1 642.5,637.1 643.0,637.1 643.5,637.1 644.0,637.1 644.5,637.1 645.0,637.1 645.5,637.1 646.0,637.1 646.5,637.1 647.0,637.1 647.5,637.1 648.0,637.1 648.5,637.1 649.0,637.1 649.5,637.1 650.0,637.1 650.5,637.1 651.0,637.1 651.5,637.1 652.0,637.1 652.5,637.1 653.0,637.1 653.5,637.1 654.0,637.1 654.5,637.1 655.0,637.1 655.5,637.1 656.0,637.1 656.5,637.1 657.0,637.1 657.5,637.1 658.0,637.1 658.5,637.1 659.0,637.1 659.5,637.1 660.0,637.1 660.5,637.1 660.5,637.1 439.4,637.1" fill="url(#gl2)" stroke="none" stroke-width="1" />
<polyline points="439.4,637.1 439.9,637.1 440.4,637.1 440.9,637.1 441.4,637.1 441.9,637.1 442.4,637.1 442.9,637.1 443.4,637.1 443.9,637.1 444.4,637.1 444.9,637.1 445.4,637.1 445.9,637.1 446.4,637.1 446.9,637.1 447.4,637.1 447.9,637.1 448.4,637.1 448.9,637.1 449.4,637.1 449.9,637.1 450.4,637.1 450.9,637.1 451.4,637.1 451.9,637.1 452.4,637.1 452.9,637.1 453.4,637.1 453.9,637.1 454.4,637.1 454.9,637.1 455.4,637.1 455.9,637.1 456.4,637.1 456.9,637.1 457.4,637.1 457.9,637.1 458.4,637.1 458.9,637.1 459.4,637.1 459.9,637.1 460.4,637.1 460.9,637.1 461.4,637.1 461.9,637.1 462.4,637.1 462.9,637.1 463.4,637.1 463.9,637.1 464.4,637.1 464.9,637.1 465.4,637.1 465.9,637.1 466.4,637.1 466.9,637.1 467.4,637.1 467.9,637.1 468.4,637.1 468.9,637.1 469.4,637.1 469.9,637.1 470.4,637.1 470.9,637.1 471.4,637.1 471.9,637.1 472.4,637.1 472.9,637.1 473.4,637.1 473.9,637.1 474.4,637.1 474.9,637.1 475.4,637.1 475.9,637.1 476.4,637.1 476.9,637.1 477.4,637.1 477.9,637.1 478.4,637.1 478.9,637.1 479.4,637.1 479.9,637.1 480.4,637.1 480.9,637.1 481.4,637.1 481.9,637.1 482.4,637.1 482.9,637.1 483.4,637.1 483.9,637.1 484.4,637.1 484.9,637.1 485.4,637.1 485.9,637.1 486.4,637.1 486.9,637.1 487.4,637.1 487.9,637.1 488.4,637.1 488.9,637.1 489.4,637.1 489.9,637.1 490.4,637.1 490.9,637.1 491.4,637.1 491.9,637.1 492.4,637.1 492.9,637.1 493.4,637.1 493.9,637.1 494.4,637.1 494.9,637.1 495.4,637.1 495.9,637.1 496.4,637.1 496.9,637.1 497.4,637.1 497.9,637.1 498.4,637.1 498.9,637.1 499.4,637.1 499.9,637.1 500.4,637.1 500.9,637.1 501.4,637.1 501.9,637.1 502.4,637.1 502.9,637.1 503.4,637.1 503.9,637.1 504.4,637.1 504.9,637.1 505.4,637.1 505.9,637.1 506.4,637.1 506.9,637.1 507.4,637.1 507.9,637.1 508.4,637.1 508.9,637.1 509.4,637.1 509.9,637.1 510.4,637.1 510.9,637.1 511.4,637.1 511.9,637.1 512.4,637.1 512.9,637.1 513.4,637.1 513.9,637.1 514.4,637.1 514.9,637.1 515.4,637.1 515.9,637.1 516.4,637.1 516.9,637.1 517.4,637.1 517.9,637.0 518.4,637.0 518.9,637.0 519.4,637.0 519.9,637.0 520.4,637.0 520.9,637.0 521.4,637.0 521.9,637.0 522.4,637.0 522.9,637.0 523.4,637.0 523.9,637.0 524.4,636.9 524.9,636.9 525.4,636.9 525.9,636.9 526.4,636.8 526.9,636.8 527.4,636.7 527.9,636.6 528.4,636.5 528.9,636.3 529.4,636.1 529.9,635.8 530.4,635.4 530.9,635.0 531.4,634.7 531.9,634.5 532.4,634.5 532.9,634.6 533.4,634.9 533.9,635.3 534.4,635.6 534.9,635.9 535.4,636.2 535.9,636.2 536.4,635.7 536.9,635.0 537.4,634.2 537.9,633.4 538.4,633.1 538.9,633.3 539.4,634.0 539.9,632.1 540.4,629.5 540.9,629.5 541.4,632.0 541.9,634.5 542.4,635.8 542.9,636.3 543.4,636.5 543.9,636.7 544.4,636.8 544.9,636.8 545.4,636.9 545.9,636.9 546.4,637.0 546.9,637.0 547.4,637.0 547.9,637.0 548.4,637.0 548.9,637.0 549.4,637.0 550.0,637.0 550.5,637.0 551.0,637.1 551.5,637.1 552.0,637.1 552.5,637.1 553.0,637.1 553.5,637.1 554.0,637.1 554.5,637.1 555.0,637.1 555.5,637.1 556.0,637.1 556.5,637.1 557.0,637.1 557.5,637.1 558.0,637.1 558.5,637.1 559.0,637.1 559.5,637.1 560.0,637.1 560.5,637.1 561.0,637.1 561.5,637.1 562.0,637.1 562.5,637.1 563.0,637.1 563.5,637.1 564.0,637.1 564.5,637.1 565.0,637.1 565.5,637.1 566.0,637.1 566.5,637.1 567.0,637.1 567.5,637.1 568.0,637.1 568.5,637.1 569.0,637.1 569.5,637.1 570.0,637.1 570.5,637.1 571.0,637.1 571.5,637.1 572.0,637.1 572.5,637.1 573.0,637.1 573.5,637.1 574.0,637.1 574.5,637.1 575.0,637.1 575.5,637.1 576.0,637.1 576.5,637.1 577.0,637.1 577.5,637.1 578.0,637.1 578.5,637.1 579.0,637.1 579.5,637.0 580.0,637.0 580.5,637.0 581.0,637.0 581.5,637.0 582.0,637.0 582.5,637.0 583.0,637.0 583.5,637.0 584.0,637.0 584.5,637.0 585.0,637.0 585.5,637.0 586.0,637.0 586.5,637.0 587.0,636.9 587.5,636.9 588.0,636.9 588.5,636.9 589.0,636.8 589.5,636.8 590.0,636.8 590.5,636.7 591.0,636.6 591.5,636.5 592.0,636.4 592.5,636.2 593.0,635.8 593.5,635.3 594.0,634.6 594.5,633.8 595.0,633.0 595.5,632.4 596.0,632.1 596.5,631.9 597.0,628.6 597.5,626.2 598.0,627.1 598.5,630.3 599.0,633.3 599.5,635.0 600.0,635.8 600.5,636.2 601.0,636.4 601.5,636.6 602.0,636.7 602.5,636.7 603.0,636.8 603.5,636.9 604.0,636.9 604.5,636.9 605.0,636.8 605.5,636.8 606.0,636.7 606.5,636.6 607.0,636.5 607.5,636.3 608.0,636.1 608.5,635.8 609.0,635.4 609.5,635.0 610.0,634.6 610.5,634.3 611.0,634.1 611.5,634.2 612.0,634.4 612.5,634.7 613.0,635.2 613.5,635.6 614.0,635.9 614.5,636.2 615.0,636.4 615.5,636.6 616.0,636.7 616.5,636.8 617.0,636.8 617.5,636.8 618.0,636.9 618.5,636.9 619.0,636.9 619.5,636.9 620.0,637.0 620.5,637.0 621.0,637.0 621.5,637.0 622.0,637.0 622.5,637.0 623.0,637.0 623.5,637.0 624.0,637.0 624.5,637.0 625.0,637.0 625.5,637.0 626.0,637.0 626.5,637.0 627.0,637.1 627.5,637.1 628.0,637.1 628.5,637.1 629.0,637.1 629.5,637.1 630.0,637.1 630.5,637.1 631.0,637.1 631.5,637.1 632.0,637.1 632.5,637.1 633.0,637.1 633.5,637.1 634.0,637.1 634.5,637.1 635.0,637.1 635.5,637.1 636.0,637.1 636.5,637.1 637.0,637.1 637.5,637.1 638.0,637.1 638.5,637.1 639.0,637.1 639.5,637.1 640.0,637.1 640.5,637.1 641.0,637.1 641.5,637.1 642.0,637.1 642.5,637.1 643.0,637.1 643.5,637.1 644.0,637.1 644.5,637.1 645.0,637.1 645.5,637.1 646.0,637.1 646.5,637.1 647.0,637.1 647.5,637.1 648.0,637.1 648.5,637.1 649.0,637.1 649.5,637.1 650.0,637.1 650.5,637.1 651.0,637.1 651.5,637.1 652.0,637.1 652.5,637.1 653.0,637.1 653.5,637.1 654.0,637.1 654.5,637.1 655.0,637.1 655.5,637.1 656.0,637.1 656.5,637.1 657.0,637.1 657.5,637.1 658.0,637.1 658.5,637.1 659.0,637.1 659.5,637.1 660.0,637.1 660.5,637.1" fill="none" stroke="#6cc8f0" stroke-width="1.0" />
<defs><linearGradient id="gl3" x1="0" y1="0" x2="0" y2="1"><stop offset="0" stop-color="#a0f0a0" stop-opacity="0.9"/><stop offset="0.45" stop-color="#d8f8d8" stop-opacity="0.9"/><stop offset="1" stop-color="#fff" stop-opacity="0.6"/></linearGradient></defs>
<polygon points="431.2,645.3 431.7,645.3 432.2,645.3 432.7,645.3 433.2,645.3 433.7,645.3 434.2,645.3 434.7,645.3 435.2,645.3 435.7,645.3 436.2,645.3 436.7,645.3 437.2,645.3 437.7,645.3 438.2,645.3 438.7,645.3 439.2,645.3 439.7,645.3 440.2,645.3 440.7,645.3 441.2,645.3 441.7,645.3 442.2,645.3 442.7,645.3 443.2,645.3 443.7,645.3 444.2,645.3 444.7,645.3 445.2,645.3 445.7,645.3 446.2,645.3 446.7,645.3 447.2,645.3 447.7,645.3 448.2,645.3 448.7,645.3 449.2,645.3 449.7,645.3 450.2,645.3 450.7,645.3 451.2,645.3 451.7,645.3 452.2,645.3 452.7,645.3 453.2,645.3 453.7,645.3 454.2,645.3 454.7,645.3 455.2,645.3 455.7,645.3 456.2,645.3 456.7,645.3 457.2,645.3 457.7,645.3 458.2,645.3 458.7,645.3 459.2,645.3 459.7,645.3 460.2,645.3 460.7,645.3 461.2,645.3 461.7,645.3 462.2,645.3 462.7,645.3 463.2,645.3 463.7,645.3 464.2,645.3 464.7,645.3 465.2,645.3 465.7,645.3 466.2,645.3 466.7,645.3 467.2,645.3 467.7,645.3 468.2,645.3 468.7,645.3 469.3,645.3 469.8,645.3 470.3,645.3 470.8,645.3 471.3,645.3 471.8,645.3 472.3,645.3 472.8,645.3 473.3,645.3 473.8,645.3 474.3,645.3 474.8,645.3 475.3,645.3 475.8,645.3 476.3,645.3 476.8,645.3 477.3,645.3 477.8,645.3 478.3,645.3 478.8,645.3 479.3,645.3 479.8,645.3 480.3,645.3 480.8,645.3 481.3,645.3 481.8,645.3 482.3,645.3 482.8,645.3 483.3,645.3 483.8,645.3 484.3,645.3 484.8,645.3 485.3,645.3 485.8,645.3 486.3,645.3 486.8,645.3 487.3,645.3 487.8,645.3 488.3,645.3 488.8,645.3 489.3,645.3 489.8,645.3 490.3,645.3 490.8,645.3 491.3,645.3 491.8,645.3 492.3,645.3 492.8,645.3 493.3,645.3 493.8,645.3 494.3,645.3 494.8,645.3 495.3,645.3 495.8,645.3 496.3,645.3 496.8,645.3 497.3,645.3 497.8,645.3 498.3,645.3 498.8,645.3 499.3,645.3 499.8,645.3 500.3,645.3 500.8,645.3 501.3,645.3 501.8,645.3 502.3,645.3 502.8,645.3 503.3,645.3 503.8,645.3 504.3,645.3 504.8,645.3 505.3,645.3 505.8,645.3 506.3,645.3 506.8,645.3 507.3,645.3 507.8,645.3 508.3,645.3 508.8,645.3 509.3,645.3 509.8,645.3 510.3,645.3 510.8,645.3 511.3,645.3 511.8,645.3 512.3,645.3 512.8,645.3 513.3,645.3 513.8,645.3 514.3,645.3 514.8,645.3 515.3,645.3 515.8,645.3 516.3,645.3 516.8,645.3 517.3,645.2 517.8,645.2 518.3,645.2 518.8,645.2 519.3,645.2 519.8,645.2 520.3,645.2 520.8,645.2 521.3,645.1 521.8,645.1 522.3,645.1 522.8,645.0 523.3,644.9 523.8,644.6 524.3,644.2 524.8,643.6 525.3,642.7 525.8,642.1 526.3,642.1 526.8,642.7 527.3,643.5 527.8,644.2 528.3,644.6 528.8,644.8 529.3,645.0 529.8,645.0 530.3,645.1 530.8,645.0 531.3,645.0 531.8,644.8 532.3,644.7 532.8,644.4 533.3,644.0 533.8,643.4 534.3,642.8 534.8,642.3 535.3,642.0 535.8,642.2 536.3,642.6 536.8,643.3 537.3,643.9 537.8,644.3 538.3,644.6 538.8,644.8 539.3,644.9 539.8,645.0 540.3,645.1 540.8,645.1 541.3,645.1 541.8,645.1 542.3,645.2 542.8,645.2 543.3,645.2 543.8,645.2 544.3,645.2 544.9,645.2 545.4,645.2 545.9,645.2 546.4,645.2 546.9,645.2 547.4,645.3 547.9,645.3 548.4,645.3 548.9,645.3 549.4,645.3 549.9,645.3 550.4,645.3 550.9,645.3 551.4,645.3 551.9,645.3 552.4,645.3 552.9,645.3 553.4,645.3 553.9,645.3 554.4,645.3 554.9,645.3 555.4,645.3 555.9,645.3 556.4,645.3 556.9,645.3 557.4,645.3 557.9,645.3 558.4,645.3 558.9,645.3 559.4,645.3 559.9,645.3 560.4,645.3 560.9,645.3 561.4,645.3 561.9,645.3 562.4,645.3 562.9,645.3 563.4,645.3 563.9,645.3 564.4,645.3 564.9,645.3 565.4,645.3 565.9,645.3 566.4,645.3 566.9,645.3 567.4,645.3 567.9,645.3 568.4,645.3 568.9,645.3 569.4,645.3 569.9,645.3 570.4,645.3 570.9,645.3 571.4,645.3 571.9,645.3 572.4,645.3 572.9,645.3 573.4,645.3 573.9,645.3 574.4,645.3 574.9,645.3 575.4,645.3 575.9,645.3 576.4,645.3 576.9,645.3 577.4,645.3 577.9,645.3 578.4,645.3 578.9,645.3 579.4,645.3 579.9,645.3 580.4,645.3 580.9,645.3 581.4,645.3 581.9,645.3 582.4,645.3 582.9,645.3 583.4,645.3 583.9,645.3 584.4,645.3 584.9,645.2 585.4,645.2 585.9,645.2 586.4,645.2 586.9,645.2 587.4,645.2 587.9,645.2 588.4,645.2 588.9,645.1 589.4,645.1 589.9,645.0 590.4,645.0 590.9,644.8 591.4,644.6 591.9,644.1 592.4,643.4 592.9,642.6 593.4,642.0 593.9,642.1 594.4,642.8 594.9,643.6 595.4,644.3 595.9,644.7 596.4,644.9 596.9,645.0 597.4,645.1 597.9,645.1 598.4,645.1 598.9,645.2 599.4,645.2 599.9,645.2 600.4,645.2 600.9,645.2 601.4,645.1 601.9,645.1 602.4,645.1 602.9,645.1 603.4,645.0 603.9,645.0 604.4,644.9 604.9,644.8 605.4,644.7 605.9,644.5 606.4,644.2 606.9,643.9 607.4,643.6 607.9,643.2 608.4,642.9 608.9,642.6 609.4,642.6 609.9,642.7 610.4,643.0 610.9,643.4 611.4,643.8 611.9,644.1 612.4,644.4 612.9,644.6 613.4,644.8 613.9,644.9 614.4,645.0 614.9,645.0 615.4,645.1 615.9,645.1 616.4,645.1 616.9,645.1 617.4,645.2 617.9,645.2 618.4,645.2 618.9,645.2 619.4,645.2 619.9,645.2 620.4,645.2 621.0,645.2 621.5,645.2 622.0,645.2 622.5,645.2 623.0,645.2 623.5,645.2 624.0,645.2 624.5,645.3 625.0,645.3 625.5,645.3 626.0,645.3 626.5,645.3 627.0,645.3 627.5,645.3 628.0,645.3 628.5,645.3 629.0,645.3 629.5,645.3 630.0,645.3 630.5,645.3 631.0,645.3 631.5,645.3 632.0,645.3 632.5,645.3 633.0,645.3 633.5,645.3 634.0,645.3 634.5,645.3 635.0,645.3 635.5,645.3 636.0,645.3 636.5,645.3 637.0,645.3 637.5,645.3 638.0,645.3 638.5,645.3 639.0,645.3 639.5,645.3 640.0,645.3 640.5,645.3 641.0,645.3 641.5,645.3 642.0,645.3 642.5,645.3 643.0,645.3 643.5,645.3 644.0,645.3 644.5,645.3 645.0,645.3 645.5,645.3 646.0,645.3 646.5,645.3 647.0,645.3 647.5,645.3 648.0,645.3 648.5,645.3 649.0,645.3 649.5,645.3 650.0,645.3 650.5,645.3 651.0,645.3 651.5,645.3 652.0,645.3 652.5,645.3 653.0,645.3 653.5,645.3 654.0,645.3 654.5,645.3 655.0,645.3 655.5,645.3 656.0,645.3 656.5,645.3 657.0,645.3 657.5,645.3 658.0,645.3 658.5,645.3 658.5,645.3 431.2,645.3" fill="url(#gl3)" stroke="none" stroke-width="1" />
<polyline points="431.2,645.3 431.7,645.3 432.2,645.3 432.7,645.3 433.2,645.3 433.7,645.3 434.2,645.3 434.7,645.3 435.2,645.3 435.7,645.3 436.2,645.3 436.7,645.3 437.2,645.3 437.7,645.3 438.2,645.3 438.7,645.3 439.2,645.3 439.7,645.3 440.2,645.3 440.7,645.3 441.2,645.3 441.7,645.3 442.2,645.3 442.7,645.3 443.2,645.3 443.7,645.3 444.2,645.3 444.7,645.3 445.2,645.3 445.7,645.3 446.2,645.3 446.7,645.3 447.2,645.3 447.7,645.3 448.2,645.3 448.7,645.3 449.2,645.3 449.7,645.3 450.2,645.3 450.7,645.3 451.2,645.3 451.7,645.3 452.2,645.3 452.7,645.3 453.2,645.3 453.7,645.3 454.2,645.3 454.7,645.3 455.2,645.3 455.7,645.3 456.2,645.3 456.7,645.3 457.2,645.3 457.7,645.3 458.2,645.3 458.7,645.3 459.2,645.3 459.7,645.3 460.2,645.3 460.7,645.3 461.2,645.3 461.7,645.3 462.2,645.3 462.7,645.3 463.2,645.3 463.7,645.3 464.2,645.3 464.7,645.3 465.2,645.3 465.7,645.3 466.2,645.3 466.7,645.3 467.2,645.3 467.7,645.3 468.2,645.3 468.7,645.3 469.3,645.3 469.8,645.3 470.3,645.3 470.8,645.3 471.3,645.3 471.8,645.3 472.3,645.3 472.8,645.3 473.3,645.3 473.8,645.3 474.3,645.3 474.8,645.3 475.3,645.3 475.8,645.3 476.3,645.3 476.8,645.3 477.3,645.3 477.8,645.3 478.3,645.3 478.8,645.3 479.3,645.3 479.8,645.3 480.3,645.3 480.8,645.3 481.3,645.3 481.8,645.3 482.3,645.3 482.8,645.3 483.3,645.3 483.8,645.3 484.3,645.3 484.8,645.3 485.3,645.3 485.8,645.3 486.3,645.3 486.8,645.3 487.3,645.3 487.8,645.3 488.3,645.3 488.8,645.3 489.3,645.3 489.8,645.3 490.3,645.3 490.8,645.3 491.3,645.3 491.8,645.3 492.3,645.3 492.8,645.3 493.3,645.3 493.8,645.3 494.3,645.3 494.8,645.3 495.3,645.3 495.8,645.3 496.3,645.3 496.8,645.3 497.3,645.3 497.8,645.3 498.3,645.3 498.8,645.3 499.3,645.3 499.8,645.3 500.3,645.3 500.8,645.3 501.3,645.3 501.8,645.3 502.3,645.3 502.8,645.3 503.3,645.3 503.8,645.3 504.3,645.3 504.8,645.3 505.3,645.3 505.8,645.3 506.3,645.3 506.8,645.3 507.3,645.3 507.8,645.3 508.3,645.3 508.8,645.3 509.3,645.3 509.8,645.3 510.3,645.3 510.8,645.3 511.3,645.3 511.8,645.3 512.3,645.3 512.8,645.3 513.3,645.3 513.8,645.3 514.3,645.3 514.8,645.3 515.3,645.3 515.8,645.3 516.3,645.3 516.8,645.3 517.3,645.2 517.8,645.2 518.3,645.2 518.8,645.2 519.3,645.2 519.8,645.2 520.3,645.2 520.8,645.2 521.3,645.1 521.8,645.1 522.3,645.1 522.8,645.0 523.3,644.9 523.8,644.6 524.3,644.2 524.8,643.6 525.3,642.7 525.8,642.1 526.3,642.1 526.8,642.7 527.3,643.5 527.8,644.2 528.3,644.6 528.8,644.8 529.3,645.0 529.8,645.0 530.3,645.1 530.8,645.0 531.3,645.0 531.8,644.8 532.3,644.7 532.8,644.4 533.3,644.0 533.8,643.4 534.3,642.8 534.8,642.3 535.3,642.0 535.8,642.2 536.3,642.6 536.8,643.3 537.3,643.9 537.8,644.3 538.3,644.6 538.8,644.8 539.3,644.9 539.8,645.0 540.3,645.1 540.8,645.1 541.3,645.1 541.8,645.1 542.3,645.2 542.8,645.2 543.3,645.2 543.8,645.2 544.3,645.2 544.9,645.2 545.4,645.2 545.9,645.2 546.4,645.2 546.9,645.2 547.4,645.3 547.9,645.3 548.4,645.3 548.9,645.3 549.4,645.3 549.9,645.3 550.4,645.3 550.9,645.3 551.4,645.3 551.9,645.3 552.4,645.3 552.9,645.3 553.4,645.3 553.9,645.3 554.4,645.3 554.9,645.3 555.4,645.3 555.9,645.3 556.4,645.3 556.9,645.3 557.4,645.3 557.9,645.3 558.4,645.3 558.9,645.3 559.4,645.3 559.9,645.3 560.4,645.3 560.9,645.3 561.4,645.3 561.9,645.3 562.4,645.3 562.9,645.3 563.4,645.3 563.9,645.3 564.4,645.3 564.9,645.3 565.4,645.3 565.9,645.3 566.4,645.3 566.9,645.3 567.4,645.3 567.9,645.3 568.4,645.3 568.9,645.3 569.4,645.3 569.9,645.3 570.4,645.3 570.9,645.3 571.4,645.3 571.9,645.3 572.4,645.3 572.9,645.3 573.4,645.3 573.9,645.3 574.4,645.3 574.9,645.3 575.4,645.3 575.9,645.3 576.4,645.3 576.9,645.3 577.4,645.3 577.9,645.3 578.4,645.3 578.9,645.3 579.4,645.3 579.9,645.3 580.4,645.3 580.9,645.3 581.4,645.3 581.9,645.3 582.4,645.3 582.9,645.3 583.4,645.3 583.9,645.3 584.4,645.3 584.9,645.2 585.4,645.2 585.9,645.2 586.4,645.2 586.9,645.2 587.4,645.2 587.9,645.2 588.4,645.2 588.9,645.1 589.4,645.1 589.9,645.0 590.4,645.0 590.9,644.8 591.4,644.6 591.9,644.1 592.4,643.4 592.9,642.6 593.4,642.0 593.9,642.1 594.4,642.8 594.9,643.6 595.4,644.3 595.9,644.7 596.4,644.9 596.9,645.0 597.4,645.1 597.9,645.1 598.4,645.1 598.9,645.2 599.4,645.2 599.9,645.2 600.4,645.2 600.9,645.2 601.4,645.1 601.9,645.1 602.4,645.1 602.9,645.1 603.4,645.0 603.9,645.0 604.4,644.9 604.9,644.8 605.4,644.7 605.9,644.5 606.4,644.2 606.9,643.9 607.4,643.6 607.9,643.2 608.4,642.9 608.9,642.6 609.4,642.6 609.9,642.7 610.4,643.0 610.9,643.4 611.4,643.8 611.9,644.1 612.4,644.4 612.9,644.6 613.4,644.8 613.9,644.9 614.4,645.0 614.9,645.0 615.4,645.1 615.9,645.1 616.4,645.1 616.9,645.1 617.4,645.2 617.9,645.2 618.4,645.2 618.9,645.2 619.4,645.2 619.9,645.2 620.4,645.2 621.0,645.2 621.5,645.2 622.0,645.2 622.5,645.2 623.0,645.2 623.5,645.2 624.0,645.2 624.5,645.3 625.0,645.3 625.5,645.3 626.0,645.3 626.5,645.3 627.0,645.3 627.5,645.3 628.0,645.3 628.5,645.3 629.0,645.3 629.5,645.3 630.0,645.3 630.5,645.3 631.0,645.3 631.5,645.3 632.0,645.3 632.5,645.3 633.0,645.3 633.5,645.3 634.0,645.3 634.5,645.3 635.0,645.3 635.5,645.3 636.0,645.3 636.5,645.3 637.0,645.3 637.5,645.3 638.0,645.3 638.5,645.3 639.0,645.3 639.5,645.3 640.0,645.3 640.5,645.3 641.0,645.3 641.5,645.3 642.0,645.3 642.5,645.3 643.0,645.3 643.5,645.3 644.0,645.3 644.5,645.3 645.0,645.3 645.5,645.3 646.0,645.3 646.5,645.3 647.0,645.3 647.5,645.3 648.0,645.3 648.5,645.3 649.0,645.3 649.5,645.3 650.0,645.3 650.5,645.3 651.0,645.3 651.5,645.3 652.0,645.3 652.5,645.3 653.0,645.3 653.5,645.3 654.0,645.3 654.5,645.3 655.0,645.3 655.5,645.3 656.0,645.3 656.5,645.3 657.0,645.3 657.5,645.3 658.0,645.3 658.5,645.3" fill="none" stroke="#a0f0a0" stroke-width="1.0" />
<polyline points="423.0,653.6 423.5,653.6 424.0,653.6 424.5,653.6 425.0,653.6 425.5,653.6 426.0,653.6 426.5,653.6 427.0,653.6 427.5,653.6 428.0,653.6 428.5,653.6 429.0,653.6 429.5,653.6 430.0,653.6 430.5,653.6 431.0,653.6 431.5,653.6 432.0,653.6 432.5,653.6 433.0,653.6 433.5,653.6 434.0,653.6 434.5,653.6 435.0,653.6 435.5,653.6 436.0,653.6 436.5,653.6 437.0,653.6 437.5,653.6 438.0,653.6 438.5,653.6 439.0,653.6 439.5,653.6 440.0,653.6 440.5,653.6 441.0,653.6 441.5,653.6 442.0,653.6 442.5,653.6 443.0,653.6 443.5,653.6 444.0,653.6 444.5,653.6 445.0,653.6 445.5,653.6 446.0,653.6 446.5,653.6 447.0,653.6 447.5,653.6 448.0,653.6 448.5,653.6 449.0,653.6 449.5,653.6 450.0,653.6 450.5,653.6 451.0,653.6 451.5,653.6 452.0,653.6 452.5,653.6 453.0,653.6 453.5,653.6 454.0,653.6 454.5,653.6 455.0,653.6 455.5,653.6 456.0,653.6 456.5,653.6 457.0,653.6 457.5,653.6 458.0,653.6 458.5,653.6 459.0,653.6 459.5,653.6 460.0,653.6 460.5,653.6 461.0,653.6 461.5,653.6 462.0,653.6 462.5,653.6 463.0,653.6 463.5,653.6 464.0,653.6 464.5,653.6 465.0,653.6 465.5,653.6 466.0,653.6 466.5,653.6 467.0,653.6 467.5,653.6 468.0,653.6 468.5,653.6 469.0,653.6 469.5,653.6 470.0,653.6 470.5,653.6 471.0,653.6 471.5,653.6 472.0,653.6 472.5,653.6 473.0,653.6 473.5,653.6 474.0,653.6 474.5,653.6 475.0,653.6 475.5,653.6 476.0,653.6 476.5,653.6 477.0,653.6 477.5,653.6 478.0,653.6 478.5,653.6 479.0,653.6 479.5,653.6 480.0,653.6 480.5,653.6 481.0,653.6 481.5,653.6 482.0,653.6 482.5,653.6 483.0,653.6 483.5,653.6 484.0,653.6 484.5,653.6 485.0,653.6 485.5,653.6 486.0,653.6 486.5,653.6 487.0,653.6 487.5,653.6 488.0,653.6 488.5,653.6 489.0,653.6 489.5,653.6 490.0,653.6 490.5,653.6 491.0,653.6 491.5,653.6 492.0,653.6 492.5,653.6 493.0,653.6 493.5,653.6 494.0,653.6 494.5,653.6 495.0,653.6 495.5,653.6 496.0,653.6 496.5,653.6 497.0,653.6 497.5,653.6 498.0,653.6 498.5,653.6 499.0,653.6 499.5,653.6 500.0,653.6 500.5,653.6 501.0,653.6 501.5,653.6 502.0,653.6 502.5,653.6 503.0,653.6 503.5,653.6 504.0,653.6 504.5,653.6 505.0,653.6 505.5,653.6 506.0,653.6 506.5,653.6 507.0,653.6 507.5,653.6 508.0,653.6 508.5,653.6 509.0,653.6 509.5,653.6 510.0,653.6 510.5,653.6 511.0,653.6 511.5,653.6 512.0,653.6 512.5,653.6 513.0,653.6 513.5,653.6 514.0,653.6 514.5,653.6 515.0,653.6 515.5,653.6 516.0,653.6 516.5,653.6 517.0,653.6 517.5,653.6 518.0,653.6 518.5,653.6 519.0,653.6 519.5,653.6 520.0,653.6 520.5,653.6 521.0,653.6 521.5,653.6 522.0,653.6 522.5,653.6 523.0,653.6 523.5,653.5 524.0,653.5 524.5,653.5 525.0,653.5 525.5,653.5 526.0,653.5 526.5,653.5 527.0,653.4 527.5,653.4 528.0,653.3 528.5,653.2 529.0,653.1 529.5,653.0 530.0,653.0 530.5,652.9 531.0,652.9 531.5,652.9 532.0,653.0 532.5,653.0 533.0,653.1 533.5,653.2 534.0,653.3 534.5,653.4 535.0,653.4 535.5,653.5 536.0,653.5 536.5,653.5 537.0,653.5 537.5,653.5 538.0,653.5 538.5,653.5 539.0,653.6 539.5,653.6 540.0,653.6 540.5,653.6 541.0,653.6 541.5,653.6 542.0,653.6 542.5,653.6 543.0,653.6 543.5,653.6 544.0,653.6 544.5,653.6 545.0,653.6 545.5,653.6 546.0,653.6 546.5,653.6 547.0,653.6 547.5,653.6 548.0,653.6 548.5,653.6 549.0,653.6 549.5,653.6 550.0,653.6 550.5,653.6 551.0,653.6 551.5,653.6 552.0,653.6 552.5,653.6 553.0,653.6 553.5,653.6 554.0,653.6 554.5,653.6 555.0,653.6 555.5,653.6 556.0,653.6 556.5,653.6 557.0,653.6 557.5,653.6 558.0,653.6 558.5,653.6 559.0,653.6 559.5,653.6 560.0,653.6 560.5,653.6 561.0,653.6 561.5,653.6 562.0,653.6 562.5,653.6 563.0,653.6 563.5,653.6 564.0,653.6 564.5,653.6 565.0,653.6 565.5,653.6 566.0,653.6 566.5,653.6 567.0,653.6 567.5,653.6 568.0,653.6 568.5,653.6 569.0,653.6 569.5,653.6 570.0,653.6 570.5,653.6 571.0,653.6 571.5,653.6 572.0,653.6 572.5,653.6 573.0,653.6 573.5,653.6 574.0,653.6 574.5,653.6 575.0,653.6 575.5,653.6 576.0,653.6 576.5,653.6 577.0,653.6 577.5,653.6 578.0,653.6 578.5,653.6 579.0,653.6 579.5,653.6 580.0,653.6 580.5,653.6 581.0,653.6 581.5,653.6 582.0,653.6 582.5,653.5 583.0,653.5 583.5,653.5 584.0,653.5 584.5,653.5 585.0,653.5 585.5,653.4 586.0,653.4 586.5,653.3 587.0,653.1 587.5,653.0 588.0,652.9 588.5,652.7 589.0,652.7 589.5,652.7 590.0,652.9 590.5,653.0 591.0,653.1 591.5,653.3 592.0,653.4 592.5,653.4 593.0,653.5 593.5,653.5 594.0,653.5 594.5,653.5 595.0,653.5 595.5,653.5 596.0,653.6 596.5,653.6 597.0,653.6 597.5,653.6 598.0,653.6 598.5,653.6 599.0,653.6 599.5,653.6 600.0,653.6 600.5,653.6 601.0,653.6 601.5,653.6 602.0,653.6 602.5,653.6 603.0,653.6 603.5,653.6 604.0,653.6 604.5,653.6 605.0,653.6 605.5,653.6 606.0,653.6 606.5,653.6 607.0,653.6 607.5,653.6 608.0,653.6 608.5,653.6 609.0,653.6 609.5,653.6 610.0,653.6 610.5,653.6 611.0,653.6 611.5,653.6 612.0,653.6 612.5,653.6 613.0,653.6 613.5,653.6 614.0,653.6 614.5,653.6 615.0,653.6 615.5,653.6 616.0,653.6 616.5,653.6 617.0,653.6 617.5,653.6 618.0,653.6 618.5,653.6 619.0,653.6 619.5,653.6 620.0,653.6 620.5,653.6 621.0,653.6 621.5,653.6 622.0,653.6 622.5,653.6 623.0,653.6 623.5,653.6 624.0,653.6 624.5,653.6 625.0,653.6 625.5,653.6 626.0,653.6 626.5,653.6 627.0,653.6 627.5,653.6 628.0,653.6 628.5,653.6 629.0,653.6 629.5,653.6 630.0,653.6 630.5,653.6 631.0,653.6 631.5,653.6 632.0,653.6 632.5,653.6 633.0,653.6 633.5,653.6 634.0,653.6 634.5,653.6 635.0,653.6 635.5,653.6 636.0,653.6 636.5,653.6 637.0,653.6 637.5,653.6 638.0,653.6 638.5,653.6 639.0,653.6 639.5,653.6 640.0,653.6 640.5,653.6 641.0,653.6 641.5,653.6 642.0,653.6 642.5,653.6 643.0,653.6 643.5,653.6 644.0,653.6 644.5,653.6 645.0,653.6 645.5,653.6 646.0,653.6 646.5,653.6 647.0,653.6 647.5,653.6 648.0,653.6 648.5,653.6 649.0,653.6 649.5,653.6 650.0,653.6 650.5,653.6 651.0,653.6 651.5,653.6 652.0,653.6 652.5,653.6 653.0,653.6 653.5,653.6 654.0,653.6 654.5,653.6 655.0,653.6 655.5,653.6 656.0,653.6" fill="none" stroke="#f048b8" stroke-width="1.0" />
<polyline points="420.0,662.6 420.5,662.6 421.0,662.6 421.5,662.6 422.0,662.6 422.5,662.6 423.0,662.6 423.5,662.6 424.0,662.6 424.5,662.6 425.0,662.6 425.5,662.6 426.0,662.6 426.5,662.6 427.0,662.6 427.5,662.6 428.0,662.6 428.5,662.6 429.0,662.6 429.5,662.6 430.0,662.6 430.5,662.6 431.0,662.6 431.5,662.6 432.0,662.6 432.5,662.6 433.0,662.6 433.5,662.6 434.0,662.6 434.5,662.6 435.0,662.6 435.5,662.6 436.0,662.6 436.5,662.6 437.0,662.6 437.5,662.6 438.0,662.6 438.5,662.6 439.0,662.6 439.5,662.6 440.0,662.6 440.5,662.6 441.0,662.6 441.5,662.6 442.0,662.6 442.5,662.6 443.0,662.6 443.5,662.6 444.0,662.6 444.5,662.6 445.0,662.6 445.5,662.6 446.0,662.6 446.5,662.6 447.0,662.6 447.5,662.6 448.0,662.6 448.5,662.6 449.0,662.6 449.5,662.6 450.0,662.6 450.5,662.6 451.0,662.6 451.5,662.6 452.0,662.6 452.5,662.6 453.0,662.6 453.5,662.6 454.0,662.6 454.5,662.6 455.0,662.6 455.5,662.6 456.0,662.6 456.5,662.6 457.0,662.6 457.5,662.6 458.0,662.6 458.5,662.6 459.0,662.6 459.5,662.6 460.0,662.6 460.5,662.6 461.0,662.6 461.5,662.6 462.0,662.6 462.5,662.6 463.0,662.6 463.5,662.6 464.0,662.6 464.5,662.6 465.0,662.6 465.5,662.6 466.0,662.6 466.5,662.6 467.0,662.6 467.5,662.6 468.0,662.6 468.5,662.6 469.0,662.6 469.5,662.6 470.0,662.6 470.5,662.6 471.0,662.6 471.5,662.6 472.0,662.6 472.5,662.6 473.0,662.6 473.5,662.6 474.0,662.6 474.5,662.6 475.0,662.6 475.5,662.6 476.0,662.6 476.5,662.6 477.0,662.6 477.5,662.6 478.0,662.6 478.5,662.6 479.0,662.6 479.5,662.6 480.0,662.6 480.5,662.6 481.0,662.6 481.5,662.6 482.0,662.6 482.5,662.6 483.0,662.6 483.5,662.6 484.0,662.6 484.5,662.6 485.0,662.6 485.5,662.6 486.0,662.6 486.5,662.6 487.0,662.6 487.5,662.6 488.0,662.6 488.5,662.6 489.0,662.6 489.5,662.6 490.0,662.6 490.5,662.6 491.0,662.6 491.5,662.6 492.0,662.6 492.5,662.6 493.0,662.6 493.5,662.6 494.0,662.6 494.5,662.6 495.0,662.6 495.5,662.6 496.0,662.6 496.5,662.6 497.0,662.6 497.5,662.6 498.0,662.6 498.5,662.6 499.0,662.6 499.5,662.6 500.0,662.6 500.5,662.6 501.0,662.6 501.5,662.6 502.0,662.6 502.5,662.6 503.0,662.6 503.5,662.6 504.0,662.6 504.5,662.6 505.0,662.6 505.5,662.6 506.0,662.6 506.5,662.6 507.0,662.6 507.5,662.6 508.0,662.6 508.5,662.6 509.0,662.6 509.5,662.6 510.0,662.6 510.5,662.6 511.0,662.6 511.5,662.6 512.0,662.6 512.5,662.6 513.0,662.6 513.5,662.6 514.0,662.6 514.5,662.6 515.0,662.6 515.5,662.6 516.0,662.6 516.5,662.6 517.0,662.6 517.5,662.6 518.0,662.6 518.5,662.6 519.0,662.6 519.5,662.6 520.0,662.6 520.5,662.6 521.0,662.6 521.5,662.6 522.0,662.6 522.5,662.6 523.0,662.6 523.5,662.6 524.0,662.6 524.5,662.6 525.0,662.6 525.5,662.6 526.0,662.6 526.5,662.6 527.0,662.6 527.5,662.6 528.0,662.6 528.5,662.6 529.0,662.6 529.5,662.6 530.0,662.6 530.5,662.6 531.0,662.6 531.5,662.6 532.0,662.6 532.5,662.6 533.0,662.6 533.5,662.6 534.0,662.6 534.5,662.6 535.0,662.6 535.5,662.6 536.0,662.6 536.5,662.6 537.0,662.6 537.5,662.6 538.0,662.6 538.5,662.6 539.0,662.6 539.5,662.6 540.0,662.6 540.5,662.6 541.0,662.6 541.5,662.6 542.0,662.6 542.5,662.6 543.0,662.6 543.5,662.6 544.0,662.6 544.5,662.6 545.0,662.6 545.5,662.6 546.0,662.6 546.5,662.6 547.0,662.6 547.5,662.6 548.0,662.6 548.5,662.6 549.0,662.6 549.5,662.6 550.0,662.6 550.5,662.6 551.0,662.6 551.5,662.6 552.0,662.6 552.5,662.6 553.0,662.6 553.5,662.6 554.0,662.6 554.5,662.6 555.0,662.6 555.5,662.6 556.0,662.6 556.5,662.6 557.0,662.6 557.5,662.6 558.0,662.6 558.5,662.6 559.0,662.6 559.5,662.6 560.0,662.6 560.5,662.6 561.0,662.6 561.5,662.6 562.0,662.6 562.5,662.6 563.0,662.6 563.5,662.6 564.0,662.6 564.5,662.6 565.0,662.6 565.5,662.6 566.0,662.6 566.5,662.6 567.0,662.6 567.5,662.6 568.0,662.6 568.5,662.6 569.0,662.6 569.5,662.6 570.0,662.6 570.5,662.6 571.0,662.6 571.5,662.6 572.0,662.6 572.5,662.6 573.0,662.6 573.5,662.6 574.0,662.6 574.5,662.6 575.0,662.6 575.5,662.6 576.0,662.6 576.5,662.6 577.0,662.6 577.5,662.6 578.0,662.6 578.5,662.6 579.0,662.6 579.5,662.6 580.0,662.6 580.5,662.6 581.0,662.6 581.5,662.6 582.0,662.6 582.5,662.6 583.0,662.6 583.5,662.6 584.0,662.6 584.5,662.6 585.0,662.6 585.5,662.6 586.0,662.6 586.5,662.6 587.0,662.6 587.5,662.6 588.0,662.6 588.5,662.6 589.0,662.6 589.5,662.6 590.0,662.6 590.5,662.6 591.0,662.6 591.5,662.6 592.0,662.6 592.5,662.6 593.0,662.6 593.5,662.6 594.0,662.6 594.5,662.6 595.0,662.6 595.5,662.6 596.0,662.6 596.5,662.6 597.0,662.6 597.5,662.6 598.0,662.6 598.5,662.6 599.0,662.6 599.5,662.6 600.0,662.6 600.5,662.6 601.0,662.6 601.5,662.6 602.0,662.6 602.5,662.6 603.0,662.6 603.5,662.6 604.0,662.6 604.5,662.6 605.0,662.6 605.5,662.6 606.0,662.6 606.5,662.6 607.0,662.6 607.5,662.6 608.0,662.6 608.5,662.6 609.0,662.6 609.5,662.6 610.0,662.6 610.5,662.6 611.0,662.6 611.5,662.6 612.0,662.6 612.5,662.6 613.0,662.6 613.5,662.6 614.0,662.6 614.5,662.6 615.0,662.6 615.5,662.6 616.0,662.6 616.5,662.6 617.0,662.6 617.5,662.6 618.0,662.6 618.5,662.6 619.0,662.6 619.5,662.6 620.0,662.6 620.5,662.6 621.0,662.6 621.5,662.6 622.0,662.6 622.5,662.6 623.0,662.6 623.5,662.6 624.0,662.6 624.5,662.6 625.0,662.6 625.5,662.6 626.0,662.6 626.5,662.6 627.0,662.6 627.5,662.6 628.0,662.6 628.5,662.6 629.0,662.6 629.5,662.6 630.0,662.6 630.5,662.6 631.0,662.6 631.5,662.6 632.0,662.6 632.5,662.6 633.0,662.6 633.5,662.6 634.0,662.6 634.5,662.6 635.0,662.6 635.5,662.6 636.0,662.6 636.5,662.6 637.0,662.6 637.5,662.6 638.0,662.6 638.5,662.6 639.0,662.6 639.5,662.6 640.0,662.6 640.5,662.6 641.0,662.6 641.5,662.6 642.0,662.6 642.5,662.6 643.0,662.6 643.5,662.6 644.0,662.6 644.5,662.6 645.0,662.6 645.5,662.6 646.0,662.6 646.5,662.6 647.0,662.6 647.5,662.6 648.0,662.6 648.5,662.6 649.0,662.6 649.5,662.6 650.0,662.6 650.5,662.6 651.0,662.6 651.5,662.6 652.0,662.6 652.5,662.6 653.0,662.6 653.5,662.6" fill="none" stroke="#86d4f0" stroke-width="1.0" />
<rect x="488.5" y="542.1" width="95.5" height="41.7" fill="#040408" />
<defs><linearGradient id="gCuv" x1="0" y1="0" x2="0" y2="1"><stop offset="0" stop-color="#1818c0"/><stop offset="0.5" stop-color="#3434f4"/><stop offset="0.75" stop-color="#4040ff"/><stop offset="1" stop-color="#2020b0"/></linearGradient><filter id="glow"><feGaussianBlur stdDeviation="0.8"/></filter></defs>
<rect x="497" y="549" width="7" height="23" rx="1" fill="url(#gCuv)" opacity="1" filter="url(#glow)"/>
<rect x="496.7" y="563.2" width="7.6" height="1.8" fill="#d8dcff" opacity="1" filter="url(#glow)"/>
<path d="M497,543 L497,547 Q500.5,550 504,547 L504,543" fill="none" stroke="#5a5ab0" stroke-width="0.6" opacity="1"/>
<rect x="510.3" y="549" width="6.999999999999943" height="23" rx="1" fill="url(#gCuv)" opacity="0.95" filter="url(#glow)"/>
<rect x="510.0" y="563.2" width="7.599999999999943" height="1.8" fill="#d8dcff" opacity="0.95" filter="url(#glow)"/>
<path d="M510.3,543 L510.3,547 Q513.8,550 517.3,547 L517.3,543" fill="none" stroke="#5a5ab0" stroke-width="0.6" opacity="0.95"/>
<rect x="523.6" y="549" width="7.0" height="23" rx="1" fill="url(#gCuv)" opacity="0.9" filter="url(#glow)"/>
<rect x="523.3000000000001" y="563.2" width="7.6" height="1.8" fill="#d8dcff" opacity="0.9" filter="url(#glow)"/>
<path d="M523.6,543 L523.6,547 Q527.1,550 530.6,547 L530.6,543" fill="none" stroke="#5a5ab0" stroke-width="0.6" opacity="0.9"/>
<rect x="538.7" y="549" width="6.599999999999909" height="23" rx="1" fill="url(#gCuv)" opacity="0.5" filter="url(#glow)"/>
<rect x="538.4000000000001" y="563.2" width="7.199999999999909" height="1.8" fill="#d8dcff" opacity="0.5" filter="url(#glow)"/>
<path d="M538.7,543 L538.7,547 Q542.0,550 545.3,547 L545.3,543" fill="none" stroke="#5a5ab0" stroke-width="0.6" opacity="0.5"/>
<ellipse cx="492" cy="564" rx="4" ry="1.2" fill="#3030c0" opacity="0.6" filter="url(#glow)"/>
<ellipse cx="555.9" cy="568.5" rx="1.8" ry="0.8" fill="#3030c0"/>
<text x="500.2" y="582.3" font-size="5.4" font-weight="bold" fill="#fff" text-anchor="middle" >0 h</text>
<text x="513.5" y="582.3" font-size="5.4" font-weight="bold" fill="#fff" text-anchor="middle" >4 h</text>
<text x="526.8" y="582.3" font-size="5.4" font-weight="bold" fill="#fff" text-anchor="middle" >6 h</text>
<text x="541.9" y="582.3" font-size="5.4" font-weight="bold" fill="#fff" text-anchor="middle" >12 h</text>
<text x="557.0" y="582.3" font-size="5.4" font-weight="bold" fill="#fff" text-anchor="middle" >24 h</text>
<text x="573.9" y="582.3" font-size="5.4" font-weight="bold" fill="#fff" text-anchor="middle" >48 h</text>
<line x1="444.5" y1="666.6" x2="651.5" y2="666.6" stroke="#222" stroke-width="0.9" />
<line x1="666.0" y1="618.4" x2="651.5" y2="669.0" stroke="#222" stroke-width="0.9" />
<line x1="444.5" y1="666.6" x2="444.5" y2="669.2" stroke="#222" stroke-width="0.8" />
<text x="444.5" y="678.3" font-size="6.6" font-weight="bold" fill="#000" text-anchor="middle" >250</text>
<line x1="461.8" y1="666.6" x2="461.8" y2="668.2" stroke="#222" stroke-width="0.6" />
<line x1="479.1" y1="666.6" x2="479.1" y2="669.2" stroke="#222" stroke-width="0.8" />
<text x="479.1" y="678.3" font-size="6.6" font-weight="bold" fill="#000" text-anchor="middle" >300</text>
<line x1="496.4" y1="666.6" x2="496.4" y2="668.2" stroke="#222" stroke-width="0.6" />
<line x1="513.6" y1="666.6" x2="513.6" y2="669.2" stroke="#222" stroke-width="0.8" />
<text x="513.6" y="678.3" font-size="6.6" font-weight="bold" fill="#000" text-anchor="middle" >350</text>
<line x1="530.9" y1="666.6" x2="530.9" y2="668.2" stroke="#222" stroke-width="0.6" />
<line x1="548.1" y1="666.6" x2="548.1" y2="669.2" stroke="#222" stroke-width="0.8" />
<text x="548.1" y="678.3" font-size="6.6" font-weight="bold" fill="#000" text-anchor="middle" >400</text>
<line x1="565.4" y1="666.6" x2="565.4" y2="668.2" stroke="#222" stroke-width="0.6" />
<line x1="582.7" y1="666.6" x2="582.7" y2="669.2" stroke="#222" stroke-width="0.8" />
<text x="582.7" y="678.3" font-size="6.6" font-weight="bold" fill="#000" text-anchor="middle" >450</text>
<line x1="600.0" y1="666.6" x2="600.0" y2="668.2" stroke="#222" stroke-width="0.6" />
<line x1="617.2" y1="666.6" x2="617.2" y2="669.2" stroke="#222" stroke-width="0.8" />
<text x="617.2" y="678.3" font-size="6.6" font-weight="bold" fill="#000" text-anchor="middle" >500</text>
<line x1="634.5" y1="666.6" x2="634.5" y2="668.2" stroke="#222" stroke-width="0.6" />
<line x1="651.8" y1="666.6" x2="651.8" y2="669.2" stroke="#222" stroke-width="0.8" />
<text x="651.8" y="678.3" font-size="6.6" font-weight="bold" fill="#000" text-anchor="middle" >550</text>
<text x="548.0" y="691.5" font-size="8.8" font-weight="bold" fill="#000" text-anchor="middle" textLength="62.7" lengthAdjust="spacingAndGlyphs" >Wavelength (nm)</text>
<text x="435.2" y="608.5" font-size="9.6" font-weight="bold" fill="#000" text-anchor="middle" textLength="71.6" lengthAdjust="spacingAndGlyphs" transform="rotate(-90 435.2 608.5)" >Intensity (a.u.)</text>
<line x1="664.8" y1="622.7" x2="667.3" y2="622.7" stroke="#222" stroke-width="0.8" />
<text x="668.8" y="624.9" font-size="6.0" font-weight="bold" fill="#000" text-anchor="start" >0 h</text>
<line x1="662.7" y1="629.9" x2="665.2" y2="629.9" stroke="#222" stroke-width="0.8" />
<text x="666.6" y="632.1" font-size="6.0" font-weight="bold" fill="#000" text-anchor="start" >4h</text>
<line x1="660.6" y1="637.4" x2="663.1" y2="637.4" stroke="#222" stroke-width="0.8" />
<text x="664.2" y="639.6" font-size="6.0" font-weight="bold" fill="#000" text-anchor="start" >6h</text>
<line x1="658.3" y1="645.3" x2="660.8" y2="645.3" stroke="#222" stroke-width="0.8" />
<text x="661.6" y="647.5" font-size="6.0" font-weight="bold" fill="#000" text-anchor="start" >12h</text>
<line x1="655.9" y1="653.6" x2="658.4" y2="653.6" stroke="#222" stroke-width="0.8" />
<text x="659.4" y="655.8" font-size="6.0" font-weight="bold" fill="#000" text-anchor="start" >24h</text>
<line x1="653.3" y1="662.8" x2="655.8" y2="662.8" stroke="#222" stroke-width="0.8" />
<text x="657.8" y="665.0" font-size="6.0" font-weight="bold" fill="#000" text-anchor="start" >48h</text>
<text x="679.5" y="641.8" font-size="6.6" font-weight="bold" fill="#111" text-anchor="middle" textLength="18.5" lengthAdjust="spacingAndGlyphs" transform="rotate(-72 679.5 641.8)" >Time (h)</text>
</svg></body></html>
